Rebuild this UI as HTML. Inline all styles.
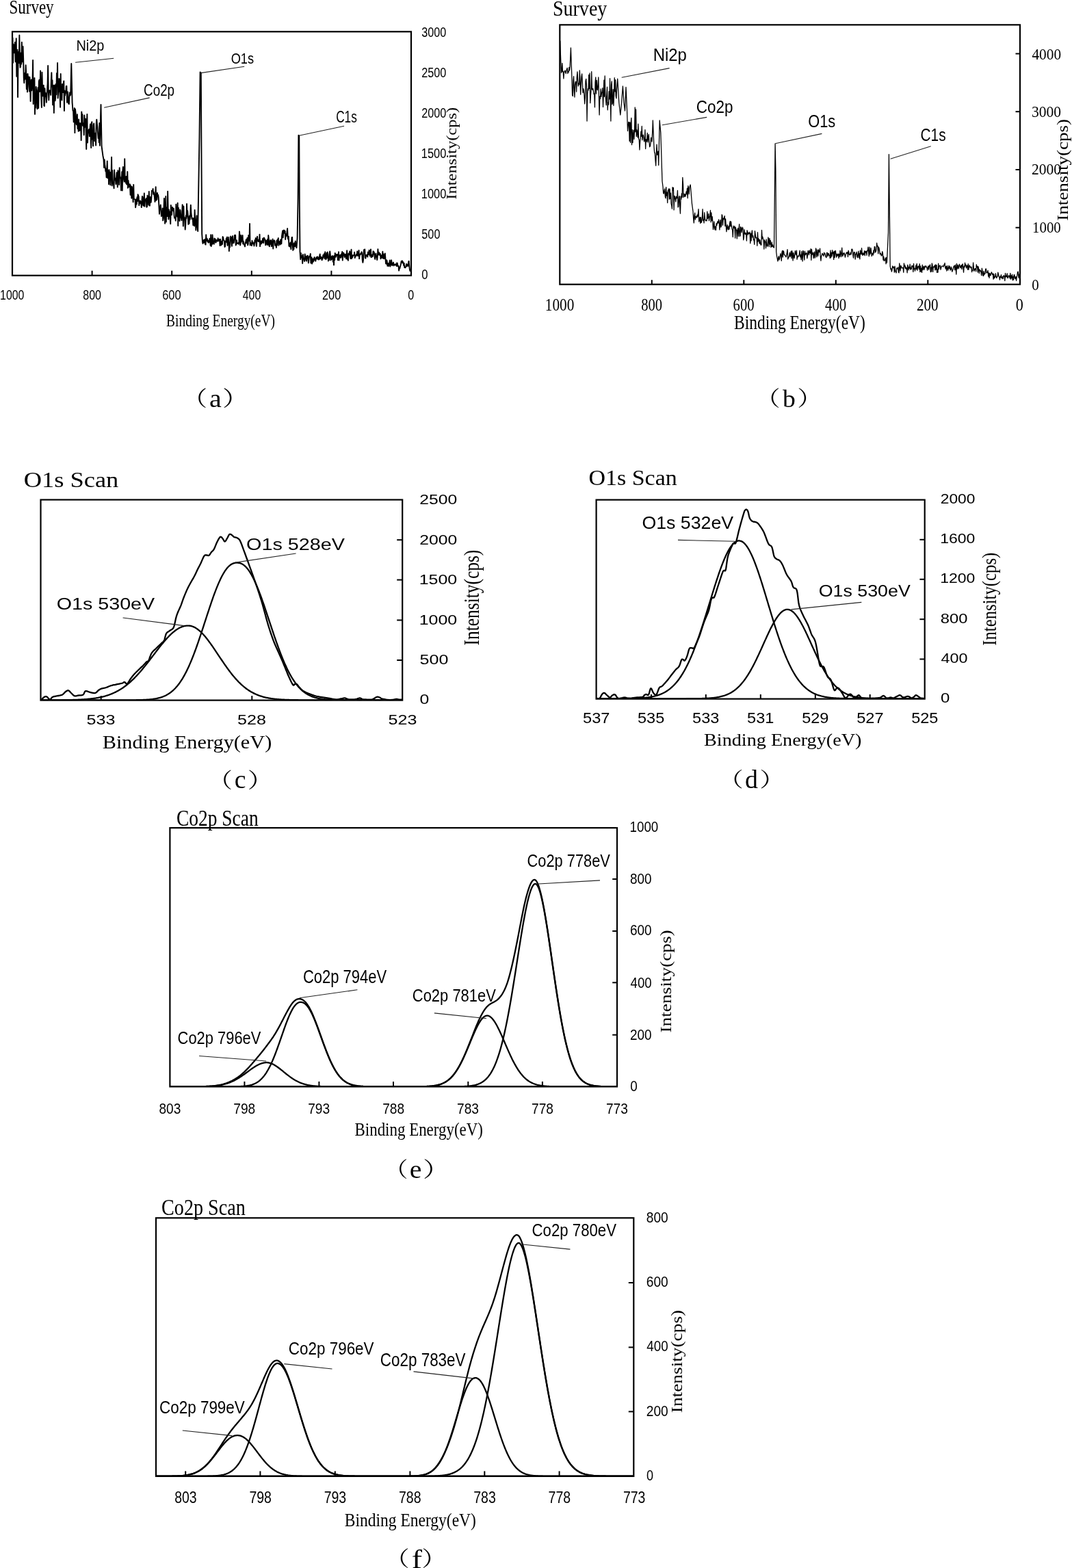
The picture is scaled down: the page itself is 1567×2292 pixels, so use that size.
<!DOCTYPE html>
<html><head><meta charset="utf-8"><title>XPS spectra</title>
<style>
html,body{margin:0;padding:0;background:#fff;}
body{width:1567px;height:2292px;overflow:hidden;}
svg{display:block;}
text{font-size:100px;fill:#000;}
.serif{font-family:'Liberation Serif',serif;}
.sans{font-family:'Liberation Sans',sans-serif;}
.cjk{font-family:'Liberation Serif','Noto Serif CJK SC',serif;}
</style></head>
<body><svg width="1567" height="2292" viewBox="0 0 1567 2292">
<rect width="1567" height="2292" fill="#fff"/>
<clipPath id="ca"><rect x="18" y="46.3" width="583" height="356.4"/></clipPath>
<polyline points="18.50,55.49 19.08,91.62 19.66,64.61 20.24,73.71 20.82,77.21 21.40,69.25 21.98,61.68 22.56,90.30 23.14,87.43 23.72,56.25 24.30,111.70 24.88,96.83 25.46,72.58 26.04,142.00 26.62,75.92 27.20,81.05 27.78,92.03 28.36,51.50 28.94,88.29 29.52,98.62 30.10,97.34 30.68,77.12 31.26,93.63 31.84,61.68 32.42,81.57 33.00,90.34 33.58,67.90 34.16,86.06 34.74,113.60 35.32,121.24 35.90,109.41 36.50,106.61 37.08,115.59 37.66,95.31 38.24,107.82 38.82,130.23 39.40,108.59 39.98,134.38 40.56,108.05 41.14,114.41 41.72,112.07 42.30,126.51 42.88,133.47 43.46,112.77 44.04,124.38 44.62,147.93 45.20,122.82 45.78,116.45 46.36,132.18 46.94,124.35 47.52,118.25 48.10,88.00 48.68,152.05 49.26,120.26 49.84,127.80 50.42,114.07 51.00,166.92 51.58,137.83 52.16,157.54 52.74,126.88 53.32,134.50 53.90,140.11 54.48,159.22 55.06,132.80 55.64,128.04 56.22,158.00 56.80,119.32 57.38,116.61 57.96,133.95 58.54,126.19 59.12,103.53 59.70,127.56 60.28,143.52 60.86,157.00 61.44,105.80 62.02,128.39 62.60,140.29 63.18,132.80 63.76,124.69 64.34,154.37 64.92,155.12 65.50,129.23 66.08,141.16 66.66,135.78 67.24,140.92 67.82,149.73 68.40,141.59 68.98,132.15 69.56,122.60 70.14,96.00 70.72,130.93 71.30,146.40 71.88,135.34 72.46,132.20 73.04,134.94 73.62,132.14 74.20,138.88 74.78,117.25 75.36,106.25 75.94,126.49 76.52,117.16 77.10,153.18 77.68,130.21 78.26,124.79 78.84,165.00 79.42,136.19 80.00,124.50 80.58,147.27 81.16,143.71 81.74,122.77 82.32,138.28 82.90,107.02 83.48,124.35 84.06,92.00 84.64,143.55 85.22,135.64 85.80,133.06 86.38,115.07 86.96,115.93 87.54,136.60 88.12,156.68 88.70,107.86 89.28,142.11 89.86,141.84 90.44,146.47 91.02,122.90 91.60,127.40 92.18,134.96 92.76,121.09 93.34,118.55 93.92,162.00 94.50,132.58 95.08,139.65 95.66,134.55 96.24,135.95 96.82,126.14 97.40,125.75 97.98,149.77 98.56,134.57 99.14,134.30 99.72,147.62 100.30,151.64 100.88,152.17 101.46,140.98 102.04,135.13 102.62,139.63 103.20,138.29 104.30,93.00 105.60,150.00 106.50,161.80 107.08,162.01 107.66,178.38 108.24,167.30 108.82,158.00 109.40,194.12 109.98,159.33 110.56,164.44 111.14,175.60 111.72,181.72 112.30,182.23 112.88,167.12 113.46,188.08 114.04,182.80 114.62,191.86 115.20,174.48 115.78,191.11 116.36,190.84 116.94,179.89 117.52,185.44 118.10,181.27 118.68,205.11 119.26,163.41 119.84,170.32 120.42,167.17 121.00,183.69 121.58,180.01 122.16,183.36 122.74,197.39 123.32,168.34 123.90,178.11 124.48,185.85 125.06,173.80 125.64,193.24 126.22,218.00 126.80,180.00 127.38,167.00 127.96,208.50 128.54,194.65 129.12,194.10 129.70,189.82 130.28,188.88 130.86,199.19 131.44,188.85 132.02,181.36 132.60,197.79 133.18,216.00 133.76,179.77 134.34,178.18 134.92,203.46 135.50,196.98 136.08,213.37 136.66,182.97 137.24,180.38 137.82,194.35 138.40,206.22 138.98,196.75 139.56,194.80 140.14,212.43 140.72,180.64 141.30,174.59 141.88,180.72 142.46,185.92 143.04,194.28 143.62,202.13 144.20,194.74 144.78,208.21 145.36,179.98 145.94,212.85 147.50,153.00 148.60,214.00 150.50,228.00 151.50,233.05 152.08,244.94 152.66,233.39 153.24,240.65 153.82,244.80 154.40,250.48 154.98,246.72 155.56,259.33 156.14,252.27 156.72,235.43 157.30,260.31 157.88,250.96 158.46,248.83 159.04,269.37 159.62,248.30 160.20,258.68 160.78,251.69 161.36,270.36 161.94,254.99 162.52,260.47 163.10,229.63 163.68,271.42 164.26,248.96 164.84,266.86 165.42,268.77 166.00,269.92 166.58,275.23 167.16,248.45 167.74,262.69 168.32,260.39 168.90,263.01 169.48,269.19 170.06,260.37 170.64,252.12 171.22,258.67 171.80,273.48 172.38,249.10 172.96,261.44 173.54,251.04 174.12,269.93 174.70,245.19 175.28,257.04 175.86,259.07 176.44,261.32 177.02,278.35 177.60,274.42 178.18,251.24 178.76,278.59 179.34,249.93 179.92,243.91 180.50,247.34 181.08,262.74 181.66,265.80 182.24,232.27 182.82,265.07 183.40,258.82 183.98,267.67 184.56,257.93 185.14,269.57 185.72,266.63 186.30,251.07 186.88,274.72 187.46,263.70 188.04,268.44 188.62,273.30 190.00,269.31 190.58,284.86 191.16,271.42 191.74,283.54 192.32,289.71 192.90,272.94 193.48,279.87 194.06,286.33 194.64,295.42 195.22,269.83 195.80,290.95 196.38,291.10 197.50,291.58 198.08,303.32 198.66,299.28 199.24,291.19 199.82,298.33 200.40,288.25 200.98,294.19 201.56,284.23 202.14,285.91 202.72,287.55 203.30,300.14 203.88,294.07 204.46,295.95 205.04,293.54 205.62,297.67 206.20,295.09 206.78,303.11 207.36,293.49 207.94,286.99 208.52,287.72 209.10,299.72 209.68,300.88 210.26,295.73 210.84,282.48 211.42,301.77 212.00,294.23 212.58,291.82 213.16,292.35 213.74,289.97 214.32,302.73 214.90,302.25 215.48,285.73 216.06,290.96 216.64,293.89 217.22,299.69 217.80,280.01 218.38,297.08 218.96,300.73 219.54,287.94 220.12,288.86 220.70,295.86 221.28,289.83 221.86,278.78 222.44,278.99 223.02,279.04 223.60,275.94 224.18,283.91 224.76,280.90 225.34,284.35 225.92,288.43 226.50,295.00 227.08,285.65 227.66,273.24 228.24,292.88 228.82,283.89 229.40,291.68 229.98,282.06 230.56,286.67 231.14,284.79 231.72,288.35 233.00,312.78 233.58,304.14 234.16,303.34 234.74,299.40 235.32,305.62 235.90,316.14 236.48,312.30 237.06,314.99 237.64,304.42 238.22,322.36 238.80,319.60 239.38,307.91 239.96,290.03 240.54,308.86 241.12,326.80 241.70,308.02 242.28,286.99 242.86,324.43 243.44,303.20 244.02,313.53 244.60,316.14 245.18,279.73 245.76,310.48 246.34,320.46 246.92,306.49 247.50,315.70 248.08,309.54 248.66,319.42 249.24,327.20 249.82,299.84 250.40,307.52 250.98,313.98 251.56,304.50 252.14,302.78 252.72,307.38 253.30,308.20 253.88,304.69 254.46,314.05 255.04,318.67 255.62,318.21 256.20,317.70 256.78,322.66 257.36,298.59 257.94,310.52 258.52,313.52 259.10,316.82 259.68,296.60 260.26,329.93 260.84,303.81 261.42,314.93 262.00,319.57 262.58,323.03 263.16,306.48 263.74,308.03 264.32,316.78 264.90,318.98 265.48,322.18 266.06,313.30 266.64,299.10 267.22,301.73 267.80,330.59 268.38,301.75 268.96,321.19 269.54,317.46 270.12,322.10 270.70,335.52 271.28,327.85 271.86,315.04 272.44,319.41 273.02,298.00 273.60,316.53 274.18,307.98 274.76,315.06 275.34,327.92 275.92,317.78 276.50,326.90 277.08,315.34 277.66,320.96 278.24,313.77 278.82,299.59 279.40,311.43 279.98,315.64 280.56,320.13 281.14,319.44 281.72,319.01 282.30,329.09 282.88,326.93 283.46,318.81 284.04,330.35 284.62,306.85 285.20,321.96 285.78,323.80 286.36,336.45 286.94,322.05 287.52,315.21 288.10,329.25 289.20,338.00 291.50,200.00 292.60,105.50 293.80,106.50 294.60,250.00 295.20,342.00 296.00,353.56 296.58,355.96 297.16,354.67 297.74,350.98 298.32,351.39 298.90,354.82 299.48,349.58 300.06,357.26 300.64,357.57 301.22,343.08 301.80,351.79 302.38,348.73 302.96,349.27 303.54,353.65 304.12,351.38 304.70,354.69 305.28,353.60 305.86,353.83 306.44,348.65 307.02,350.61 307.60,358.75 308.18,343.19 308.76,359.94 309.34,349.69 309.92,357.53 310.50,343.23 311.08,350.36 311.66,356.07 312.24,352.93 312.82,356.84 313.40,348.34 313.98,349.77 314.56,349.35 315.14,354.59 315.72,354.39 316.30,351.06 316.88,351.14 317.46,351.03 318.04,352.74 318.62,348.09 319.20,352.11 319.78,351.73 320.36,349.96 320.94,349.83 321.52,359.05 322.10,349.65 322.68,354.28 323.26,358.59 323.84,355.77 324.42,352.54 325.00,357.02 325.58,346.05 326.16,346.94 326.74,350.70 327.32,351.50 327.90,352.07 328.48,360.97 329.06,360.12 329.64,352.36 330.22,353.69 330.80,348.47 331.38,353.99 331.96,346.53 332.54,358.87 333.12,350.25 333.70,355.10 334.28,346.72 334.86,367.01 335.44,355.37 336.02,361.45 336.60,352.94 337.18,345.36 337.76,349.13 338.34,347.01 338.92,359.78 339.50,349.87 340.08,344.90 340.66,355.38 341.24,353.91 341.82,354.94 342.40,350.47 342.98,343.74 343.56,346.63 344.14,343.75 344.72,358.53 345.30,356.87 345.88,351.10 346.46,355.60 347.04,355.83 347.62,355.67 348.20,355.21 348.78,356.81 349.36,353.69 349.94,338.44 350.52,343.85 351.10,358.56 351.68,355.56 352.26,343.88 352.84,353.68 353.42,348.95 354.00,350.44 354.58,343.92 355.16,356.40 355.74,352.56 356.32,356.63 356.90,357.86 357.48,358.77 358.06,360.40 358.64,354.30 359.22,353.97 359.80,350.13 360.38,355.39 360.96,351.93 361.54,347.71 362.12,358.42 362.70,356.23 363.28,344.00 363.86,344.61 364.44,352.02 365.02,327.00 365.60,358.56 366.18,354.96 366.76,355.61 367.34,357.28 367.92,359.10 368.50,351.81 369.08,355.89 369.66,354.21 370.24,356.68 370.82,355.59 371.40,359.51 371.98,355.51 372.56,350.90 373.14,353.62 373.72,347.94 374.30,354.52 374.88,359.92 375.46,350.34 376.04,345.60 376.62,352.35 377.20,350.79 377.78,353.07 378.36,350.40 378.94,353.44 379.52,342.58 380.10,360.12 380.68,352.05 381.26,355.41 381.84,356.53 382.42,352.39 383.00,355.14 383.58,351.97 384.16,348.54 384.74,352.07 385.32,355.30 385.90,347.35 386.48,348.98 387.06,349.45 387.64,350.52 388.22,358.33 388.80,352.95 389.38,351.70 389.96,353.74 390.54,357.89 391.12,349.71 391.70,357.73 392.28,344.00 392.86,349.09 393.44,359.78 394.02,360.15 394.60,354.00 395.18,351.21 395.76,356.87 396.34,351.30 396.92,360.15 397.50,358.51 398.08,356.64 398.66,349.36 399.24,363.53 399.82,352.06 400.40,352.14 400.98,351.29 401.56,352.67 402.14,358.68 402.72,357.04 403.30,357.05 403.88,362.00 404.46,351.70 405.04,358.49 405.62,350.27 406.20,352.39 406.78,348.02 407.36,358.75 407.94,354.46 408.52,353.89 409.10,352.77 409.68,357.48 410.26,350.10 410.84,354.63 411.42,356.32 412.00,345.20 412.58,341.01 413.16,337.29 413.74,347.26 414.32,338.98 414.90,336.41 415.48,336.82 416.06,341.01 416.64,337.59 417.22,350.02 417.80,342.30 418.38,343.36 418.96,344.81 419.54,338.90 420.12,334.02 420.70,347.20 421.28,349.80 421.86,345.69 422.44,359.68 423.02,355.43 423.60,360.37 424.18,360.71 424.76,354.52 425.34,364.28 425.92,356.33 426.50,347.37 427.08,346.65 427.66,356.16 428.24,365.82 428.82,356.71 429.40,364.35 429.98,355.28 430.56,359.31 431.14,360.20 431.72,352.35 432.30,358.51 432.88,358.90 433.46,362.31 434.60,348.00 435.60,290.00 436.40,197.80 437.30,198.50 437.80,300.00 438.50,368.00 439.30,379.07 439.88,369.98 440.46,376.66 441.04,374.69 441.62,374.02 442.20,384.97 442.78,371.86 443.36,377.38 443.94,377.39 444.52,380.07 445.10,381.96 445.68,371.48 446.26,375.71 446.84,375.04 447.42,380.62 448.00,381.56 448.58,374.13 449.16,375.60 449.74,373.69 450.32,379.19 450.90,384.38 451.48,379.19 452.06,374.84 452.64,374.30 453.22,374.76 453.80,370.99 454.38,384.51 454.96,377.84 455.54,376.20 456.12,385.45 456.70,378.38 457.28,383.41 457.86,378.54 458.44,381.84 459.02,378.14 459.60,375.92 460.18,379.01 460.76,380.22 461.34,381.69 461.92,378.11 462.50,376.29 463.08,375.79 463.66,378.49 464.24,375.28 464.82,375.90 465.40,379.36 465.98,379.52 466.56,379.17 467.14,374.15 467.72,371.35 468.30,378.20 468.88,377.54 469.46,375.54 470.04,377.87 470.62,380.36 471.20,376.07 471.78,378.40 472.36,372.81 472.94,375.77 473.52,373.24 474.10,370.70 474.68,378.15 475.26,368.30 475.84,376.00 476.42,379.29 477.00,377.69 477.58,369.82 478.16,376.90 478.74,368.54 479.32,372.24 479.90,381.43 480.48,377.11 481.06,380.25 481.64,371.08 482.22,367.37 482.80,372.31 483.38,380.36 483.96,378.84 484.54,379.36 485.12,374.41 485.70,374.57 486.28,374.04 486.86,382.75 487.44,375.05 488.02,387.40 488.60,373.84 489.18,379.99 489.76,370.06 490.34,372.31 490.92,375.68 491.50,371.89 492.08,372.47 492.66,373.39 493.24,371.79 493.82,380.09 494.40,378.34 494.98,368.13 495.56,380.52 496.14,373.43 496.72,373.38 497.30,372.77 497.88,376.86 498.46,376.13 499.04,371.11 499.62,373.34 500.20,367.84 500.78,380.50 501.36,369.65 501.94,369.50 502.52,370.18 503.10,373.60 503.68,376.04 504.26,371.61 504.84,373.13 505.42,371.66 506.00,378.18 506.58,373.92 507.16,366.21 507.74,378.90 508.32,374.33 508.90,380.70 509.48,370.52 510.06,370.98 510.64,372.26 511.22,367.32 511.80,371.46 512.38,377.97 512.96,375.74 513.54,364.79 514.12,378.07 514.70,374.35 515.28,376.18 515.86,373.06 516.44,373.65 517.02,373.10 517.60,373.07 518.18,368.71 518.76,377.02 519.34,373.71 519.92,374.37 520.50,374.21 521.08,371.59 521.66,372.56 522.24,367.44 522.82,373.83 523.40,373.89 523.98,371.80 524.56,365.88 525.14,378.10 525.72,372.05 526.30,372.65 526.88,371.47 527.46,370.32 528.04,371.08 528.62,368.24 529.20,370.34 529.78,380.53 530.36,383.74 530.94,380.51 531.52,370.16 532.10,365.07 532.68,367.17 533.26,364.47 533.84,376.95 534.42,377.51 535.00,373.03 535.58,374.10 536.16,374.05 536.74,372.10 537.32,375.48 537.90,368.49 538.48,370.77 539.06,371.94 539.64,365.71 540.22,368.48 540.80,374.25 541.38,373.88 541.96,364.33 542.54,376.14 543.12,373.87 543.70,375.54 544.28,372.18 544.86,374.79 545.44,367.25 546.02,371.56 546.60,368.14 547.18,370.32 547.76,377.08 548.34,378.89 548.92,372.51 549.50,370.59 550.08,375.47 550.66,374.18 551.24,380.01 551.82,374.85 552.40,364.17 552.98,372.54 553.56,371.00 554.14,369.07 554.72,372.82 555.30,372.50 555.88,370.84 556.46,378.28 557.04,375.87 557.62,373.85 558.20,372.86 558.78,377.09 559.36,367.75 559.94,377.03 560.52,371.24 561.10,378.12 561.68,377.85 562.26,374.15 562.84,370.34 564.00,385.28 564.58,385.65 565.16,380.09 565.74,381.58 566.32,388.71 566.90,387.83 567.48,384.84 568.06,389.09 568.64,386.41 569.22,384.22 569.80,380.35 570.38,389.55 570.96,385.72 571.54,387.20 572.12,380.31 572.70,384.86 573.28,387.95 573.86,386.24 574.44,384.72 575.02,383.59 575.60,388.36 576.18,386.54 576.76,386.82 577.34,387.16 577.92,386.10 578.50,387.38 579.08,386.58 579.66,388.99 580.24,384.20 580.82,385.10 581.40,389.06 581.98,388.22 582.56,389.28 583.14,395.66 583.72,391.22 584.30,392.49 584.88,389.96 585.46,388.04 586.04,385.63 586.62,381.89 587.20,383.37 587.78,381.24 588.36,384.28 588.94,382.60 589.52,384.70 590.10,387.93 590.68,384.66 591.26,390.95 591.84,390.95 592.42,391.32 593.00,390.69 593.58,388.58 594.16,385.82 594.74,389.11 595.32,386.63 595.90,386.74 596.48,388.80 597.06,383.54 597.64,381.62 598.22,388.33 598.80,393.31 599.38,396.01 599.96,394.05" fill="none" stroke="#000" stroke-width="1.9" stroke-linejoin="round" stroke-linecap="round" clip-path="url(#ca)"/>
<rect x="18.00" y="46.30" width="583.00" height="356.40" fill="none" stroke="#000" stroke-width="2.2"/>
<line x1="134.60" y1="402.70" x2="134.60" y2="395.70" stroke="#000" stroke-width="2"/>
<line x1="251.20" y1="402.70" x2="251.20" y2="395.70" stroke="#000" stroke-width="2"/>
<line x1="367.80" y1="402.70" x2="367.80" y2="395.70" stroke="#000" stroke-width="2"/>
<line x1="484.40" y1="402.70" x2="484.40" y2="395.70" stroke="#000" stroke-width="2"/>
<line x1="110.10" y1="91.30" x2="166.20" y2="85.30" stroke="#222" stroke-width="1.1"/>
<line x1="152.20" y1="157.30" x2="218.70" y2="142.90" stroke="#222" stroke-width="1.1"/>
<line x1="293.50" y1="106.60" x2="357.20" y2="97.30" stroke="#222" stroke-width="1.1"/>
<line x1="437.00" y1="198.20" x2="503.00" y2="184.30" stroke="#222" stroke-width="1.1"/>
<text class="sans" transform="matrix(0.1995 0 0 0.2290 111.40 73.90)">Ni2p</text>
<text class="sans" transform="matrix(0.1883 0 0 0.2357 210.06 139.60)">Co2p</text>
<text class="sans" transform="matrix(0.1823 0 0 0.2243 337.68 92.50)">O1s</text>
<text class="sans" transform="matrix(0.1723 0 0 0.2429 491.14 179.40)">C1s</text>
<text class="serif" transform="matrix(0.2297 0 0 0.2846 13.51 20.08)">Survey</text>
<text class="sans" transform="matrix(0.1584 0 0 0.2056 0.11 438.19)">1000</text>
<text class="sans" transform="matrix(0.1603 0 0 0.2056 121.28 438.19)">800</text>
<text class="sans" transform="matrix(0.1646 0 0 0.2056 237.18 438.19)">600</text>
<text class="sans" transform="matrix(0.1584 0 0 0.2056 354.78 438.19)">400</text>
<text class="sans" transform="matrix(0.1633 0 0 0.2056 470.98 438.19)">200</text>
<text class="sans" transform="matrix(0.1604 0 0 0.2056 596.36 438.19)">0</text>
<text class="sans" transform="matrix(0.1619 0 0 0.2056 616.35 53.69)">3000</text>
<text class="sans" transform="matrix(0.1626 0 0 0.2056 616.19 112.81)">2500</text>
<text class="sans" transform="matrix(0.1626 0 0 0.2056 616.19 171.93)">2000</text>
<text class="sans" transform="matrix(0.1645 0 0 0.2056 615.77 231.05)">1500</text>
<text class="sans" transform="matrix(0.1645 0 0 0.2056 615.77 290.17)">1000</text>
<text class="sans" transform="matrix(0.1623 0 0 0.2056 616.35 349.29)">500</text>
<text class="sans" transform="matrix(0.1667 0 0 0.2056 616.33 408.41)">0</text>
<text class="serif" transform="matrix(0.1944 0 0 0.2527 243.12 476.87)">Binding Energy(eV)</text>
<text class="serif" transform="translate(666.96 291.66) rotate(-90) scale(0.2454 0.2066)">Intensity(cps)</text>
<text class="cjk" transform="matrix(0.3684 0 0 0.3070 266.25 592.89)">（</text>
<text class="serif" transform="matrix(0.4000 0 0 0.3771 306.00 594.62)">a</text>
<text class="cjk" transform="matrix(0.3860 0 0 0.3070 324.99 592.89)">）</text>
<clipPath id="cb"><rect x="818.3" y="36.3" width="672.7" height="379.4"/></clipPath>
<polyline points="818.80,60.00 819.40,80.00 820.00,96.00 820.50,106.33 821.17,104.27 821.84,92.41 822.51,104.95 823.18,103.99 823.85,114.94 824.52,105.23 825.19,105.10 825.86,103.00 826.53,105.09 827.20,107.63 827.87,103.19 828.54,101.19 829.21,99.29 829.88,107.53 830.55,104.93 831.22,105.34 831.89,98.43 832.56,102.83 833.23,96.61 834.40,70.00 835.80,110.00 836.60,139.13 837.27,140.46 837.94,117.67 838.61,111.69 839.28,132.93 839.95,142.00 840.62,123.57 841.29,119.49 841.96,119.33 842.63,134.10 843.30,112.86 843.97,104.79 844.64,116.72 845.31,125.94 845.98,121.56 846.65,123.64 847.32,102.85 847.99,115.68 848.66,138.16 849.33,124.13 850.00,112.04 850.67,108.00 851.34,120.23 852.01,135.63 852.68,129.63 853.35,132.07 854.02,139.65 854.69,151.73 855.36,142.94 856.03,118.28 856.70,115.37 857.37,124.82 858.04,177.00 858.71,137.37 859.38,129.68 860.05,131.91 860.72,109.38 861.39,129.25 862.06,107.00 862.73,150.59 863.40,139.79 864.07,131.63 864.74,104.62 865.41,130.73 866.08,131.04 866.75,129.43 867.42,133.19 868.09,137.60 868.76,137.04 869.43,156.83 870.10,120.02 870.77,112.95 871.44,137.04 872.11,117.38 872.78,130.02 873.45,131.74 874.12,122.93 874.79,113.00 875.46,141.15 876.13,168.00 876.80,141.02 877.47,144.45 878.14,130.02 878.81,141.39 879.48,135.89 880.15,134.29 880.82,128.69 881.49,156.40 882.16,138.89 882.83,117.19 883.50,141.32 884.17,110.83 884.84,138.83 885.51,145.25 886.18,153.63 886.85,138.55 887.52,127.21 888.19,160.80 888.86,149.53 889.53,152.98 890.20,133.54 890.87,144.97 891.54,114.64 892.21,143.31 892.88,177.00 893.55,124.42 894.22,118.92 894.89,152.53 895.56,149.87 896.23,130.65 896.90,154.28 897.57,139.54 898.24,113.65 898.91,133.83 899.58,116.67 900.25,140.09 900.92,143.78 901.59,129.53 902.70,115.20 904.80,150.00 906.80,168.00 908.60,150.00 910.40,126.00 912.00,150.00 913.50,162.00 915.00,127.50 916.50,160.00 917.50,191.49 918.17,184.43 918.84,178.47 919.51,178.67 920.18,206.29 920.85,178.87 921.52,208.43 922.19,180.34 922.86,172.30 923.53,211.65 924.20,189.54 924.87,208.60 925.54,197.21 926.21,190.14 926.88,203.52 927.55,190.37 928.22,157.00 928.89,192.83 929.56,160.00 930.23,199.50 930.90,189.73 931.57,194.38 932.24,200.87 932.91,181.19 933.58,203.07 934.25,203.90 934.92,219.04 935.59,207.35 936.26,202.47 936.93,192.03 937.60,199.27 938.27,184.46 938.94,204.75 939.61,198.50 940.28,197.08 940.95,201.63 941.62,206.81 942.29,205.10 942.96,189.69 943.63,217.53 944.30,203.75 944.97,207.45 945.64,204.25 946.31,194.32 946.98,207.86 947.65,201.08 948.32,196.47 948.99,207.51 949.66,214.80 950.33,213.60 951.00,209.44 951.67,201.05 952.34,204.58 953.01,207.07 953.68,193.39 954.35,176.00 956.00,215.06 956.67,223.00 957.34,223.75 958.01,234.14 958.68,242.22 959.35,224.03 960.02,211.14 960.69,226.53 961.36,224.60 962.03,221.22 962.70,241.48 964.20,176.00 965.80,194.00 968.00,265.00 969.00,272.55 969.67,282.10 970.34,283.17 971.01,278.30 971.68,275.99 972.35,287.40 973.02,289.75 973.69,273.55 974.36,286.01 975.03,281.21 975.70,296.54 976.37,279.07 977.04,277.45 977.71,275.86 978.38,291.19 979.05,276.27 979.72,290.56 980.39,282.09 981.06,297.64 981.73,300.22 982.40,305.13 983.07,273.68 983.74,278.36 984.41,274.34 985.08,306.96 985.75,286.28 986.42,287.43 987.09,290.77 987.76,294.90 988.43,287.12 989.10,289.98 989.77,289.07 990.44,278.44 991.11,302.97 991.78,302.04 992.45,288.14 993.12,286.55 993.79,302.30 994.46,312.19 995.13,287.12 995.80,291.21 996.47,282.81 997.14,288.44 997.81,259.42 998.48,268.71 999.15,288.47 999.82,283.05 1000.49,287.14 1001.16,283.94 1001.83,287.35 1002.50,283.97 1003.17,280.03 1003.84,283.83 1004.51,275.08 1005.18,289.71 1005.85,271.60 1006.52,275.15 1007.19,283.75 1007.86,274.10 1009.20,270.00 1011.50,298.00 1013.00,308.82 1013.67,319.76 1014.34,325.97 1015.01,314.79 1015.68,311.25 1016.35,320.86 1017.02,316.50 1017.69,317.28 1018.36,318.12 1019.03,314.20 1019.70,317.06 1020.37,312.98 1021.04,305.68 1021.71,323.98 1022.38,319.65 1023.05,317.68 1023.72,326.42 1024.39,317.56 1025.06,325.46 1025.73,323.87 1026.40,317.33 1027.07,305.72 1027.74,322.34 1028.41,321.03 1029.08,325.98 1029.75,310.72 1030.42,319.52 1031.09,321.87 1031.76,322.73 1032.43,321.57 1033.10,322.92 1033.77,309.17 1034.44,319.56 1035.11,317.60 1035.78,312.50 1036.45,322.72 1037.12,318.02 1037.79,315.43 1038.46,307.49 1039.13,324.77 1039.80,310.97 1040.47,322.65 1041.14,316.64 1041.81,324.42 1042.48,335.41 1043.15,330.19 1043.82,323.86 1044.49,333.53 1045.16,336.02 1045.83,330.84 1046.50,336.25 1047.17,326.56 1047.84,329.31 1048.51,325.17 1049.18,323.57 1049.85,326.23 1050.52,320.82 1051.19,324.18 1051.86,335.87 1052.53,327.57 1053.20,321.33 1053.87,332.16 1054.54,329.72 1055.21,313.73 1055.88,315.20 1056.55,329.16 1057.22,319.16 1057.89,320.94 1058.56,317.89 1059.23,315.63 1059.90,330.57 1060.57,319.95 1061.24,329.39 1061.91,338.64 1062.58,331.88 1063.25,328.60 1063.92,334.97 1064.59,335.79 1065.26,330.49 1065.93,335.11 1066.60,326.46 1067.27,323.47 1067.94,330.95 1068.61,324.00 1069.28,330.95 1069.95,334.23 1070.62,336.27 1071.29,346.41 1071.96,330.24 1072.63,333.23 1073.30,333.45 1073.97,330.51 1074.64,348.03 1075.31,332.37 1075.98,335.74 1076.65,336.33 1077.32,348.87 1077.99,336.07 1078.66,333.71 1079.33,345.34 1080.00,334.83 1080.67,327.72 1081.34,345.42 1082.01,344.53 1082.68,331.55 1083.35,332.87 1084.02,339.81 1084.69,334.89 1085.36,332.10 1086.03,334.14 1086.70,350.75 1087.37,347.08 1088.04,335.62 1088.71,340.83 1089.38,342.48 1090.05,340.32 1090.72,342.19 1091.39,352.00 1092.06,336.59 1092.73,339.00 1093.40,343.09 1094.07,340.01 1094.74,341.48 1095.41,341.74 1096.08,339.09 1096.75,355.68 1097.42,341.33 1098.09,351.87 1098.76,340.89 1099.43,336.84 1100.10,347.05 1100.77,344.74 1101.44,350.74 1102.11,350.19 1102.78,357.33 1103.45,337.66 1104.12,342.34 1104.79,347.78 1105.46,347.23 1106.13,348.37 1106.80,359.26 1107.47,339.59 1108.14,353.10 1108.81,348.75 1109.48,350.09 1110.15,356.15 1110.82,350.59 1111.49,355.29 1112.16,358.20 1112.83,358.02 1113.50,336.48 1114.17,349.14 1114.84,346.10 1115.51,349.09 1116.18,352.45 1116.85,364.09 1117.52,350.76 1118.19,352.85 1118.86,353.83 1119.53,362.75 1120.20,349.86 1120.87,357.99 1121.54,360.21 1122.21,359.24 1122.88,346.98 1123.55,350.17 1124.22,360.69 1124.89,348.36 1125.56,356.99 1126.23,351.43 1126.90,361.49 1127.57,360.09 1128.24,353.97 1128.91,360.66 1129.58,357.93 1130.25,360.91 1131.50,362.00 1132.40,280.00 1133.10,209.80 1133.90,250.00 1134.70,368.00 1135.60,375.17 1136.27,378.18 1136.94,381.83 1137.61,377.43 1138.28,374.67 1138.95,379.98 1139.62,377.74 1140.29,374.39 1140.96,370.75 1141.63,374.09 1142.30,381.24 1142.97,368.87 1143.64,366.48 1144.31,375.91 1144.98,366.72 1145.65,367.75 1146.32,372.62 1146.99,372.45 1147.66,373.74 1148.33,374.20 1149.00,375.79 1149.67,372.95 1150.34,369.67 1151.01,364.56 1151.68,378.88 1152.35,376.81 1153.02,376.05 1153.69,373.13 1154.36,369.26 1155.03,375.32 1155.70,372.36 1156.37,367.04 1157.04,377.69 1157.71,366.71 1158.38,371.11 1159.05,380.90 1159.72,369.38 1160.39,373.77 1161.06,377.68 1161.73,372.95 1162.40,366.59 1163.07,370.66 1163.74,372.62 1164.41,366.10 1165.08,379.20 1165.75,374.19 1166.42,375.92 1167.09,373.91 1167.76,374.39 1168.43,371.06 1169.10,366.04 1169.77,375.62 1170.44,372.74 1171.11,379.58 1171.78,367.34 1172.45,373.24 1173.12,381.92 1173.79,366.47 1174.46,367.12 1175.13,373.43 1175.80,379.99 1176.47,367.04 1177.14,372.62 1177.81,371.50 1178.48,369.80 1179.15,369.85 1179.82,377.72 1180.49,372.84 1181.16,366.30 1181.83,369.40 1182.50,372.57 1183.17,365.83 1183.84,368.99 1184.51,370.25 1185.18,363.58 1185.85,380.34 1186.52,364.74 1187.19,372.25 1187.86,371.17 1188.53,369.21 1189.20,377.35 1189.87,372.16 1190.54,368.11 1191.21,377.10 1191.88,374.30 1192.55,362.98 1193.22,364.93 1193.89,375.74 1194.56,371.13 1195.23,365.16 1195.90,374.18 1196.57,365.23 1197.24,368.56 1197.91,367.96 1198.58,363.19 1199.25,374.70 1199.92,381.15 1200.59,374.47 1201.26,373.40 1201.93,370.40 1202.60,371.23 1203.27,372.77 1203.94,374.32 1204.61,369.24 1205.28,371.68 1205.95,370.53 1206.62,374.00 1207.29,375.72 1207.96,376.44 1208.63,369.48 1209.30,369.32 1209.97,374.59 1210.64,370.32 1211.31,370.53 1211.98,373.57 1212.65,373.20 1213.32,377.46 1213.99,366.01 1214.66,376.54 1215.33,369.37 1216.00,374.51 1216.67,365.62 1217.34,370.86 1218.01,368.64 1218.68,379.41 1219.35,367.14 1220.02,376.54 1220.69,367.76 1221.36,366.33 1222.03,372.75 1222.70,376.12 1223.37,371.07 1224.04,374.03 1224.71,372.38 1225.38,371.04 1226.05,377.53 1226.72,371.30 1227.39,375.19 1228.06,366.04 1228.73,370.39 1229.40,375.48 1230.07,369.15 1230.74,362.27 1231.41,374.58 1232.08,373.79 1232.75,369.88 1233.42,371.66 1234.09,369.64 1234.76,372.88 1235.43,376.10 1236.10,372.51 1236.77,370.70 1237.44,368.90 1238.11,370.35 1238.78,368.78 1239.45,375.40 1240.12,366.26 1240.79,368.38 1241.46,372.57 1242.13,372.49 1242.80,372.10 1243.47,369.05 1244.14,371.84 1244.81,364.48 1245.48,364.04 1246.15,365.10 1246.82,372.58 1247.49,377.02 1248.16,368.91 1248.83,368.32 1249.50,369.51 1250.17,378.98 1250.84,371.78 1251.51,371.26 1252.18,368.26 1252.85,374.95 1253.52,376.64 1254.19,371.63 1254.86,367.12 1255.53,376.65 1256.20,370.63 1256.87,378.73 1257.54,365.95 1258.21,370.01 1258.88,371.85 1259.55,362.75 1260.22,371.04 1260.89,373.35 1261.56,370.00 1262.23,372.53 1262.90,371.32 1263.57,366.70 1264.24,373.72 1264.91,367.07 1265.58,369.06 1266.25,367.07 1266.92,373.24 1267.59,366.63 1268.26,366.57 1268.93,361.17 1269.60,369.01 1270.27,374.72 1270.94,361.12 1271.61,371.85 1272.28,369.98 1272.95,362.35 1273.62,368.25 1274.29,374.36 1274.96,370.04 1275.63,370.72 1276.30,372.98 1276.97,365.90 1277.64,369.86 1278.31,360.34 1278.98,361.01 1279.65,368.97 1280.32,367.52 1280.99,364.92 1281.66,355.27 1282.33,360.09 1283.00,359.40 1283.67,370.78 1284.34,361.03 1285.01,362.89 1285.68,366.87 1286.35,371.70 1287.02,370.11 1287.69,371.52 1288.36,373.99 1289.03,373.51 1289.70,367.57 1290.37,370.12 1291.04,380.02 1291.71,375.26 1292.38,381.35 1293.05,380.57 1293.72,379.85 1294.39,377.02 1295.06,385.82 1295.73,376.31 1296.40,383.95 1298.50,340.00 1299.40,225.60 1300.20,300.00 1301.20,389.00 1302.00,393.75 1302.67,392.60 1303.34,397.12 1304.01,394.54 1304.68,388.91 1305.35,391.64 1306.02,389.96 1306.69,390.46 1307.36,398.12 1308.03,389.14 1308.70,396.33 1309.37,397.14 1310.04,398.93 1310.71,391.90 1311.38,392.77 1312.05,392.91 1312.72,390.58 1313.39,398.07 1314.06,398.72 1314.73,384.89 1315.40,390.72 1316.07,396.01 1316.74,388.20 1317.41,389.38 1318.08,391.91 1318.75,391.75 1319.42,391.14 1320.09,391.29 1320.76,398.14 1321.43,384.84 1322.10,389.96 1322.77,387.72 1323.44,392.57 1324.11,390.16 1324.78,393.41 1325.45,391.75 1326.12,398.80 1326.79,387.07 1327.46,390.00 1328.13,394.78 1328.80,390.34 1329.47,392.21 1330.14,386.27 1330.81,394.17 1331.48,391.20 1332.15,393.63 1332.82,388.39 1333.49,389.68 1334.16,388.57 1334.83,397.45 1335.50,385.39 1336.17,393.09 1336.84,392.48 1337.51,396.05 1338.18,392.54 1338.85,387.90 1339.52,393.35 1340.19,385.41 1340.86,395.25 1341.53,391.13 1342.20,388.87 1342.87,389.73 1343.54,393.55 1344.21,385.55 1344.88,397.51 1345.55,388.96 1346.22,396.84 1346.89,392.05 1347.56,398.25 1348.23,387.13 1348.90,394.55 1349.57,391.21 1350.24,389.17 1350.91,394.40 1351.58,390.57 1352.25,388.79 1352.92,390.62 1353.59,388.62 1354.26,390.58 1354.93,391.21 1355.60,395.20 1356.27,391.02 1356.94,388.60 1357.61,394.03 1358.28,390.03 1358.95,387.87 1359.62,387.02 1360.29,397.56 1360.96,390.91 1361.63,397.02 1362.30,384.84 1362.97,387.50 1363.64,397.38 1364.31,390.35 1364.98,389.86 1365.65,390.44 1366.32,387.57 1366.99,394.86 1367.66,386.91 1368.33,393.93 1369.00,387.39 1369.67,398.43 1370.34,393.76 1371.01,398.11 1371.68,385.15 1372.35,393.25 1373.02,388.92 1373.69,388.07 1374.36,388.16 1375.03,394.10 1375.70,391.29 1376.37,389.37 1377.04,388.99 1377.71,388.84 1378.38,389.20 1379.05,390.12 1379.72,387.03 1380.39,387.87 1381.06,384.33 1381.73,390.97 1382.40,393.12 1383.07,389.32 1383.74,396.00 1384.41,388.35 1385.08,391.18 1385.75,395.18 1386.42,391.93 1387.09,388.23 1387.76,392.33 1388.43,389.63 1389.10,395.01 1389.77,393.77 1390.44,390.25 1391.11,392.90 1391.78,397.19 1392.45,395.04 1393.12,394.09 1393.79,390.37 1394.46,388.94 1395.13,388.35 1395.80,394.66 1396.47,387.18 1397.14,392.44 1397.81,401.05 1398.48,385.36 1399.15,393.10 1399.82,387.46 1400.49,390.53 1401.16,392.82 1401.83,387.47 1402.50,386.29 1403.17,389.53 1403.84,391.70 1404.51,389.55 1405.18,387.55 1405.85,393.36 1406.52,386.95 1407.19,385.82 1407.86,391.29 1408.53,398.10 1409.20,389.12 1409.87,390.59 1410.54,384.23 1411.21,388.73 1411.88,386.88 1412.55,391.85 1413.22,388.47 1413.89,388.07 1414.56,394.16 1415.23,385.70 1415.90,394.14 1416.57,390.19 1417.24,387.59 1417.91,390.51 1418.58,389.85 1419.25,391.95 1419.92,390.05 1420.59,397.68 1421.26,394.97 1421.93,395.43 1422.60,383.97 1423.27,390.74 1423.94,396.34 1424.61,394.50 1425.28,392.73 1425.95,392.59 1426.62,396.74 1427.29,386.77 1427.96,390.60 1428.63,389.06 1429.30,397.99 1429.97,389.56 1430.64,393.59 1431.31,399.34 1431.98,393.95 1432.65,396.18 1433.32,395.54 1433.99,397.97 1434.66,402.65 1435.33,392.20 1436.00,396.19 1436.67,402.12 1437.34,403.50 1438.01,396.34 1438.68,401.88 1439.35,399.74 1440.02,399.84 1440.69,393.31 1441.36,392.87 1442.03,398.90 1442.70,398.27 1443.37,398.58 1444.04,395.30 1444.71,404.04 1445.38,399.00 1446.05,406.26 1446.72,399.31 1447.39,401.48 1448.06,402.93 1448.73,399.64 1449.40,397.78 1450.07,399.41 1450.74,401.49 1451.41,400.08 1452.08,408.17 1452.75,400.50 1453.42,406.69 1454.09,405.14 1454.76,403.85 1455.43,399.73 1456.10,404.88 1456.77,406.45 1457.44,404.29 1458.11,404.06 1458.78,398.19 1459.45,401.11 1460.12,404.11 1460.79,405.48 1461.46,409.03 1462.13,403.98 1462.80,405.39 1463.47,401.69 1464.14,406.67 1464.81,406.91 1465.48,404.33 1466.15,407.57 1466.82,402.93 1467.49,403.05 1468.16,403.61 1468.83,410.47 1469.50,399.50 1470.17,404.96 1470.84,403.25 1471.51,404.61 1472.18,399.75 1472.85,406.41 1473.52,406.14 1474.19,403.30 1474.86,402.75 1475.53,404.21 1476.20,406.87 1476.87,399.29 1477.54,408.14 1478.21,402.90 1478.88,406.34 1479.55,401.25 1480.22,409.66 1480.89,404.50 1481.56,409.02 1482.23,401.76 1482.90,401.63 1483.57,406.97 1484.24,407.44 1484.91,404.51 1485.58,410.26 1486.25,404.69 1486.92,402.33 1487.59,397.58 1488.26,397.15 1488.93,405.19 1489.60,406.38 1490.27,400.41" fill="none" stroke="#000" stroke-width="1.3" stroke-linejoin="round" stroke-linecap="round" clip-path="url(#cb)"/>
<rect x="818.30" y="36.30" width="672.70" height="379.40" fill="none" stroke="#000" stroke-width="2.2"/>
<line x1="952.80" y1="415.70" x2="952.80" y2="409.20" stroke="#000" stroke-width="2"/>
<line x1="1087.30" y1="415.70" x2="1087.30" y2="409.20" stroke="#000" stroke-width="2"/>
<line x1="1221.80" y1="415.70" x2="1221.80" y2="409.20" stroke="#000" stroke-width="2"/>
<line x1="1356.30" y1="415.70" x2="1356.30" y2="409.20" stroke="#000" stroke-width="2"/>
<line x1="1491.00" y1="78.50" x2="1484.50" y2="78.50" stroke="#000" stroke-width="2"/>
<line x1="1491.00" y1="163.20" x2="1484.50" y2="163.20" stroke="#000" stroke-width="2"/>
<line x1="1491.00" y1="248.00" x2="1484.50" y2="248.00" stroke="#000" stroke-width="2"/>
<line x1="1491.00" y1="332.70" x2="1484.50" y2="332.70" stroke="#000" stroke-width="2"/>
<line x1="908.70" y1="113.30" x2="978.60" y2="99.60" stroke="#222" stroke-width="1.1"/>
<line x1="968.00" y1="182.80" x2="1033.20" y2="171.40" stroke="#222" stroke-width="1.1"/>
<line x1="1133.50" y1="209.70" x2="1201.40" y2="195.40" stroke="#222" stroke-width="1.1"/>
<line x1="1301.50" y1="232.30" x2="1360.70" y2="213.80" stroke="#222" stroke-width="1.1"/>
<text class="sans" transform="matrix(0.2393 0 0 0.2566 954.69 88.50)">Ni2p</text>
<text class="sans" transform="matrix(0.2248 0 0 0.2514 1017.68 165.00)">Co2p</text>
<text class="sans" transform="matrix(0.2182 0 0 0.2629 1181.22 186.00)">O1s</text>
<text class="sans" transform="matrix(0.2088 0 0 0.2600 1345.46 205.50)">C1s</text>
<text class="serif" transform="matrix(0.2807 0 0 0.3177 807.88 22.87)">Survey</text>
<text class="serif" transform="matrix(0.2128 0 0 0.2415 796.79 454.06)">1000</text>
<text class="serif" transform="matrix(0.2056 0 0 0.2415 937.18 454.06)">800</text>
<text class="serif" transform="matrix(0.2063 0 0 0.2415 1071.57 454.06)">600</text>
<text class="serif" transform="matrix(0.2083 0 0 0.2415 1205.98 454.06)">400</text>
<text class="serif" transform="matrix(0.2099 0 0 0.2415 1339.96 454.06)">200</text>
<text class="serif" transform="matrix(0.2212 0 0 0.2415 1484.82 454.06)">0</text>
<text class="serif" transform="matrix(0.2129 0 0 0.2252 1508.47 86.87)">4000</text>
<text class="serif" transform="matrix(0.2156 0 0 0.2252 1507.93 170.77)">3000</text>
<text class="serif" transform="matrix(0.2156 0 0 0.2252 1507.93 255.27)">2000</text>
<text class="serif" transform="matrix(0.2090 0 0 0.2252 1509.02 339.77)">1000</text>
<text class="serif" transform="matrix(0.2094 0 0 0.2252 1508.36 424.37)">0</text>
<text class="serif" transform="matrix(0.2347 0 0 0.2857 1073.10 480.56)">Binding Energy(eV)</text>
<text class="serif" transform="translate(1560.57 322.85) rotate(-90) scale(0.2712 0.2385)">Intensity(cps)</text>
<text class="cjk" transform="matrix(0.3719 0 0 0.3080 1103.52 592.88)">（</text>
<text class="serif" transform="matrix(0.3763 0 0 0.3645 1143.90 594.84)">b</text>
<text class="cjk" transform="matrix(0.3719 0 0 0.3080 1165.28 592.88)">）</text>
<clipPath id="cc"><rect x="59.5" y="730.5" width="528.7" height="293.1"/></clipPath>
<polyline points="60.70,1022.70 61.12,1022.26 61.70,1021.63 62.39,1020.90 63.12,1020.16 63.85,1019.49 64.50,1019.00 65.09,1018.66 65.67,1018.39 66.24,1018.19 66.80,1018.09 67.36,1018.09 67.90,1018.20 68.44,1018.47 68.99,1018.91 69.53,1019.44 70.04,1020.01 70.54,1020.56 71.00,1021.00 71.41,1021.40 71.78,1021.83 72.12,1022.23 72.46,1022.54 72.81,1022.71 73.20,1022.70 73.63,1022.43 74.10,1021.93 74.58,1021.29 75.06,1020.61 75.54,1019.98 76.00,1019.50 76.40,1019.17 76.74,1018.92 77.07,1018.73 77.46,1018.56 77.95,1018.39 78.60,1018.20 79.45,1018.00 80.46,1017.80 81.58,1017.61 82.75,1017.42 83.91,1017.22 85.00,1017.00 86.05,1016.80 87.10,1016.63 88.14,1016.46 89.17,1016.23 90.16,1015.93 91.10,1015.50 92.00,1014.89 92.86,1014.12 93.68,1013.26 94.48,1012.40 95.25,1011.62 96.00,1011.00 96.72,1010.49 97.40,1010.03 98.06,1009.64 98.70,1009.36 99.34,1009.24 100.00,1009.30 100.66,1009.60 101.30,1010.11 101.94,1010.77 102.59,1011.52 103.28,1012.29 104.00,1013.00 104.76,1013.74 105.56,1014.58 106.38,1015.43 107.22,1016.22 108.10,1016.87 109.00,1017.30 109.94,1017.46 110.91,1017.42 111.91,1017.23 112.93,1016.97 113.96,1016.70 115.00,1016.50 116.09,1016.39 117.24,1016.34 118.41,1016.28 119.54,1016.16 120.58,1015.92 121.50,1015.50 122.22,1014.78 122.76,1013.79 123.22,1012.67 123.69,1011.60 124.25,1010.72 125.00,1010.20 125.96,1010.10 127.06,1010.31 128.26,1010.71 129.51,1011.20 130.78,1011.67 132.00,1012.00 133.23,1012.26 134.51,1012.54 135.79,1012.81 137.05,1012.99 138.23,1013.04 139.30,1012.90 140.24,1012.51 141.07,1011.90 141.84,1011.16 142.56,1010.37 143.27,1009.62 144.00,1009.00 144.71,1008.50 145.37,1008.06 146.03,1007.66 146.70,1007.29 147.45,1006.94 148.30,1006.60 149.27,1006.30 150.32,1006.06 151.44,1005.83 152.61,1005.60 153.80,1005.33 155.00,1005.00 156.22,1004.58 157.47,1004.08 158.76,1003.55 160.05,1003.02 161.33,1002.52 162.60,1002.10 163.83,1001.76 165.03,1001.48 166.23,1001.24 167.44,1001.01 168.69,1000.77 170.00,1000.50 171.44,1000.20 173.00,999.88 174.61,999.55 176.15,999.22 177.55,998.90 178.70,998.60 179.56,998.27 180.18,997.89 180.66,997.53 181.06,997.22 181.48,997.03 182.00,997.00 182.59,997.30 183.18,997.90 183.78,998.62 184.41,999.26 185.08,999.61 185.80,999.50 186.58,998.82 187.42,997.71 188.29,996.33 189.19,994.82 190.10,993.33 191.00,992.00 191.88,990.83 192.75,989.70 193.63,988.58 194.53,987.47 195.48,986.35 196.50,985.20 197.62,984.00 198.84,982.75 200.11,981.49 201.38,980.25 202.59,979.08 203.70,978.00 204.69,977.05 205.60,976.20 206.46,975.41 207.30,974.64 208.13,973.85 209.00,973.00 209.93,972.04 210.90,970.99 211.87,969.92 212.80,968.90 213.66,968.00 214.40,967.30 214.97,966.94 215.40,966.91 215.75,966.99 216.09,967.00 216.48,966.74 217.00,966.00 217.63,964.66 218.32,962.84 219.06,960.74 219.86,958.57 220.71,956.53 221.60,954.80 222.55,953.42 223.55,952.23 224.60,951.17 225.70,950.16 226.83,949.12 228.00,948.00 229.26,946.76 230.63,945.44 232.04,944.11 233.41,942.80 234.69,941.58 235.80,940.50 236.72,939.64 237.51,938.97 238.20,938.39 238.82,937.78 239.41,937.02 240.00,936.00 240.55,934.61 241.01,932.92 241.45,931.08 241.90,929.25 242.40,927.57 243.00,926.20 243.71,925.18 244.49,924.40 245.33,923.78 246.21,923.23 247.10,922.66 248.00,922.00 248.93,921.36 249.93,920.83 250.94,920.28 251.93,919.60 252.86,918.64 253.70,917.30 254.43,915.40 255.09,913.01 255.69,910.36 256.24,907.66 256.78,905.13 257.30,903.00 257.78,901.32 258.20,899.94 258.60,898.72 259.01,897.57 259.46,896.37 260.00,895.00 260.64,893.46 261.37,891.85 262.14,890.18 262.93,888.49 263.69,886.78 264.40,885.10 265.03,883.46 265.59,881.86 266.14,880.25 266.70,878.60 267.31,876.86 268.00,875.00 268.81,872.94 269.70,870.70 270.64,868.38 271.59,866.07 272.53,863.87 273.40,861.90 274.20,860.20 274.94,858.69 275.66,857.31 276.39,855.95 277.16,854.54 278.00,853.00 278.94,851.30 279.97,849.52 281.03,847.68 282.10,845.83 283.14,843.99 284.10,842.20 285.00,840.44 285.86,838.66 286.68,836.91 287.48,835.19 288.25,833.55 289.00,832.00 289.70,830.62 290.35,829.39 290.97,828.24 291.60,827.06 292.26,825.78 293.00,824.30 293.84,822.47 294.76,820.34 295.73,818.09 296.68,815.94 297.59,814.08 298.40,812.70 299.11,811.88 299.74,811.47 300.32,811.36 300.87,811.40 301.43,811.49 302.00,811.50 302.59,811.52 303.17,811.68 303.76,811.87 304.34,812.02 304.92,812.03 305.50,811.80 306.08,811.29 306.66,810.55 307.24,809.67 307.82,808.74 308.41,807.82 309.00,807.00 309.60,806.34 310.20,805.80 310.80,805.27 311.41,804.67 312.05,803.91 312.70,802.90 313.39,801.55 314.10,799.93 314.83,798.14 315.57,796.31 316.29,794.56 317.00,793.00 317.70,791.57 318.41,790.16 319.12,788.83 319.80,787.63 320.43,786.60 321.00,785.80 321.49,785.25 321.91,784.92 322.29,784.76 322.64,784.75 323.01,784.84 323.40,785.00 323.82,785.27 324.25,785.70 324.68,786.22 325.12,786.81 325.56,787.42 326.00,788.00 326.44,788.66 326.87,789.46 327.31,790.28 327.75,790.99 328.21,791.47 328.70,791.60 329.22,791.32 329.77,790.71 330.33,789.87 330.90,788.90 331.46,787.91 332.00,787.00 332.53,786.08 333.05,785.04 333.56,783.99 334.06,782.99 334.54,782.13 335.00,781.50 335.42,781.11 335.80,780.90 336.17,780.84 336.53,780.87 336.90,780.97 337.30,781.10 337.73,781.28 338.19,781.56 338.66,781.91 339.13,782.28 339.58,782.66 340.00,783.00 340.36,783.33 340.68,783.66 340.97,784.00 341.29,784.33 341.65,784.63 342.10,784.90 342.65,785.11 343.27,785.27 343.94,785.40 344.64,785.54 345.33,785.73 346.00,786.00 346.65,786.33 347.31,786.69 347.98,787.09 348.62,787.55 349.23,788.08 349.80,788.70 350.31,789.40 350.77,790.17 351.20,791.01 351.62,791.93 352.05,792.92 352.50,794.00 352.93,795.04 353.30,796.01 353.69,797.06 354.14,798.33 354.72,799.97 355.50,802.10 356.49,804.80 357.65,807.96 358.94,811.48 360.32,815.26 361.75,819.20 363.20,823.20 364.69,827.31 366.26,831.64 367.89,836.13 369.54,840.71 371.18,845.36 372.80,850.00 374.39,854.61 375.97,859.21 377.55,863.87 379.13,868.63 380.71,873.56 382.30,878.70 383.92,884.25 385.56,890.20 387.21,896.31 388.84,902.34 390.41,908.05 391.90,913.20 393.31,917.78 394.66,921.99 395.95,925.88 397.20,929.49 398.41,932.88 399.60,936.10 400.73,939.04 401.81,941.63 402.84,943.99 403.87,946.26 404.91,948.56 406.00,951.00 407.16,953.62 408.36,956.33 409.59,959.07 410.79,961.77 411.94,964.36 413.00,966.80 413.95,969.06 414.83,971.19 415.66,973.21 416.44,975.17 417.22,977.09 418.00,979.00 418.76,980.87 419.49,982.68 420.20,984.45 420.92,986.21 421.68,987.98 422.50,989.80 423.43,991.81 424.45,994.02 425.51,996.25 426.55,998.31 427.50,1000.02 428.30,1001.20 428.93,1001.71 429.42,1001.68 429.83,1001.29 430.19,1000.76 430.57,1000.26 431.00,1000.00 431.48,999.92 431.98,999.86 432.48,999.84 432.99,999.89 433.50,1000.04 434.00,1000.30 434.48,1000.71 434.94,1001.24 435.39,1001.86 435.87,1002.55 436.40,1003.27 437.00,1004.00 437.68,1004.77 438.42,1005.61 439.21,1006.49 440.03,1007.36 440.86,1008.17 441.70,1008.90 442.54,1009.53 443.39,1010.09 444.26,1010.59 445.14,1011.07 446.06,1011.53 447.00,1012.00 447.95,1012.46 448.90,1012.89 449.88,1013.31 450.91,1013.73 452.01,1014.16 453.20,1014.60 454.50,1015.08 455.89,1015.58 457.34,1016.09 458.86,1016.60 460.42,1017.07 462.00,1017.50 463.64,1017.88 465.34,1018.22 467.09,1018.53 468.86,1018.83 470.60,1019.11 472.30,1019.40 473.95,1019.69 475.59,1019.97 477.20,1020.24 478.80,1020.50 480.40,1020.75 482.00,1021.00 483.63,1021.26 485.29,1021.53 486.95,1021.80 488.56,1022.03 490.09,1022.21 491.50,1022.30 492.76,1022.29 493.91,1022.20 494.97,1022.05 495.99,1021.87 496.99,1021.67 498.00,1021.50 499.04,1021.31 500.08,1021.06 501.10,1020.81 502.09,1020.59 503.03,1020.44 503.90,1020.40 504.69,1020.50 505.40,1020.71 506.07,1020.99 506.71,1021.29 507.34,1021.58 508.00,1021.80 508.63,1021.97 509.19,1022.13 509.76,1022.27 510.37,1022.38 511.10,1022.46 512.00,1022.50 513.13,1022.50 514.45,1022.46 515.88,1022.39 517.34,1022.29 518.74,1022.16 520.00,1022.00 521.13,1021.76 522.19,1021.43 523.19,1021.07 524.14,1020.74 525.05,1020.49 525.90,1020.40 526.68,1020.49 527.37,1020.74 528.01,1021.07 528.63,1021.43 529.29,1021.76 530.00,1022.00 530.73,1022.16 531.45,1022.27 532.19,1022.36 533.00,1022.43 533.92,1022.47 535.00,1022.50 536.29,1022.55 537.79,1022.61 539.39,1022.65 541.01,1022.64 542.58,1022.53 544.00,1022.30 545.29,1021.86 546.53,1021.22 547.70,1020.49 548.81,1019.78 549.84,1019.18 550.80,1018.80 551.66,1018.66 552.42,1018.68 553.11,1018.82 553.75,1019.03 554.37,1019.27 555.00,1019.50 555.55,1019.74 556.00,1020.02 556.42,1020.34 556.91,1020.67 557.58,1020.99 558.50,1021.30 559.78,1021.61 561.35,1021.94 563.09,1022.27 564.87,1022.58 566.55,1022.83 568.00,1023.00 569.21,1023.08 570.28,1023.10 571.25,1023.06 572.17,1022.99 573.07,1022.90 574.00,1022.80 574.97,1022.67 575.94,1022.50 576.91,1022.30 577.83,1022.11 578.70,1021.97 579.50,1021.90 580.19,1021.92 580.78,1022.00 581.31,1022.12 581.83,1022.27 582.38,1022.40 583.00,1022.50 583.74,1022.57 584.59,1022.63 585.47,1022.69 586.30,1022.73 587.00,1022.77 587.50,1022.80" fill="none" stroke="#000" stroke-width="2.3" stroke-linejoin="round" stroke-linecap="round" clip-path="url(#cc)"/>
<polyline points="59.50,1023.39 60.50,1023.39 61.50,1023.39 62.50,1023.39 63.50,1023.39 64.50,1023.38 65.50,1023.38 66.50,1023.38 67.50,1023.38 68.50,1023.38 69.50,1023.38 70.50,1023.37 71.50,1023.37 72.50,1023.37 73.50,1023.37 74.50,1023.36 75.50,1023.36 76.50,1023.36 77.50,1023.35 78.50,1023.35 79.50,1023.35 80.50,1023.34 81.50,1023.34 82.50,1023.33 83.50,1023.33 84.50,1023.32 85.50,1023.31 86.50,1023.31 87.50,1023.30 88.50,1023.29 89.50,1023.28 90.50,1023.28 91.50,1023.27 92.50,1023.26 93.50,1023.24 94.50,1023.23 95.50,1023.22 96.50,1023.21 97.50,1023.19 98.50,1023.18 99.50,1023.16 100.50,1023.14 101.50,1023.13 102.50,1023.11 103.50,1023.09 104.50,1023.06 105.50,1023.04 106.50,1023.01 107.50,1022.99 108.50,1022.96 109.50,1022.93 110.50,1022.90 111.50,1022.86 112.50,1022.83 113.50,1022.79 114.50,1022.75 115.50,1022.70 116.50,1022.66 117.50,1022.61 118.50,1022.56 119.50,1022.51 120.50,1022.45 121.50,1022.39 122.50,1022.32 123.50,1022.26 124.50,1022.19 125.50,1022.11 126.50,1022.03 127.50,1021.95 128.50,1021.86 129.50,1021.77 130.50,1021.67 131.50,1021.57 132.50,1021.46 133.50,1021.35 134.50,1021.23 135.50,1021.11 136.50,1020.98 137.50,1020.84 138.50,1020.69 139.50,1020.54 140.50,1020.39 141.50,1020.22 142.50,1020.05 143.50,1019.87 144.50,1019.68 145.50,1019.48 146.50,1019.27 147.50,1019.06 148.50,1018.83 149.50,1018.59 150.50,1018.35 151.50,1018.09 152.50,1017.83 153.50,1017.55 154.50,1017.26 155.50,1016.96 156.50,1016.65 157.50,1016.32 158.50,1015.98 159.50,1015.63 160.50,1015.27 161.50,1014.89 162.50,1014.50 163.50,1014.10 164.50,1013.68 165.50,1013.24 166.50,1012.79 167.50,1012.32 168.50,1011.84 169.50,1011.35 170.50,1010.83 171.50,1010.30 172.50,1009.75 173.50,1009.19 174.50,1008.61 175.50,1008.01 176.50,1007.39 177.50,1006.75 178.50,1006.10 179.50,1005.43 180.50,1004.73 181.50,1004.02 182.50,1003.29 183.50,1002.55 184.50,1001.78 185.50,1000.99 186.50,1000.19 187.50,999.36 188.50,998.52 189.50,997.65 190.50,996.77 191.50,995.87 192.50,994.95 193.50,994.00 194.50,993.05 195.50,992.07 196.50,991.07 197.50,990.05 198.50,989.02 199.50,987.97 200.50,986.90 201.50,985.82 202.50,984.71 203.50,983.59 204.50,982.46 205.50,981.31 206.50,980.14 207.50,978.96 208.50,977.77 209.50,976.56 210.50,975.34 211.50,974.11 212.50,972.87 213.50,971.61 214.50,970.35 215.50,969.08 216.50,967.79 217.50,966.51 218.50,965.21 219.50,963.91 220.50,962.60 221.50,961.29 222.50,959.98 223.50,958.67 224.50,957.35 225.50,956.03 226.50,954.72 227.50,953.41 228.50,952.10 229.50,950.80 230.50,949.50 231.50,948.21 232.50,946.92 233.50,945.65 234.50,944.38 235.50,943.13 236.50,941.89 237.50,940.67 238.50,939.45 239.50,938.26 240.50,937.08 241.50,935.92 242.50,934.78 243.50,933.66 244.50,932.56 245.50,931.49 246.50,930.44 247.50,929.42 248.50,928.42 249.50,927.45 250.50,926.51 251.50,925.59 252.50,924.71 253.50,923.86 254.50,923.04 255.50,922.26 256.50,921.51 257.50,920.79 258.50,920.11 259.50,919.47 260.50,918.86 261.50,918.29 262.50,917.76 263.50,917.27 264.50,916.82 265.50,916.41 266.50,916.04 267.50,915.71 268.50,915.42 269.50,915.17 270.50,914.97 271.50,914.81 272.50,914.68 273.50,914.61 274.50,914.57 275.50,914.57 276.50,914.63 277.50,914.75 278.50,914.92 279.50,915.14 280.50,915.42 281.50,915.75 282.50,916.14 283.50,916.58 284.50,917.07 285.50,917.61 286.50,918.21 287.50,918.85 288.50,919.54 289.50,920.29 290.50,921.08 291.50,921.91 292.50,922.80 293.50,923.72 294.50,924.69 295.50,925.70 296.50,926.75 297.50,927.83 298.50,928.95 299.50,930.11 300.50,931.30 301.50,932.53 302.50,933.78 303.50,935.06 304.50,936.37 305.50,937.70 306.50,939.06 307.50,940.44 308.50,941.84 309.50,943.25 310.50,944.69 311.50,946.13 312.50,947.59 313.50,949.06 314.50,950.54 315.50,952.03 316.50,953.53 317.50,955.02 318.50,956.52 319.50,958.03 320.50,959.53 321.50,961.03 322.50,962.52 323.50,964.01 324.50,965.50 325.50,966.97 326.50,968.44 327.50,969.90 328.50,971.34 329.50,972.78 330.50,974.20 331.50,975.60 332.50,976.99 333.50,978.36 334.50,979.72 335.50,981.05 336.50,982.37 337.50,983.66 338.50,984.94 339.50,986.19 340.50,987.42 341.50,988.63 342.50,989.82 343.50,990.98 344.50,992.12 345.50,993.23 346.50,994.32 347.50,995.39 348.50,996.43 349.50,997.44 350.50,998.43 351.50,999.40 352.50,1000.34 353.50,1001.25 354.50,1002.14 355.50,1003.00 356.50,1003.84 357.50,1004.66 358.50,1005.45 359.50,1006.21 360.50,1006.96 361.50,1007.67 362.50,1008.37 363.50,1009.04 364.50,1009.69 365.50,1010.31 366.50,1010.92 367.50,1011.50 368.50,1012.06 369.50,1012.60 370.50,1013.12 371.50,1013.62 372.50,1014.10 373.50,1014.56 374.50,1015.01 375.50,1015.43 376.50,1015.84 377.50,1016.23 378.50,1016.60 379.50,1016.96 380.50,1017.30 381.50,1017.63 382.50,1017.94 383.50,1018.24 384.50,1018.53 385.50,1018.80 386.50,1019.05 387.50,1019.30 388.50,1019.53 389.50,1019.76 390.50,1019.97 391.50,1020.17 392.50,1020.36 393.50,1020.54 394.50,1020.71 395.50,1020.88 396.50,1021.03 397.50,1021.18 398.50,1021.31 399.50,1021.44 400.50,1021.57 401.50,1021.68 402.50,1021.79 403.50,1021.90 404.50,1022.00 405.50,1022.09 406.50,1022.17 407.50,1022.26 408.50,1022.33 409.50,1022.40 410.50,1022.47 411.50,1022.54 412.50,1022.59 413.50,1022.65 414.50,1022.70 415.50,1022.75 416.50,1022.80 417.50,1022.84 418.50,1022.88 419.50,1022.92 420.50,1022.95 421.50,1022.99 422.50,1023.02 423.50,1023.05 424.50,1023.07 425.50,1023.10 426.50,1023.12 427.50,1023.14 428.50,1023.16 429.50,1023.18 430.50,1023.20 431.50,1023.21 432.50,1023.23 433.50,1023.24 434.50,1023.25 435.50,1023.27 436.50,1023.28 437.50,1023.29 438.50,1023.30 439.50,1023.30 440.50,1023.31 441.50,1023.32 442.50,1023.33 443.50,1023.33 444.50,1023.34 445.50,1023.34 446.50,1023.35 447.50,1023.35 448.50,1023.36 449.50,1023.36 450.50,1023.36 451.50,1023.37 452.50,1023.37 453.50,1023.37 454.50,1023.38 455.50,1023.38 456.50,1023.38 457.50,1023.38 458.50,1023.38 459.50,1023.38 460.50,1023.39 461.50,1023.39 462.50,1023.39 463.50,1023.39 464.50,1023.39 465.50,1023.39 466.50,1023.39 467.50,1023.39 468.50,1023.39 469.50,1023.39 470.50,1023.39 471.50,1023.40 472.50,1023.40 473.50,1023.40 474.50,1023.40 475.50,1023.40 476.50,1023.40 477.50,1023.40 478.50,1023.40 479.50,1023.40 480.50,1023.40 481.50,1023.40 482.50,1023.40 483.50,1023.40 484.50,1023.40 485.50,1023.40 486.50,1023.40 487.50,1023.40 488.50,1023.40 489.50,1023.40 490.50,1023.40 491.50,1023.40 492.50,1023.40 493.50,1023.40 494.50,1023.40 495.50,1023.40 496.50,1023.40 497.50,1023.40 498.50,1023.40 499.50,1023.40 500.50,1023.40 501.50,1023.40 502.50,1023.40 503.50,1023.40 504.50,1023.40 505.50,1023.40 506.50,1023.40 507.50,1023.40 508.50,1023.40 509.50,1023.40 510.50,1023.40 511.50,1023.40 512.50,1023.40 513.50,1023.40 514.50,1023.40 515.50,1023.40 516.50,1023.40 517.50,1023.40 518.50,1023.40 519.50,1023.40 520.50,1023.40 521.50,1023.40 522.50,1023.40 523.50,1023.40 524.50,1023.40 525.50,1023.40 526.50,1023.40 527.50,1023.40 528.50,1023.40 529.50,1023.40 530.50,1023.40 531.50,1023.40 532.50,1023.40 533.50,1023.40 534.50,1023.40 535.50,1023.40 536.50,1023.40 537.50,1023.40 538.50,1023.40 539.50,1023.40 540.50,1023.40 541.50,1023.40 542.50,1023.40 543.50,1023.40 544.50,1023.40 545.50,1023.40 546.50,1023.40 547.50,1023.40 548.50,1023.40 549.50,1023.40 550.50,1023.40 551.50,1023.40 552.50,1023.40 553.50,1023.40 554.50,1023.40 555.50,1023.40 556.50,1023.40 557.50,1023.40 558.50,1023.40 559.50,1023.40 560.50,1023.40 561.50,1023.40 562.50,1023.40 563.50,1023.40 564.50,1023.40 565.50,1023.40 566.50,1023.40 567.50,1023.40 568.50,1023.40 569.50,1023.40 570.50,1023.40 571.50,1023.40 572.50,1023.40 573.50,1023.40 574.50,1023.40 575.50,1023.40 576.50,1023.40 577.50,1023.40 578.50,1023.40 579.50,1023.40 580.50,1023.40 581.50,1023.40 582.50,1023.40 583.50,1023.40 584.50,1023.40 585.50,1023.40 586.50,1023.40 587.50,1023.40" fill="none" stroke="#000" stroke-width="2.3" stroke-linejoin="round" stroke-linecap="round" clip-path="url(#cc)"/>
<polyline points="59.50,1023.40 60.50,1023.40 61.50,1023.40 62.50,1023.40 63.50,1023.40 64.50,1023.40 65.50,1023.40 66.50,1023.40 67.50,1023.40 68.50,1023.40 69.50,1023.40 70.50,1023.40 71.50,1023.40 72.50,1023.40 73.50,1023.40 74.50,1023.40 75.50,1023.40 76.50,1023.40 77.50,1023.40 78.50,1023.40 79.50,1023.40 80.50,1023.40 81.50,1023.40 82.50,1023.40 83.50,1023.40 84.50,1023.40 85.50,1023.40 86.50,1023.40 87.50,1023.40 88.50,1023.40 89.50,1023.40 90.50,1023.40 91.50,1023.40 92.50,1023.40 93.50,1023.40 94.50,1023.40 95.50,1023.40 96.50,1023.40 97.50,1023.40 98.50,1023.40 99.50,1023.40 100.50,1023.40 101.50,1023.40 102.50,1023.40 103.50,1023.40 104.50,1023.40 105.50,1023.40 106.50,1023.40 107.50,1023.40 108.50,1023.40 109.50,1023.40 110.50,1023.40 111.50,1023.40 112.50,1023.40 113.50,1023.40 114.50,1023.40 115.50,1023.40 116.50,1023.40 117.50,1023.40 118.50,1023.40 119.50,1023.40 120.50,1023.40 121.50,1023.40 122.50,1023.40 123.50,1023.40 124.50,1023.40 125.50,1023.40 126.50,1023.40 127.50,1023.40 128.50,1023.40 129.50,1023.40 130.50,1023.40 131.50,1023.40 132.50,1023.40 133.50,1023.40 134.50,1023.40 135.50,1023.40 136.50,1023.40 137.50,1023.40 138.50,1023.40 139.50,1023.40 140.50,1023.40 141.50,1023.40 142.50,1023.40 143.50,1023.40 144.50,1023.40 145.50,1023.40 146.50,1023.40 147.50,1023.40 148.50,1023.40 149.50,1023.40 150.50,1023.40 151.50,1023.40 152.50,1023.40 153.50,1023.40 154.50,1023.40 155.50,1023.40 156.50,1023.40 157.50,1023.40 158.50,1023.40 159.50,1023.40 160.50,1023.40 161.50,1023.40 162.50,1023.40 163.50,1023.40 164.50,1023.40 165.50,1023.40 166.50,1023.40 167.50,1023.40 168.50,1023.40 169.50,1023.40 170.50,1023.40 171.50,1023.40 172.50,1023.40 173.50,1023.39 174.50,1023.39 175.50,1023.39 176.50,1023.39 177.50,1023.39 178.50,1023.39 179.50,1023.39 180.50,1023.39 181.50,1023.38 182.50,1023.38 183.50,1023.38 184.50,1023.38 185.50,1023.37 186.50,1023.37 187.50,1023.37 188.50,1023.36 189.50,1023.36 190.50,1023.35 191.50,1023.35 192.50,1023.34 193.50,1023.33 194.50,1023.32 195.50,1023.31 196.50,1023.30 197.50,1023.29 198.50,1023.28 199.50,1023.27 200.50,1023.25 201.50,1023.23 202.50,1023.21 203.50,1023.19 204.50,1023.17 205.50,1023.14 206.50,1023.11 207.50,1023.08 208.50,1023.05 209.50,1023.01 210.50,1022.97 211.50,1022.92 212.50,1022.87 213.50,1022.81 214.50,1022.75 215.50,1022.69 216.50,1022.62 217.50,1022.54 218.50,1022.45 219.50,1022.36 220.50,1022.26 221.50,1022.15 222.50,1022.03 223.50,1021.90 224.50,1021.76 225.50,1021.61 226.50,1021.45 227.50,1021.27 228.50,1021.08 229.50,1020.88 230.50,1020.66 231.50,1020.42 232.50,1020.17 233.50,1019.90 234.50,1019.61 235.50,1019.29 236.50,1018.96 237.50,1018.60 238.50,1018.22 239.50,1017.81 240.50,1017.38 241.50,1016.92 242.50,1016.43 243.50,1015.91 244.50,1015.35 245.50,1014.77 246.50,1014.14 247.50,1013.49 248.50,1012.79 249.50,1012.06 250.50,1011.28 251.50,1010.46 252.50,1009.60 253.50,1008.70 254.50,1007.75 255.50,1006.75 256.50,1005.70 257.50,1004.60 258.50,1003.45 259.50,1002.25 260.50,1000.99 261.50,999.68 262.50,998.31 263.50,996.89 264.50,995.41 265.50,993.87 266.50,992.27 267.50,990.61 268.50,988.89 269.50,987.11 270.50,985.26 271.50,983.36 272.50,981.40 273.50,979.37 274.50,977.28 275.50,975.14 276.50,972.93 277.50,970.66 278.50,968.34 279.50,965.95 280.50,963.51 281.50,961.02 282.50,958.47 283.50,955.87 284.50,953.22 285.50,950.52 286.50,947.78 287.50,944.99 288.50,942.16 289.50,939.29 290.50,936.39 291.50,933.45 292.50,930.48 293.50,927.49 294.50,924.47 295.50,921.43 296.50,918.38 297.50,915.31 298.50,912.23 299.50,909.15 300.50,906.07 301.50,902.99 302.50,899.91 303.50,896.85 304.50,893.80 305.50,890.77 306.50,887.76 307.50,884.78 308.50,881.84 309.50,878.92 310.50,876.05 311.50,873.22 312.50,870.44 313.50,867.71 314.50,865.03 315.50,862.42 316.50,859.86 317.50,857.38 318.50,854.96 319.50,852.61 320.50,850.34 321.50,848.15 322.50,846.04 323.50,844.02 324.50,842.08 325.50,840.22 326.50,838.46 327.50,836.79 328.50,835.21 329.50,833.73 330.50,832.34 331.50,831.05 332.50,829.85 333.50,828.75 334.50,827.74 335.50,826.83 336.50,826.02 337.50,825.30 338.50,824.67 339.50,824.13 340.50,823.68 341.50,823.32 342.50,823.04 343.50,822.83 344.50,822.70 345.50,822.63 346.50,822.62 347.50,822.65 348.50,822.73 349.50,822.87 350.50,823.09 351.50,823.38 352.50,823.76 353.50,824.21 354.50,824.76 355.50,825.38 356.50,826.10 357.50,826.91 358.50,827.81 359.50,828.80 360.50,829.89 361.50,831.06 362.50,832.33 363.50,833.69 364.50,835.15 365.50,836.69 366.50,838.32 367.50,840.04 368.50,841.85 369.50,843.75 370.50,845.72 371.50,847.78 372.50,849.91 373.50,852.13 374.50,854.41 375.50,856.77 376.50,859.19 377.50,861.68 378.50,864.23 379.50,866.83 380.50,869.49 381.50,872.20 382.50,874.96 383.50,877.77 384.50,880.61 385.50,883.49 386.50,886.40 387.50,889.33 388.50,892.30 389.50,895.28 390.50,898.28 391.50,901.29 392.50,904.31 393.50,907.33 394.50,910.36 395.50,913.38 396.50,916.40 397.50,919.40 398.50,922.40 399.50,925.37 400.50,928.33 401.50,931.26 402.50,934.16 403.50,937.04 404.50,939.88 405.50,942.68 406.50,945.45 407.50,948.18 408.50,950.87 409.50,953.51 410.50,956.11 411.50,958.65 412.50,961.15 413.50,963.60 414.50,965.99 415.50,968.33 416.50,970.61 417.50,972.84 418.50,975.00 419.50,977.12 420.50,979.17 421.50,981.16 422.50,983.10 423.50,984.97 424.50,986.79 425.50,988.55 426.50,990.25 427.50,991.89 428.50,993.48 429.50,995.00 430.50,996.47 431.50,997.89 432.50,999.24 433.50,1000.55 434.50,1001.80 435.50,1003.00 436.50,1004.15 437.50,1005.25 438.50,1006.30 439.50,1007.30 440.50,1008.25 441.50,1009.16 442.50,1010.03 443.50,1010.85 444.50,1011.64 445.50,1012.38 446.50,1013.08 447.50,1013.75 448.50,1014.38 449.50,1014.98 450.50,1015.54 451.50,1016.08 452.50,1016.58 453.50,1017.05 454.50,1017.50 455.50,1017.92 456.50,1018.31 457.50,1018.68 458.50,1019.02 459.50,1019.35 460.50,1019.65 461.50,1019.93 462.50,1020.20 463.50,1020.45 464.50,1020.68 465.50,1020.89 466.50,1021.09 467.50,1021.28 468.50,1021.45 469.50,1021.61 470.50,1021.76 471.50,1021.89 472.50,1022.02 473.50,1022.14 474.50,1022.25 475.50,1022.35 476.50,1022.44 477.50,1022.52 478.50,1022.60 479.50,1022.67 480.50,1022.74 481.50,1022.80 482.50,1022.86 483.50,1022.91 484.50,1022.95 485.50,1023.00 486.50,1023.03 487.50,1023.07 488.50,1023.10 489.50,1023.13 490.50,1023.16 491.50,1023.18 492.50,1023.20 493.50,1023.22 494.50,1023.24 495.50,1023.26 496.50,1023.27 497.50,1023.29 498.50,1023.30 499.50,1023.31 500.50,1023.32 501.50,1023.33 502.50,1023.34 503.50,1023.34 504.50,1023.35 505.50,1023.35 506.50,1023.36 507.50,1023.36 508.50,1023.37 509.50,1023.37 510.50,1023.37 511.50,1023.38 512.50,1023.38 513.50,1023.38 514.50,1023.38 515.50,1023.39 516.50,1023.39 517.50,1023.39 518.50,1023.39 519.50,1023.39 520.50,1023.39 521.50,1023.39 522.50,1023.39 523.50,1023.40 524.50,1023.40 525.50,1023.40 526.50,1023.40 527.50,1023.40 528.50,1023.40 529.50,1023.40 530.50,1023.40 531.50,1023.40 532.50,1023.40 533.50,1023.40 534.50,1023.40 535.50,1023.40 536.50,1023.40 537.50,1023.40 538.50,1023.40 539.50,1023.40 540.50,1023.40 541.50,1023.40 542.50,1023.40 543.50,1023.40 544.50,1023.40 545.50,1023.40 546.50,1023.40 547.50,1023.40 548.50,1023.40 549.50,1023.40 550.50,1023.40 551.50,1023.40 552.50,1023.40 553.50,1023.40 554.50,1023.40 555.50,1023.40 556.50,1023.40 557.50,1023.40 558.50,1023.40 559.50,1023.40 560.50,1023.40 561.50,1023.40 562.50,1023.40 563.50,1023.40 564.50,1023.40 565.50,1023.40 566.50,1023.40 567.50,1023.40 568.50,1023.40 569.50,1023.40 570.50,1023.40 571.50,1023.40 572.50,1023.40 573.50,1023.40 574.50,1023.40 575.50,1023.40 576.50,1023.40 577.50,1023.40 578.50,1023.40 579.50,1023.40 580.50,1023.40 581.50,1023.40 582.50,1023.40 583.50,1023.40 584.50,1023.40 585.50,1023.40 586.50,1023.40 587.50,1023.40" fill="none" stroke="#000" stroke-width="2.3" stroke-linejoin="round" stroke-linecap="round" clip-path="url(#cc)"/>
<rect x="59.50" y="730.50" width="528.70" height="293.10" fill="none" stroke="#000" stroke-width="2.2"/>
<line x1="147.70" y1="1023.60" x2="147.70" y2="1017.10" stroke="#000" stroke-width="2"/>
<line x1="368.30" y1="1023.60" x2="368.30" y2="1017.10" stroke="#000" stroke-width="2"/>
<line x1="588.20" y1="789.20" x2="580.20" y2="789.20" stroke="#000" stroke-width="2"/>
<line x1="588.20" y1="847.60" x2="580.20" y2="847.60" stroke="#000" stroke-width="2"/>
<line x1="588.20" y1="906.50" x2="580.20" y2="906.50" stroke="#000" stroke-width="2"/>
<line x1="588.20" y1="965.00" x2="580.20" y2="965.00" stroke="#000" stroke-width="2"/>
<line x1="343.10" y1="822.40" x2="432.60" y2="809.00" stroke="#222" stroke-width="1.1"/>
<line x1="179.60" y1="903.00" x2="268.90" y2="914.60" stroke="#222" stroke-width="1.1"/>
<text class="sans" transform="matrix(0.2881 0 0 0.2414 360.00 803.70)">O1s 528eV</text>
<text class="sans" transform="matrix(0.2869 0 0 0.2414 82.71 891.30)">O1s 530eV</text>
<text class="serif" transform="matrix(0.3645 0 0 0.3136 34.64 711.90)">O1s Scan</text>
<text class="sans" transform="matrix(0.2511 0 0 0.1930 126.60 1059.41)">533</text>
<text class="sans" transform="matrix(0.2511 0 0 0.1930 347.10 1059.41)">528</text>
<text class="sans" transform="matrix(0.2511 0 0 0.1930 567.60 1059.41)">523</text>
<text class="sans" transform="matrix(0.2467 0 0 0.2085 613.37 737.49)">2500</text>
<text class="sans" transform="matrix(0.2467 0 0 0.2085 613.37 795.79)">2000</text>
<text class="sans" transform="matrix(0.2496 0 0 0.2085 612.73 854.09)">1500</text>
<text class="sans" transform="matrix(0.2496 0 0 0.2085 612.73 912.69)">1000</text>
<text class="sans" transform="matrix(0.2503 0 0 0.2085 613.60 970.89)">500</text>
<text class="sans" transform="matrix(0.2479 0 0 0.2085 613.61 1029.29)">0</text>
<text class="serif" transform="matrix(0.3031 0 0 0.2648 149.69 1093.71)">Binding Energy(eV)</text>
<text class="serif" transform="translate(699.76 943.39) rotate(-90) scale(0.2542 0.3088)">Intensity(cps)</text>
<text class="cjk" transform="matrix(0.3649 0 0 0.3059 303.58 1150.50)">（</text>
<text class="serif" transform="matrix(0.3760 0 0 0.3729 342.80 1151.93)">c</text>
<text class="cjk" transform="matrix(0.3789 0 0 0.3059 361.74 1150.50)">）</text>
<clipPath id="cd"><rect x="871.6" y="730.6" width="480.1" height="291.0"/></clipPath>
<polyline points="873.00,1021.00 873.39,1021.02 873.94,1021.09 874.59,1021.15 875.28,1021.13 875.97,1020.97 876.60,1020.60 877.18,1019.93 877.76,1018.99 878.33,1017.91 878.89,1016.81 879.45,1015.80 880.00,1015.00 880.54,1014.37 881.06,1013.81 881.57,1013.35 882.10,1013.01 882.63,1012.81 883.20,1012.80 883.79,1013.02 884.40,1013.46 885.02,1014.04 885.66,1014.71 886.32,1015.39 887.00,1016.00 887.72,1016.64 888.49,1017.39 889.27,1018.14 890.05,1018.80 890.80,1019.29 891.50,1019.50 892.14,1019.36 892.72,1018.91 893.28,1018.29 893.83,1017.61 894.40,1016.97 895.00,1016.50 895.64,1016.12 896.29,1015.73 896.96,1015.38 897.64,1015.15 898.32,1015.10 899.00,1015.30 899.67,1015.87 900.33,1016.79 900.99,1017.88 901.67,1018.99 902.37,1019.95 903.10,1020.60 903.87,1020.91 904.67,1021.00 905.49,1020.94 906.32,1020.80 907.16,1020.63 908.00,1020.50 908.82,1020.36 909.62,1020.16 910.43,1019.92 911.26,1019.71 912.14,1019.56 913.10,1019.50 914.09,1019.59 915.10,1019.79 916.16,1020.06 917.31,1020.32 918.57,1020.52 920.00,1020.60 921.66,1020.54 923.55,1020.39 925.56,1020.17 927.59,1019.93 929.54,1019.69 931.30,1019.50 932.93,1019.37 934.51,1019.28 936.01,1019.20 937.38,1019.10 938.59,1018.94 939.60,1018.70 940.34,1018.34 940.83,1017.88 941.16,1017.36 941.40,1016.84 941.66,1016.37 942.00,1016.00 942.41,1015.72 942.82,1015.49 943.24,1015.30 943.67,1015.16 944.12,1015.06 944.60,1015.00 945.12,1015.11 945.68,1015.42 946.26,1015.77 946.84,1016.00 947.43,1015.97 948.00,1015.50 948.56,1014.34 949.11,1012.57 949.66,1010.52 950.20,1008.54 950.75,1006.99 951.30,1006.20 951.86,1006.33 952.43,1007.12 953.01,1008.33 953.57,1009.71 954.10,1011.02 954.60,1012.00 955.05,1012.69 955.46,1013.31 955.84,1013.84 956.22,1014.30 956.60,1014.69 957.00,1015.00 957.40,1015.32 957.80,1015.68 958.19,1015.96 958.61,1016.06 959.08,1015.87 959.60,1015.30 960.20,1014.15 960.86,1012.48 961.56,1010.52 962.28,1008.53 963.00,1006.74 963.70,1005.40 964.38,1004.58 965.06,1004.09 965.74,1003.81 966.43,1003.60 967.11,1003.34 967.80,1002.90 968.50,1002.28 969.20,1001.59 969.90,1000.84 970.60,1000.06 971.30,999.27 972.00,998.50 972.67,997.77 973.31,997.07 973.94,996.36 974.60,995.61 975.31,994.77 976.10,993.80 976.98,992.67 977.94,991.41 978.94,990.06 979.97,988.67 981.00,987.30 982.00,986.00 982.98,984.74 983.97,983.47 984.96,982.22 985.94,981.01 986.89,979.86 987.80,978.80 988.69,977.90 989.56,977.16 990.40,976.47 991.21,975.77 991.98,974.94 992.70,973.90 993.37,972.52 993.98,970.84 994.56,969.04 995.10,967.30 995.61,965.79 996.10,964.70 996.56,964.06 996.97,963.75 997.36,963.68 997.73,963.75 998.11,963.89 998.50,964.00 998.90,964.23 999.29,964.67 999.69,965.18 1000.10,965.60 1000.53,965.79 1001.00,965.60 1001.52,965.01 1002.07,964.13 1002.65,963.03 1003.24,961.74 1003.83,960.35 1004.40,958.90 1004.96,957.22 1005.51,955.24 1006.06,953.14 1006.60,951.12 1007.15,949.37 1007.70,948.10 1008.25,947.37 1008.80,947.03 1009.35,946.97 1009.90,947.06 1010.45,947.18 1011.00,947.20 1011.55,947.24 1012.09,947.43 1012.62,947.65 1013.17,947.78 1013.73,947.70 1014.30,947.30 1014.88,946.55 1015.47,945.55 1016.07,944.34 1016.69,942.97 1017.33,941.51 1018.00,940.00 1018.69,938.50 1019.39,936.97 1020.12,935.34 1020.89,933.53 1021.71,931.48 1022.60,929.10 1023.58,926.27 1024.65,923.01 1025.77,919.51 1026.92,915.92 1028.07,912.43 1029.20,909.20 1030.35,906.22 1031.55,903.36 1032.76,900.59 1033.91,897.89 1034.98,895.24 1035.90,892.60 1036.66,889.88 1037.29,887.08 1037.83,884.32 1038.30,881.73 1038.75,879.45 1039.20,877.60 1039.64,876.25 1040.03,875.31 1040.39,874.67 1040.74,874.23 1041.11,873.87 1041.50,873.50 1041.90,873.33 1042.29,873.48 1042.68,873.72 1043.11,873.82 1043.61,873.52 1044.20,872.60 1044.88,870.98 1045.64,868.86 1046.46,866.34 1047.33,863.56 1048.25,860.63 1049.20,857.70 1050.26,854.49 1051.44,850.84 1052.67,847.06 1053.87,843.43 1054.94,840.24 1055.80,837.80 1056.41,836.20 1056.84,835.24 1057.14,834.73 1057.39,834.48 1057.65,834.30 1058.00,834.00 1058.43,833.87 1058.87,834.10 1059.33,834.41 1059.81,834.49 1060.30,834.05 1060.80,832.80 1061.28,830.53 1061.74,827.43 1062.21,823.81 1062.74,819.98 1063.35,816.24 1064.10,812.90 1065.06,809.78 1066.21,806.59 1067.46,803.50 1068.70,800.65 1069.81,798.20 1070.70,796.30 1071.33,795.07 1071.77,794.43 1072.09,794.17 1072.36,794.14 1072.64,794.14 1073.00,794.00 1073.40,793.98 1073.79,794.27 1074.18,794.60 1074.61,794.69 1075.11,794.25 1075.70,793.00 1076.38,790.82 1077.14,787.89 1077.96,784.44 1078.83,780.68 1079.75,776.83 1080.70,773.10 1081.76,769.21 1082.94,764.91 1084.17,760.53 1085.37,756.36 1086.44,752.72 1087.30,749.90 1087.92,748.03 1088.37,746.90 1088.69,746.29 1088.94,745.99 1089.20,745.80 1089.50,745.50 1089.84,745.14 1090.18,744.88 1090.51,744.73 1090.84,744.69 1091.17,744.74 1091.50,744.90 1091.83,745.14 1092.16,745.46 1092.49,745.88 1092.83,746.43 1093.16,747.13 1093.50,748.00 1093.84,749.16 1094.18,750.60 1094.53,752.19 1094.87,753.80 1095.23,755.28 1095.60,756.50 1095.98,757.45 1096.37,758.25 1096.77,758.92 1097.17,759.50 1097.58,760.01 1098.00,760.50 1098.38,760.93 1098.73,761.27 1099.08,761.54 1099.47,761.79 1099.97,762.03 1100.60,762.30 1101.42,762.55 1102.41,762.75 1103.49,762.95 1104.59,763.19 1105.65,763.53 1106.60,764.00 1107.41,764.59 1108.14,765.27 1108.82,766.04 1109.50,766.91 1110.22,767.89 1111.00,769.00 1111.85,770.19 1112.74,771.45 1113.66,772.82 1114.61,774.36 1115.59,776.10 1116.60,778.10 1117.66,780.57 1118.79,783.51 1119.94,786.66 1121.08,789.76 1122.18,792.52 1123.20,794.70 1124.15,796.10 1125.05,796.89 1125.91,797.36 1126.72,797.78 1127.48,798.43 1128.20,799.60 1128.85,801.44 1129.42,803.75 1129.94,806.30 1130.45,808.84 1130.96,811.12 1131.50,812.90 1132.06,814.13 1132.60,815.00 1133.16,815.62 1133.73,816.09 1134.34,816.51 1135.00,817.00 1135.73,817.48 1136.53,817.84 1137.36,818.16 1138.20,818.51 1139.02,818.96 1139.80,819.60 1140.52,820.36 1141.19,821.19 1141.84,822.12 1142.50,823.20 1143.21,824.48 1144.00,826.00 1144.86,827.88 1145.79,830.11 1146.75,832.53 1147.75,835.00 1148.77,837.38 1149.80,839.50 1150.89,841.37 1152.06,843.10 1153.26,844.72 1154.41,846.29 1155.48,847.84 1156.40,849.40 1157.12,851.02 1157.68,852.67 1158.15,854.31 1158.60,855.86 1159.09,857.28 1159.70,858.50 1160.45,859.28 1161.30,859.62 1162.20,859.82 1163.10,860.19 1163.95,861.05 1164.70,862.70 1165.33,865.39 1165.86,868.92 1166.35,872.94 1166.84,877.08 1167.37,880.98 1168.00,884.30 1168.70,886.95 1169.42,889.20 1170.19,891.21 1171.03,893.16 1171.96,895.20 1173.00,897.50 1174.23,900.11 1175.64,902.90 1177.15,905.79 1178.66,908.69 1180.07,911.48 1181.30,914.10 1182.32,916.53 1183.18,918.84 1183.96,921.06 1184.70,923.21 1185.46,925.32 1186.30,927.40 1187.22,929.20 1188.17,930.66 1189.15,932.06 1190.14,933.72 1191.12,935.93 1192.10,939.00 1193.10,943.42 1194.13,949.06 1195.17,955.26 1196.17,961.34 1197.09,966.64 1197.90,970.50 1198.57,972.73 1199.12,973.81 1199.59,974.12 1200.04,974.02 1200.49,973.86 1201.00,974.00 1201.54,974.23 1202.08,974.21 1202.63,974.14 1203.21,974.20 1203.83,974.59 1204.50,975.50 1205.25,977.13 1206.06,979.37 1206.91,981.93 1207.78,984.54 1208.65,986.93 1209.50,988.80 1210.33,990.00 1211.17,990.71 1212.00,991.20 1212.83,991.71 1213.67,992.49 1214.50,993.80 1215.35,995.91 1216.22,998.69 1217.09,1001.73 1217.94,1004.67 1218.75,1007.12 1219.50,1008.70 1220.17,1009.23 1220.79,1009.00 1221.37,1008.27 1221.92,1007.34 1222.46,1006.49 1223.00,1006.00 1223.52,1005.79 1224.00,1005.61 1224.46,1005.51 1224.95,1005.54 1225.48,1005.75 1226.10,1006.20 1226.81,1006.95 1227.59,1007.96 1228.42,1009.16 1229.29,1010.45 1230.15,1011.76 1231.00,1013.00 1231.82,1014.34 1232.63,1015.88 1233.44,1017.44 1234.28,1018.82 1235.16,1019.84 1236.10,1020.30 1237.11,1019.96 1238.19,1018.91 1239.31,1017.49 1240.44,1016.06 1241.58,1014.95 1242.70,1014.50 1243.81,1014.91 1244.93,1015.94 1246.05,1017.29 1247.16,1018.67 1248.25,1019.77 1249.30,1020.30 1250.32,1020.09 1251.33,1019.36 1252.31,1018.36 1253.26,1017.33 1254.19,1016.52 1255.10,1016.20 1255.91,1016.45 1256.61,1017.09 1257.29,1017.95 1258.02,1018.88 1258.90,1019.72 1260.00,1020.30 1261.34,1020.63 1262.86,1020.84 1264.53,1020.95 1266.29,1021.00 1268.13,1021.00 1270.00,1021.00 1272.03,1020.97 1274.28,1020.87 1276.59,1020.74 1278.83,1020.59 1280.85,1020.44 1282.50,1020.30 1283.71,1020.19 1284.59,1020.10 1285.24,1020.01 1285.79,1019.90 1286.34,1019.73 1287.00,1019.50 1287.76,1019.11 1288.53,1018.58 1289.31,1017.99 1290.08,1017.47 1290.84,1017.10 1291.60,1017.00 1292.33,1017.26 1293.02,1017.82 1293.71,1018.54 1294.42,1019.29 1295.18,1019.92 1296.00,1020.30 1296.93,1020.39 1297.96,1020.28 1299.03,1020.06 1300.09,1019.80 1301.10,1019.59 1302.00,1019.50 1302.77,1019.58 1303.44,1019.76 1304.06,1019.99 1304.67,1020.20 1305.30,1020.33 1306.00,1020.30 1306.78,1020.09 1307.60,1019.74 1308.46,1019.31 1309.32,1018.84 1310.17,1018.39 1311.00,1018.00 1311.80,1017.61 1312.59,1017.17 1313.36,1016.75 1314.14,1016.40 1314.91,1016.20 1315.70,1016.20 1316.47,1016.51 1317.22,1017.11 1317.97,1017.84 1318.75,1018.58 1319.58,1019.18 1320.50,1019.50 1321.54,1019.46 1322.69,1019.15 1323.89,1018.70 1325.09,1018.24 1326.25,1017.90 1327.30,1017.80 1328.25,1018.02 1329.15,1018.48 1329.99,1019.06 1330.80,1019.63 1331.56,1020.08 1332.30,1020.30 1333.00,1020.25 1333.66,1020.04 1334.28,1019.70 1334.87,1019.30 1335.44,1018.88 1336.00,1018.50 1336.52,1018.09 1336.98,1017.60 1337.43,1017.09 1337.87,1016.64 1338.36,1016.32 1338.90,1016.20 1339.53,1016.32 1340.23,1016.64 1340.97,1017.09 1341.70,1017.60 1342.39,1018.09 1343.00,1018.50 1343.49,1018.84 1343.89,1019.18 1344.25,1019.50 1344.62,1019.80 1345.05,1020.07 1345.60,1020.30 1346.34,1020.49 1347.24,1020.64 1348.21,1020.76 1349.14,1020.86 1349.94,1020.94 1350.50,1021.00" fill="none" stroke="#000" stroke-width="2.3" stroke-linejoin="round" stroke-linecap="round" clip-path="url(#cd)"/>
<polyline points="871.60,1021.30 872.60,1021.30 873.60,1021.30 874.60,1021.30 875.60,1021.30 876.60,1021.30 877.60,1021.30 878.60,1021.30 879.60,1021.30 880.60,1021.30 881.60,1021.30 882.60,1021.29 883.60,1021.29 884.60,1021.29 885.60,1021.29 886.60,1021.29 887.60,1021.29 888.60,1021.29 889.60,1021.29 890.60,1021.29 891.60,1021.29 892.60,1021.28 893.60,1021.28 894.60,1021.28 895.60,1021.28 896.60,1021.28 897.60,1021.27 898.60,1021.27 899.60,1021.27 900.60,1021.27 901.60,1021.26 902.60,1021.26 903.60,1021.25 904.60,1021.25 905.60,1021.24 906.60,1021.24 907.60,1021.23 908.60,1021.23 909.60,1021.22 910.60,1021.21 911.60,1021.20 912.60,1021.19 913.60,1021.18 914.60,1021.17 915.60,1021.16 916.60,1021.14 917.60,1021.13 918.60,1021.11 919.60,1021.10 920.60,1021.08 921.60,1021.06 922.60,1021.04 923.60,1021.01 924.60,1020.99 925.60,1020.96 926.60,1020.93 927.60,1020.90 928.60,1020.86 929.60,1020.82 930.60,1020.78 931.60,1020.74 932.60,1020.69 933.60,1020.64 934.60,1020.59 935.60,1020.53 936.60,1020.46 937.60,1020.40 938.60,1020.32 939.60,1020.24 940.60,1020.16 941.60,1020.07 942.60,1019.97 943.60,1019.87 944.60,1019.76 945.60,1019.64 946.60,1019.52 947.60,1019.38 948.60,1019.24 949.60,1019.08 950.60,1018.92 951.60,1018.75 952.60,1018.56 953.60,1018.36 954.60,1018.15 955.60,1017.93 956.60,1017.70 957.60,1017.44 958.60,1017.18 959.60,1016.90 960.60,1016.60 961.60,1016.28 962.60,1015.95 963.60,1015.59 964.60,1015.22 965.60,1014.83 966.60,1014.41 967.60,1013.97 968.60,1013.51 969.60,1013.02 970.60,1012.51 971.60,1011.97 972.60,1011.40 973.60,1010.80 974.60,1010.18 975.60,1009.52 976.60,1008.83 977.60,1008.11 978.60,1007.36 979.60,1006.57 980.60,1005.74 981.60,1004.87 982.60,1003.97 983.60,1003.03 984.60,1002.05 985.60,1001.02 986.60,999.95 987.60,998.84 988.60,997.69 989.60,996.48 990.60,995.23 991.60,993.94 992.60,992.59 993.60,991.19 994.60,989.75 995.60,988.25 996.60,986.70 997.60,985.10 998.60,983.44 999.60,981.73 1000.60,979.97 1001.60,978.15 1002.60,976.27 1003.60,974.34 1004.60,972.36 1005.60,970.31 1006.60,968.22 1007.60,966.06 1008.60,963.85 1009.60,961.58 1010.60,959.26 1011.60,956.89 1012.60,954.45 1013.60,951.97 1014.60,949.43 1015.60,946.84 1016.60,944.20 1017.60,941.51 1018.60,938.77 1019.60,935.98 1020.60,933.15 1021.60,930.27 1022.60,927.35 1023.60,924.39 1024.60,921.39 1025.60,918.36 1026.60,915.29 1027.60,912.18 1028.60,909.05 1029.60,905.90 1030.60,902.71 1031.60,899.51 1032.60,896.29 1033.60,893.05 1034.60,889.80 1035.60,886.55 1036.60,883.29 1037.60,880.02 1038.60,876.76 1039.60,873.50 1040.60,870.25 1041.60,867.02 1042.60,863.80 1043.60,860.60 1044.60,857.43 1045.60,854.28 1046.60,851.17 1047.60,848.09 1048.60,845.06 1049.60,842.06 1050.60,839.12 1051.60,836.23 1052.60,833.39 1053.60,830.62 1054.60,827.91 1055.60,825.27 1056.60,822.70 1057.60,820.20 1058.60,817.78 1059.60,815.45 1060.60,813.20 1061.60,811.04 1062.60,808.98 1063.60,807.01 1064.60,805.14 1065.60,803.37 1066.60,801.71 1067.60,800.15 1068.60,798.70 1069.60,797.36 1070.60,796.14 1071.60,795.03 1072.60,794.04 1073.60,793.16 1074.60,792.41 1075.60,791.78 1076.60,791.26 1077.60,790.87 1078.60,790.61 1079.60,790.46 1080.60,790.44 1081.60,790.54 1082.60,790.77 1083.60,791.12 1084.60,791.60 1085.60,792.21 1086.60,792.95 1087.60,793.81 1088.60,794.80 1089.60,795.91 1090.60,797.13 1091.60,798.48 1092.60,799.95 1093.60,801.52 1094.60,803.21 1095.60,805.01 1096.60,806.92 1097.60,808.93 1098.60,811.04 1099.60,813.24 1100.60,815.54 1101.60,817.93 1102.60,820.40 1103.60,822.96 1104.60,825.60 1105.60,828.31 1106.60,831.09 1107.60,833.93 1108.60,836.84 1109.60,839.81 1110.60,842.83 1111.60,845.90 1112.60,849.01 1113.60,852.17 1114.60,855.36 1115.60,858.59 1116.60,861.84 1117.60,865.12 1118.60,868.41 1119.60,871.72 1120.60,875.05 1121.60,878.38 1122.60,881.71 1123.60,885.05 1124.60,888.38 1125.60,891.70 1126.60,895.01 1127.60,898.31 1128.60,901.59 1129.60,904.85 1130.60,908.08 1131.60,911.29 1132.60,914.47 1133.60,917.62 1134.60,920.73 1135.60,923.80 1136.60,926.83 1137.60,929.82 1138.60,932.77 1139.60,935.67 1140.60,938.52 1141.60,941.32 1142.60,944.08 1143.60,946.78 1144.60,949.42 1145.60,952.02 1146.60,954.55 1147.60,957.04 1148.60,959.46 1149.60,961.83 1150.60,964.14 1151.60,966.39 1152.60,968.58 1153.60,970.71 1154.60,972.79 1155.60,974.81 1156.60,976.76 1157.60,978.67 1158.60,980.51 1159.60,982.29 1160.60,984.02 1161.60,985.69 1162.60,987.31 1163.60,988.87 1164.60,990.38 1165.60,991.84 1166.60,993.24 1167.60,994.59 1168.60,995.89 1169.60,997.14 1170.60,998.34 1171.60,999.50 1172.60,1000.61 1173.60,1001.67 1174.60,1002.69 1175.60,1003.67 1176.60,1004.60 1177.60,1005.50 1178.60,1006.35 1179.60,1007.17 1180.60,1007.95 1181.60,1008.70 1182.60,1009.40 1183.60,1010.08 1184.60,1010.72 1185.60,1011.34 1186.60,1011.92 1187.60,1012.47 1188.60,1013.00 1189.60,1013.50 1190.60,1013.97 1191.60,1014.42 1192.60,1014.84 1193.60,1015.25 1194.60,1015.63 1195.60,1015.98 1196.60,1016.32 1197.60,1016.64 1198.60,1016.95 1199.60,1017.23 1200.60,1017.50 1201.60,1017.75 1202.60,1017.99 1203.60,1018.21 1204.60,1018.43 1205.60,1018.62 1206.60,1018.81 1207.60,1018.98 1208.60,1019.14 1209.60,1019.30 1210.60,1019.44 1211.60,1019.57 1212.60,1019.70 1213.60,1019.82 1214.60,1019.93 1215.60,1020.03 1216.60,1020.12 1217.60,1020.21 1218.60,1020.29 1219.60,1020.37 1220.60,1020.44 1221.60,1020.51 1222.60,1020.57 1223.60,1020.63 1224.60,1020.68 1225.60,1020.73 1226.60,1020.77 1227.60,1020.82 1228.60,1020.86 1229.60,1020.89 1230.60,1020.93 1231.60,1020.96 1232.60,1020.98 1233.60,1021.01 1234.60,1021.04 1235.60,1021.06 1236.60,1021.08 1237.60,1021.10 1238.60,1021.11 1239.60,1021.13 1240.60,1021.15 1241.60,1021.16 1242.60,1021.17 1243.60,1021.18 1244.60,1021.19 1245.60,1021.20 1246.60,1021.21 1247.60,1021.22 1248.60,1021.23 1249.60,1021.23 1250.60,1021.24 1251.60,1021.25 1252.60,1021.25 1253.60,1021.26 1254.60,1021.26 1255.60,1021.26 1256.60,1021.27 1257.60,1021.27 1258.60,1021.27 1259.60,1021.28 1260.60,1021.28 1261.60,1021.28 1262.60,1021.28 1263.60,1021.28 1264.60,1021.29 1265.60,1021.29 1266.60,1021.29 1267.60,1021.29 1268.60,1021.29 1269.60,1021.29 1270.60,1021.29 1271.60,1021.29 1272.60,1021.29 1273.60,1021.29 1274.60,1021.30 1275.60,1021.30 1276.60,1021.30 1277.60,1021.30 1278.60,1021.30 1279.60,1021.30 1280.60,1021.30 1281.60,1021.30 1282.60,1021.30 1283.60,1021.30 1284.60,1021.30 1285.60,1021.30 1286.60,1021.30 1287.60,1021.30 1288.60,1021.30 1289.60,1021.30 1290.60,1021.30 1291.60,1021.30 1292.60,1021.30 1293.60,1021.30 1294.60,1021.30 1295.60,1021.30 1296.60,1021.30 1297.60,1021.30 1298.60,1021.30 1299.60,1021.30 1300.60,1021.30 1301.60,1021.30 1302.60,1021.30 1303.60,1021.30 1304.60,1021.30 1305.60,1021.30 1306.60,1021.30 1307.60,1021.30 1308.60,1021.30 1309.60,1021.30 1310.60,1021.30 1311.60,1021.30 1312.60,1021.30 1313.60,1021.30 1314.60,1021.30 1315.60,1021.30 1316.60,1021.30 1317.60,1021.30 1318.60,1021.30 1319.60,1021.30 1320.60,1021.30 1321.60,1021.30 1322.60,1021.30 1323.60,1021.30 1324.60,1021.30 1325.60,1021.30 1326.60,1021.30 1327.60,1021.30 1328.60,1021.30 1329.60,1021.30 1330.60,1021.30 1331.60,1021.30 1332.60,1021.30 1333.60,1021.30 1334.60,1021.30 1335.60,1021.30 1336.60,1021.30 1337.60,1021.30 1338.60,1021.30 1339.60,1021.30 1340.60,1021.30 1341.60,1021.30 1342.60,1021.30 1343.60,1021.30 1344.60,1021.30 1345.60,1021.30 1346.60,1021.30 1347.60,1021.30 1348.60,1021.30 1349.60,1021.30 1350.60,1021.30 1351.60,1021.30" fill="none" stroke="#000" stroke-width="2.3" stroke-linejoin="round" stroke-linecap="round" clip-path="url(#cd)"/>
<polyline points="871.60,1021.30 872.60,1021.30 873.60,1021.30 874.60,1021.30 875.60,1021.30 876.60,1021.30 877.60,1021.30 878.60,1021.30 879.60,1021.30 880.60,1021.30 881.60,1021.30 882.60,1021.30 883.60,1021.30 884.60,1021.30 885.60,1021.30 886.60,1021.30 887.60,1021.30 888.60,1021.30 889.60,1021.30 890.60,1021.30 891.60,1021.30 892.60,1021.30 893.60,1021.30 894.60,1021.30 895.60,1021.30 896.60,1021.30 897.60,1021.30 898.60,1021.30 899.60,1021.30 900.60,1021.30 901.60,1021.30 902.60,1021.30 903.60,1021.30 904.60,1021.30 905.60,1021.30 906.60,1021.30 907.60,1021.30 908.60,1021.30 909.60,1021.30 910.60,1021.30 911.60,1021.30 912.60,1021.30 913.60,1021.30 914.60,1021.30 915.60,1021.30 916.60,1021.30 917.60,1021.30 918.60,1021.30 919.60,1021.30 920.60,1021.30 921.60,1021.30 922.60,1021.30 923.60,1021.30 924.60,1021.30 925.60,1021.30 926.60,1021.30 927.60,1021.30 928.60,1021.30 929.60,1021.30 930.60,1021.30 931.60,1021.30 932.60,1021.30 933.60,1021.30 934.60,1021.30 935.60,1021.30 936.60,1021.30 937.60,1021.30 938.60,1021.30 939.60,1021.30 940.60,1021.30 941.60,1021.30 942.60,1021.30 943.60,1021.30 944.60,1021.30 945.60,1021.30 946.60,1021.30 947.60,1021.30 948.60,1021.30 949.60,1021.30 950.60,1021.30 951.60,1021.30 952.60,1021.30 953.60,1021.30 954.60,1021.30 955.60,1021.30 956.60,1021.30 957.60,1021.30 958.60,1021.30 959.60,1021.30 960.60,1021.30 961.60,1021.30 962.60,1021.30 963.60,1021.30 964.60,1021.30 965.60,1021.30 966.60,1021.30 967.60,1021.30 968.60,1021.30 969.60,1021.30 970.60,1021.30 971.60,1021.30 972.60,1021.30 973.60,1021.30 974.60,1021.30 975.60,1021.30 976.60,1021.30 977.60,1021.30 978.60,1021.30 979.60,1021.30 980.60,1021.30 981.60,1021.30 982.60,1021.30 983.60,1021.30 984.60,1021.30 985.60,1021.30 986.60,1021.30 987.60,1021.30 988.60,1021.30 989.60,1021.30 990.60,1021.29 991.60,1021.29 992.60,1021.29 993.60,1021.29 994.60,1021.29 995.60,1021.29 996.60,1021.29 997.60,1021.29 998.60,1021.29 999.60,1021.28 1000.60,1021.28 1001.60,1021.28 1002.60,1021.28 1003.60,1021.27 1004.60,1021.27 1005.60,1021.27 1006.60,1021.26 1007.60,1021.26 1008.60,1021.25 1009.60,1021.25 1010.60,1021.24 1011.60,1021.24 1012.60,1021.23 1013.60,1021.22 1014.60,1021.21 1015.60,1021.20 1016.60,1021.19 1017.60,1021.18 1018.60,1021.17 1019.60,1021.15 1020.60,1021.14 1021.60,1021.12 1022.60,1021.10 1023.60,1021.08 1024.60,1021.05 1025.60,1021.03 1026.60,1021.00 1027.60,1020.97 1028.60,1020.94 1029.60,1020.90 1030.60,1020.86 1031.60,1020.82 1032.60,1020.77 1033.60,1020.72 1034.60,1020.67 1035.60,1020.61 1036.60,1020.54 1037.60,1020.47 1038.60,1020.39 1039.60,1020.31 1040.60,1020.22 1041.60,1020.13 1042.60,1020.02 1043.60,1019.91 1044.60,1019.79 1045.60,1019.66 1046.60,1019.52 1047.60,1019.37 1048.60,1019.20 1049.60,1019.03 1050.60,1018.84 1051.60,1018.65 1052.60,1018.43 1053.60,1018.20 1054.60,1017.96 1055.60,1017.70 1056.60,1017.42 1057.60,1017.13 1058.60,1016.81 1059.60,1016.48 1060.60,1016.12 1061.60,1015.74 1062.60,1015.34 1063.60,1014.91 1064.60,1014.46 1065.60,1013.99 1066.60,1013.48 1067.60,1012.95 1068.60,1012.39 1069.60,1011.80 1070.60,1011.18 1071.60,1010.52 1072.60,1009.83 1073.60,1009.11 1074.60,1008.35 1075.60,1007.56 1076.60,1006.72 1077.60,1005.85 1078.60,1004.94 1079.60,1003.99 1080.60,1002.99 1081.60,1001.96 1082.60,1000.88 1083.60,999.76 1084.60,998.60 1085.60,997.39 1086.60,996.13 1087.60,994.83 1088.60,993.49 1089.60,992.10 1090.60,990.66 1091.60,989.18 1092.60,987.65 1093.60,986.08 1094.60,984.46 1095.60,982.80 1096.60,981.09 1097.60,979.34 1098.60,977.55 1099.60,975.72 1100.60,973.85 1101.60,971.94 1102.60,969.99 1103.60,968.01 1104.60,965.99 1105.60,963.94 1106.60,961.87 1107.60,959.76 1108.60,957.63 1109.60,955.48 1110.60,953.31 1111.60,951.12 1112.60,948.92 1113.60,946.71 1114.60,944.49 1115.60,942.27 1116.60,940.05 1117.60,937.82 1118.60,935.61 1119.60,933.41 1120.60,931.21 1121.60,929.04 1122.60,926.89 1123.60,924.77 1124.60,922.67 1125.60,920.61 1126.60,918.59 1127.60,916.61 1128.60,914.67 1129.60,912.78 1130.60,910.95 1131.60,909.18 1132.60,907.47 1133.60,905.82 1134.60,904.24 1135.60,902.74 1136.60,901.31 1137.60,899.96 1138.60,898.69 1139.60,897.51 1140.60,896.42 1141.60,895.41 1142.60,894.51 1143.60,893.69 1144.60,892.98 1145.60,892.37 1146.60,891.85 1147.60,891.44 1148.60,891.14 1149.60,890.94 1150.60,890.85 1151.60,890.88 1152.60,891.01 1153.60,891.24 1154.60,891.59 1155.60,892.04 1156.60,892.58 1157.60,893.24 1158.60,893.99 1159.60,894.83 1160.60,895.77 1161.60,896.81 1162.60,897.93 1163.60,899.14 1164.60,900.44 1165.60,901.81 1166.60,903.27 1167.60,904.79 1168.60,906.39 1169.60,908.06 1170.60,909.79 1171.60,911.58 1172.60,913.43 1173.60,915.33 1174.60,917.27 1175.60,919.27 1176.60,921.30 1177.60,923.37 1178.60,925.47 1179.60,927.60 1180.60,929.75 1181.60,931.93 1182.60,934.12 1183.60,936.32 1184.60,938.53 1185.60,940.75 1186.60,942.97 1187.60,945.19 1188.60,947.40 1189.60,949.60 1190.60,951.80 1191.60,953.98 1192.60,956.14 1193.60,958.28 1194.60,960.39 1195.60,962.49 1196.60,964.55 1197.60,966.58 1198.60,968.59 1199.60,970.55 1200.60,972.49 1201.60,974.38 1202.60,976.24 1203.60,978.06 1204.60,979.83 1205.60,981.57 1206.60,983.26 1207.60,984.90 1208.60,986.51 1209.60,988.06 1210.60,989.58 1211.60,991.04 1212.60,992.46 1213.60,993.84 1214.60,995.17 1215.60,996.46 1216.60,997.70 1217.60,998.89 1218.60,1000.04 1219.60,1001.15 1220.60,1002.22 1221.60,1003.24 1222.60,1004.22 1223.60,1005.16 1224.60,1006.06 1225.60,1006.92 1226.60,1007.74 1227.60,1008.53 1228.60,1009.28 1229.60,1009.99 1230.60,1010.67 1231.60,1011.32 1232.60,1011.93 1233.60,1012.52 1234.60,1013.07 1235.60,1013.59 1236.60,1014.09 1237.60,1014.56 1238.60,1015.00 1239.60,1015.42 1240.60,1015.82 1241.60,1016.19 1242.60,1016.54 1243.60,1016.87 1244.60,1017.18 1245.60,1017.48 1246.60,1017.75 1247.60,1018.01 1248.60,1018.25 1249.60,1018.47 1250.60,1018.68 1251.60,1018.88 1252.60,1019.06 1253.60,1019.23 1254.60,1019.39 1255.60,1019.54 1256.60,1019.68 1257.60,1019.81 1258.60,1019.93 1259.60,1020.04 1260.60,1020.14 1261.60,1020.24 1262.60,1020.33 1263.60,1020.41 1264.60,1020.48 1265.60,1020.55 1266.60,1020.62 1267.60,1020.67 1268.60,1020.73 1269.60,1020.78 1270.60,1020.83 1271.60,1020.87 1272.60,1020.91 1273.60,1020.94 1274.60,1020.97 1275.60,1021.00 1276.60,1021.03 1277.60,1021.06 1278.60,1021.08 1279.60,1021.10 1280.60,1021.12 1281.60,1021.14 1282.60,1021.15 1283.60,1021.17 1284.60,1021.18 1285.60,1021.19 1286.60,1021.20 1287.60,1021.21 1288.60,1021.22 1289.60,1021.23 1290.60,1021.24 1291.60,1021.24 1292.60,1021.25 1293.60,1021.25 1294.60,1021.26 1295.60,1021.26 1296.60,1021.27 1297.60,1021.27 1298.60,1021.27 1299.60,1021.28 1300.60,1021.28 1301.60,1021.28 1302.60,1021.28 1303.60,1021.29 1304.60,1021.29 1305.60,1021.29 1306.60,1021.29 1307.60,1021.29 1308.60,1021.29 1309.60,1021.29 1310.60,1021.29 1311.60,1021.29 1312.60,1021.30 1313.60,1021.30 1314.60,1021.30 1315.60,1021.30 1316.60,1021.30 1317.60,1021.30 1318.60,1021.30 1319.60,1021.30 1320.60,1021.30 1321.60,1021.30 1322.60,1021.30 1323.60,1021.30 1324.60,1021.30 1325.60,1021.30 1326.60,1021.30 1327.60,1021.30 1328.60,1021.30 1329.60,1021.30 1330.60,1021.30 1331.60,1021.30 1332.60,1021.30 1333.60,1021.30 1334.60,1021.30 1335.60,1021.30 1336.60,1021.30 1337.60,1021.30 1338.60,1021.30 1339.60,1021.30 1340.60,1021.30 1341.60,1021.30 1342.60,1021.30 1343.60,1021.30 1344.60,1021.30 1345.60,1021.30 1346.60,1021.30 1347.60,1021.30 1348.60,1021.30 1349.60,1021.30 1350.60,1021.30 1351.60,1021.30" fill="none" stroke="#000" stroke-width="2.3" stroke-linejoin="round" stroke-linecap="round" clip-path="url(#cd)"/>
<rect x="871.60" y="730.60" width="480.10" height="291.00" fill="none" stroke="#000" stroke-width="2.2"/>
<line x1="952.00" y1="1021.60" x2="952.00" y2="1015.00" stroke="#000" stroke-width="2"/>
<line x1="1031.80" y1="1021.60" x2="1031.80" y2="1015.00" stroke="#000" stroke-width="2"/>
<line x1="1111.80" y1="1021.60" x2="1111.80" y2="1015.00" stroke="#000" stroke-width="2"/>
<line x1="1191.80" y1="1021.60" x2="1191.80" y2="1015.00" stroke="#000" stroke-width="2"/>
<line x1="1271.70" y1="1021.60" x2="1271.70" y2="1015.00" stroke="#000" stroke-width="2"/>
<line x1="1351.70" y1="788.80" x2="1344.40" y2="788.80" stroke="#000" stroke-width="2"/>
<line x1="1351.70" y1="846.80" x2="1344.40" y2="846.80" stroke="#000" stroke-width="2"/>
<line x1="1351.70" y1="905.20" x2="1344.40" y2="905.20" stroke="#000" stroke-width="2"/>
<line x1="1351.70" y1="963.50" x2="1344.40" y2="963.50" stroke="#000" stroke-width="2"/>
<line x1="991.00" y1="789.40" x2="1074.00" y2="791.30" stroke="#222" stroke-width="1.1"/>
<line x1="1156.40" y1="890.90" x2="1259.30" y2="880.40" stroke="#222" stroke-width="1.1"/>
<text class="sans" transform="matrix(0.2675 0 0 0.2529 938.40 773.40)">O1s 532eV</text>
<text class="sans" transform="matrix(0.2681 0 0 0.2371 1196.69 871.80)">O1s 530eV</text>
<text class="serif" transform="matrix(0.3400 0 0 0.3136 860.44 709.10)">O1s Scan</text>
<text class="sans" transform="matrix(0.2362 0 0 0.2155 852.06 1057.38)">537</text>
<text class="sans" transform="matrix(0.2347 0 0 0.2155 932.08 1057.38)">535</text>
<text class="sans" transform="matrix(0.2347 0 0 0.2155 1012.10 1057.38)">533</text>
<text class="sans" transform="matrix(0.2354 0 0 0.2155 1092.12 1057.38)">531</text>
<text class="sans" transform="matrix(0.2354 0 0 0.2155 1172.14 1057.38)">529</text>
<text class="sans" transform="matrix(0.2362 0 0 0.2155 1252.16 1057.38)">527</text>
<text class="sans" transform="matrix(0.2347 0 0 0.2155 1332.18 1057.38)">525</text>
<text class="sans" transform="matrix(0.2276 0 0 0.2042 1374.76 736.35)">2000</text>
<text class="sans" transform="matrix(0.2303 0 0 0.2042 1374.17 794.35)">1600</text>
<text class="sans" transform="matrix(0.2303 0 0 0.2042 1374.17 852.35)">1200</text>
<text class="sans" transform="matrix(0.2372 0 0 0.2042 1374.83 910.55)">800</text>
<text class="sans" transform="matrix(0.2335 0 0 0.2042 1375.43 968.95)">400</text>
<text class="sans" transform="matrix(0.2396 0 0 0.2042 1374.94 1027.35)">0</text>
<text class="serif" transform="matrix(0.2820 0 0 0.2549 1029.05 1090.02)">Binding Energy(eV)</text>
<text class="serif" transform="translate(1456.16 943.77) rotate(-90) scale(0.2476 0.2901)">Intensity(cps)</text>
<text class="cjk" transform="matrix(0.3754 0 0 0.2952 1049.30 1150.19)">（</text>
<text class="serif" transform="matrix(0.3780 0 0 0.3702 1088.88 1152.33)">d</text>
<text class="cjk" transform="matrix(0.3754 0 0 0.2952 1110.36 1150.19)">）</text>
<clipPath id="ce"><rect x="248.4" y="1210.1" width="653.6" height="378.3000000000002"/></clipPath>
<polyline points="248.40,1588.40 249.40,1588.40 250.40,1588.40 251.40,1588.40 252.40,1588.40 253.40,1588.40 254.40,1588.40 255.40,1588.40 256.40,1588.40 257.40,1588.40 258.40,1588.40 259.40,1588.40 260.40,1588.40 261.40,1588.40 262.40,1588.40 263.40,1588.40 264.40,1588.40 265.40,1588.40 266.40,1588.39 267.40,1588.39 268.40,1588.39 269.40,1588.39 270.40,1588.39 271.40,1588.39 272.40,1588.39 273.40,1588.39 274.40,1588.38 275.40,1588.38 276.40,1588.38 277.40,1588.38 278.40,1588.37 279.40,1588.37 280.40,1588.37 281.40,1588.36 282.40,1588.36 283.40,1588.35 284.40,1588.34 285.40,1588.34 286.40,1588.33 287.40,1588.32 288.40,1588.31 289.40,1588.30 290.40,1588.29 291.40,1588.27 292.40,1588.26 293.40,1588.24 294.40,1588.22 295.40,1588.20 296.40,1588.17 297.40,1588.15 298.40,1588.12 299.40,1588.09 300.40,1588.05 301.40,1588.01 302.40,1587.97 303.40,1587.92 304.40,1587.87 305.40,1587.82 306.40,1587.76 307.40,1587.69 308.40,1587.62 309.40,1587.55 310.40,1587.47 311.40,1587.38 312.40,1587.28 313.40,1587.18 314.40,1587.07 315.40,1586.94 316.40,1586.81 317.40,1586.67 318.40,1586.51 319.40,1586.34 320.40,1586.16 321.40,1585.96 322.40,1585.76 323.40,1585.53 324.40,1585.30 325.40,1585.05 326.40,1584.78 327.40,1584.49 328.40,1584.19 329.40,1583.87 330.40,1583.54 331.40,1583.19 332.40,1582.81 333.40,1582.42 334.40,1582.01 335.40,1581.58 336.40,1581.13 337.40,1580.66 338.40,1580.17 339.40,1579.66 340.40,1579.13 341.40,1578.59 342.40,1578.02 343.40,1577.43 344.40,1576.82 345.40,1576.19 346.40,1575.53 347.40,1574.85 348.40,1574.14 349.40,1573.40 350.40,1572.63 351.40,1571.85 352.40,1571.03 353.40,1570.19 354.40,1569.32 355.40,1568.43 356.40,1567.52 357.40,1566.58 358.40,1565.61 359.40,1564.63 360.40,1563.63 361.40,1562.62 362.40,1561.58 363.40,1560.52 364.40,1559.45 365.40,1558.35 366.40,1557.24 367.40,1556.11 368.40,1554.96 369.40,1553.79 370.40,1552.61 371.40,1551.43 372.40,1550.25 373.40,1549.07 374.40,1547.89 375.40,1546.70 376.40,1545.52 377.40,1544.32 378.40,1543.13 379.40,1541.93 380.40,1540.72 381.40,1539.50 382.40,1538.28 383.40,1537.03 384.40,1535.77 385.40,1534.50 386.40,1533.21 387.40,1531.90 388.40,1530.59 389.40,1529.26 390.40,1527.94 391.40,1526.61 392.40,1525.28 393.40,1523.94 394.40,1522.59 395.40,1521.23 396.40,1519.85 397.40,1518.44 398.40,1517.00 399.40,1515.52 400.40,1513.99 401.40,1512.42 402.40,1510.80 403.40,1509.13 404.40,1507.42 405.40,1505.67 406.40,1503.88 407.40,1502.07 408.40,1500.22 409.40,1498.35 410.40,1496.46 411.40,1494.56 412.40,1492.64 413.40,1490.70 414.40,1488.76 415.40,1486.82 416.40,1484.88 417.40,1482.96 418.40,1481.06 419.40,1479.19 420.40,1477.36 421.40,1475.57 422.40,1473.83 423.40,1472.14 424.40,1470.53 425.40,1469.02 426.40,1467.61 427.40,1466.30 428.40,1465.11 429.40,1464.04 430.40,1463.09 431.40,1462.27 432.40,1461.57 433.40,1461.00 434.40,1460.56 435.40,1460.26 436.40,1460.08 437.40,1460.04 438.40,1460.12 439.40,1460.32 440.40,1460.62 441.40,1461.01 442.40,1461.51 443.40,1462.13 444.40,1462.88 445.40,1463.75 446.40,1464.75 447.40,1465.88 448.40,1467.14 449.40,1468.52 450.40,1470.04 451.40,1471.68 452.40,1473.43 453.40,1475.30 454.40,1477.28 455.40,1479.36 456.40,1481.54 457.40,1483.81 458.40,1486.18 459.40,1488.62 460.40,1491.13 461.40,1493.70 462.40,1496.33 463.40,1499.01 464.40,1501.73 465.40,1504.48 466.40,1507.26 467.40,1510.05 468.40,1512.86 469.40,1515.66 470.40,1518.47 471.40,1521.26 472.40,1524.03 473.40,1526.77 474.40,1529.49 475.40,1532.17 476.40,1534.80 477.40,1537.38 478.40,1539.92 479.40,1542.39 480.40,1544.81 481.40,1547.16 482.40,1549.44 483.40,1551.65 484.40,1553.78 485.40,1555.85 486.40,1557.83 487.40,1559.74 488.40,1561.57 489.40,1563.32 490.40,1565.00 491.40,1566.59 492.40,1568.11 493.40,1569.56 494.40,1570.92 495.40,1572.21 496.40,1573.44 497.40,1574.59 498.40,1575.67 499.40,1576.68 500.40,1577.64 501.40,1578.53 502.40,1579.36 503.40,1580.13 504.40,1580.85 505.40,1581.52 506.40,1582.14 507.40,1582.71 508.40,1583.24 509.40,1583.73 510.40,1584.17 511.40,1584.58 512.40,1584.96 513.40,1585.31 514.40,1585.62 515.40,1585.91 516.40,1586.17 517.40,1586.40 518.40,1586.62 519.40,1586.81 520.40,1586.99 521.40,1587.15 522.40,1587.29 523.40,1587.42 524.40,1587.53 525.40,1587.63 526.40,1587.72 527.40,1587.81 528.40,1587.88 529.40,1587.94 530.40,1588.00 531.40,1588.05 532.40,1588.10 533.40,1588.13 534.40,1588.17 535.40,1588.20 536.40,1588.23 537.40,1588.25 538.40,1588.27 539.40,1588.29 540.40,1588.30 541.40,1588.32 542.40,1588.33 543.40,1588.34 544.40,1588.35 545.40,1588.36 546.40,1588.36 547.40,1588.37 548.40,1588.37 549.40,1588.38 550.40,1588.38 551.40,1588.38 552.40,1588.39 553.40,1588.39 554.40,1588.39 555.40,1588.39 556.40,1588.39 557.40,1588.39 558.40,1588.40 559.40,1588.40 560.40,1588.40 561.40,1588.40 562.40,1588.40 563.40,1588.40 564.40,1588.40 565.40,1588.40 566.40,1588.40 567.40,1588.40 568.40,1588.40 569.40,1588.40 570.40,1588.40 571.40,1588.40 572.40,1588.40 573.40,1588.40 574.40,1588.40 575.40,1588.40 576.40,1588.40 577.40,1588.40 578.40,1588.40 579.40,1588.40 580.40,1588.40 581.40,1588.40 582.40,1588.40 583.40,1588.40 584.40,1588.40 585.40,1588.40 586.40,1588.40 587.40,1588.40 588.40,1588.40 589.40,1588.40 590.40,1588.40 591.40,1588.40 592.40,1588.40 593.40,1588.40 594.40,1588.39 595.40,1588.39 596.40,1588.39 597.40,1588.39 598.40,1588.39 599.40,1588.39 600.40,1588.39 601.40,1588.38 602.40,1588.38 603.40,1588.38 604.40,1588.37 605.40,1588.37 606.40,1588.36 607.40,1588.36 608.40,1588.35 609.40,1588.34 610.40,1588.34 611.40,1588.33 612.40,1588.32 613.40,1588.30 614.40,1588.29 615.40,1588.27 616.40,1588.25 617.40,1588.23 618.40,1588.21 619.40,1588.18 620.40,1588.15 621.40,1588.12 622.40,1588.08 623.40,1588.04 624.40,1587.99 625.40,1587.94 626.40,1587.88 627.40,1587.82 628.40,1587.74 629.40,1587.66 630.40,1587.57 631.40,1587.47 632.40,1587.36 633.40,1587.23 634.40,1587.10 635.40,1586.95 636.40,1586.78 637.40,1586.60 638.40,1586.40 639.40,1586.18 640.40,1585.94 641.40,1585.68 642.40,1585.39 643.40,1585.08 644.40,1584.74 645.40,1584.38 646.40,1583.98 647.40,1583.55 648.40,1583.08 649.40,1582.58 650.40,1582.03 651.40,1581.45 652.40,1580.82 653.40,1580.15 654.40,1579.43 655.40,1578.66 656.40,1577.84 657.40,1576.97 658.40,1576.04 659.40,1575.05 660.40,1574.00 661.40,1572.89 662.40,1571.72 663.40,1570.49 664.40,1569.19 665.40,1567.82 666.40,1566.39 667.40,1564.89 668.40,1563.32 669.40,1561.68 670.40,1559.98 671.40,1558.21 672.40,1556.36 673.40,1554.46 674.40,1552.49 675.40,1550.45 676.40,1548.36 677.40,1546.21 678.40,1544.00 679.40,1541.74 680.40,1539.43 681.40,1537.07 682.40,1534.68 683.40,1532.25 684.40,1529.79 685.40,1527.30 686.40,1524.79 687.40,1522.26 688.40,1519.72 689.40,1517.17 690.40,1514.62 691.40,1512.06 692.40,1509.50 693.40,1506.96 694.40,1504.45 695.40,1501.98 696.40,1499.55 697.40,1497.17 698.40,1494.84 699.40,1492.58 700.40,1490.39 701.40,1488.27 702.40,1486.23 703.40,1484.28 704.40,1482.42 705.40,1480.64 706.40,1478.97 707.40,1477.39 708.40,1475.91 709.40,1474.52 710.40,1473.25 711.40,1472.07 712.40,1471.01 713.40,1470.06 714.40,1469.21 715.40,1468.44 716.40,1467.75 717.40,1467.12 718.40,1466.55 719.40,1466.01 720.40,1465.48 721.40,1464.95 722.40,1464.41 723.40,1463.84 724.40,1463.24 725.40,1462.60 726.40,1461.88 727.40,1461.08 728.40,1460.18 729.40,1459.17 730.40,1458.05 731.40,1456.83 732.40,1455.51 733.40,1454.07 734.40,1452.51 735.40,1450.81 736.40,1448.96 737.40,1446.95 738.40,1444.78 739.40,1442.43 740.40,1439.88 741.40,1437.09 742.40,1434.06 743.40,1430.80 744.40,1427.31 745.40,1423.64 746.40,1419.80 747.40,1415.80 748.40,1411.64 749.40,1407.33 750.40,1402.87 751.40,1398.28 752.40,1393.57 753.40,1388.75 754.40,1383.84 755.40,1378.85 756.40,1373.76 757.40,1368.61 758.40,1363.40 759.40,1358.15 760.40,1352.89 761.40,1347.68 762.40,1342.54 763.40,1337.47 764.40,1332.50 765.40,1327.70 766.40,1323.09 767.40,1318.71 768.40,1314.56 769.40,1310.65 770.40,1306.97 771.40,1303.52 772.40,1300.32 773.40,1297.40 774.40,1294.76 775.40,1292.43 776.40,1290.43 777.40,1288.78 778.40,1287.49 779.40,1286.57 780.40,1286.05 781.40,1285.93 782.40,1286.24 783.40,1287.08 784.40,1288.44 785.40,1290.27 786.40,1292.54 787.40,1295.22 788.40,1298.30 789.40,1301.75 790.40,1305.57 791.40,1309.73 792.40,1314.22 793.40,1319.01 794.40,1324.11 795.40,1329.49 796.40,1335.12 797.40,1340.99 798.40,1347.07 799.40,1353.33 800.40,1359.77 801.40,1366.35 802.40,1373.05 803.40,1379.85 804.40,1386.73 805.40,1393.66 806.40,1400.62 807.40,1407.59 808.40,1414.55 809.40,1421.47 810.40,1428.35 811.40,1435.17 812.40,1441.89 813.40,1448.52 814.40,1455.04 815.40,1461.43 816.40,1467.69 817.40,1473.80 818.40,1479.75 819.40,1485.53 820.40,1491.14 821.40,1496.58 822.40,1501.83 823.40,1506.89 824.40,1511.76 825.40,1516.44 826.40,1520.93 827.40,1525.22 828.40,1529.33 829.40,1533.24 830.40,1536.96 831.40,1540.50 832.40,1543.85 833.40,1547.03 834.40,1550.03 835.40,1552.86 836.40,1555.53 837.40,1558.04 838.40,1560.40 839.40,1562.60 840.40,1564.67 841.40,1566.60 842.40,1568.40 843.40,1570.07 844.40,1571.63 845.40,1573.08 846.40,1574.42 847.40,1575.66 848.40,1576.80 849.40,1577.86 850.40,1578.83 851.40,1579.73 852.40,1580.55 853.40,1581.30 854.40,1581.99 855.40,1582.62 856.40,1583.20 857.40,1583.72 858.40,1584.20 859.40,1584.63 860.40,1585.03 861.40,1585.38 862.40,1585.70 863.40,1585.99 864.40,1586.26 865.40,1586.49 866.40,1586.71 867.40,1586.90 868.40,1587.07 869.40,1587.22 870.40,1587.36 871.40,1587.48 872.40,1587.59 873.40,1587.69 874.40,1587.77 875.40,1587.85 876.40,1587.92 877.40,1587.98 878.40,1588.03 879.40,1588.08 880.40,1588.12 881.40,1588.15 882.40,1588.19 883.40,1588.21 884.40,1588.24 885.40,1588.26 886.40,1588.28 887.40,1588.30 888.40,1588.31 889.40,1588.32 890.40,1588.33 891.40,1588.34 892.40,1588.35 893.40,1588.36 894.40,1588.36 895.40,1588.37 896.40,1588.37 897.40,1588.38 898.40,1588.38 899.40,1588.38 900.40,1588.39 901.40,1588.39" fill="none" stroke="#000" stroke-width="2.3" stroke-linejoin="round" stroke-linecap="round" clip-path="url(#ce)"/>
<polyline points="248.40,1588.40 249.40,1588.40 250.40,1588.40 251.40,1588.40 252.40,1588.40 253.40,1588.40 254.40,1588.40 255.40,1588.40 256.40,1588.40 257.40,1588.40 258.40,1588.40 259.40,1588.40 260.40,1588.40 261.40,1588.40 262.40,1588.40 263.40,1588.40 264.40,1588.40 265.40,1588.40 266.40,1588.39 267.40,1588.39 268.40,1588.39 269.40,1588.39 270.40,1588.39 271.40,1588.39 272.40,1588.39 273.40,1588.39 274.40,1588.38 275.40,1588.38 276.40,1588.38 277.40,1588.38 278.40,1588.37 279.40,1588.37 280.40,1588.37 281.40,1588.36 282.40,1588.36 283.40,1588.35 284.40,1588.34 285.40,1588.34 286.40,1588.33 287.40,1588.32 288.40,1588.31 289.40,1588.30 290.40,1588.29 291.40,1588.28 292.40,1588.26 293.40,1588.24 294.40,1588.23 295.40,1588.21 296.40,1588.19 297.40,1588.16 298.40,1588.14 299.40,1588.11 300.40,1588.07 301.40,1588.04 302.40,1588.00 303.40,1587.96 304.40,1587.91 305.40,1587.87 306.40,1587.81 307.40,1587.75 308.40,1587.69 309.40,1587.62 310.40,1587.55 311.40,1587.46 312.40,1587.38 313.40,1587.28 314.40,1587.18 315.40,1587.07 316.40,1586.95 317.40,1586.83 318.40,1586.69 319.40,1586.54 320.40,1586.39 321.40,1586.22 322.40,1586.04 323.40,1585.85 324.40,1585.65 325.40,1585.43 326.40,1585.21 327.40,1584.96 328.40,1584.71 329.40,1584.44 330.40,1584.15 331.40,1583.85 332.40,1583.53 333.40,1583.19 334.40,1582.84 335.40,1582.47 336.40,1582.08 337.40,1581.68 338.40,1581.26 339.40,1580.81 340.40,1580.36 341.40,1579.88 342.40,1579.38 343.40,1578.87 344.40,1578.33 345.40,1577.78 346.40,1577.22 347.40,1576.63 348.40,1576.03 349.40,1575.41 350.40,1574.78 351.40,1574.13 352.40,1573.47 353.40,1572.79 354.40,1572.11 355.40,1571.41 356.40,1570.70 357.40,1569.99 358.40,1569.26 359.40,1568.53 360.40,1567.80 361.40,1567.06 362.40,1566.33 363.40,1565.59 364.40,1564.86 365.40,1564.13 366.40,1563.41 367.40,1562.69 368.40,1561.99 369.40,1561.30 370.40,1560.62 371.40,1559.97 372.40,1559.32 373.40,1558.70 374.40,1558.11 375.40,1557.53 376.40,1556.99 377.40,1556.47 378.40,1555.99 379.40,1555.53 380.40,1555.11 381.40,1554.73 382.40,1554.39 383.40,1554.08 384.40,1553.82 385.40,1553.59 386.40,1553.41 387.40,1553.28 388.40,1553.19 389.40,1553.15 390.40,1553.17 391.40,1553.26 392.40,1553.40 393.40,1553.59 394.40,1553.84 395.40,1554.14 396.40,1554.49 397.40,1554.89 398.40,1555.34 399.40,1555.82 400.40,1556.35 401.40,1556.92 402.40,1557.52 403.40,1558.16 404.40,1558.82 405.40,1559.52 406.40,1560.24 407.40,1560.98 408.40,1561.74 409.40,1562.51 410.40,1563.30 411.40,1564.10 412.40,1564.91 413.40,1565.73 414.40,1566.54 415.40,1567.36 416.40,1568.17 417.40,1568.99 418.40,1569.79 419.40,1570.59 420.40,1571.37 421.40,1572.15 422.40,1572.91 423.40,1573.65 424.40,1574.38 425.40,1575.09 426.40,1575.79 427.40,1576.46 428.40,1577.11 429.40,1577.75 430.40,1578.36 431.40,1578.95 432.40,1579.51 433.40,1580.06 434.40,1580.58 435.40,1581.08 436.40,1581.55 437.40,1582.01 438.40,1582.44 439.40,1582.85 440.40,1583.24 441.40,1583.61 442.40,1583.96 443.40,1584.28 444.40,1584.59 445.40,1584.88 446.40,1585.16 447.40,1585.41 448.40,1585.65 449.40,1585.88 450.40,1586.08 451.40,1586.28 452.40,1586.46 453.40,1586.63 454.40,1586.78 455.40,1586.93 456.40,1587.06 457.40,1587.18 458.40,1587.29 459.40,1587.40 460.40,1587.49 461.40,1587.58 462.40,1587.66 463.40,1587.73 464.40,1587.80 465.40,1587.86 466.40,1587.91 467.40,1587.96 468.40,1588.01 469.40,1588.05 470.40,1588.09 471.40,1588.12 472.40,1588.15 473.40,1588.18 474.40,1588.20 475.40,1588.23 476.40,1588.25 477.40,1588.26 478.40,1588.28 479.40,1588.29 480.40,1588.31 481.40,1588.32 482.40,1588.33 483.40,1588.34 484.40,1588.34 485.40,1588.35 486.40,1588.36 487.40,1588.36 488.40,1588.37 489.40,1588.37 490.40,1588.38 491.40,1588.38 492.40,1588.38 493.40,1588.38 494.40,1588.39 495.40,1588.39 496.40,1588.39 497.40,1588.39 498.40,1588.39 499.40,1588.39 500.40,1588.39 501.40,1588.40 502.40,1588.40 503.40,1588.40 504.40,1588.40 505.40,1588.40 506.40,1588.40 507.40,1588.40 508.40,1588.40 509.40,1588.40 510.40,1588.40 511.40,1588.40 512.40,1588.40 513.40,1588.40 514.40,1588.40 515.40,1588.40 516.40,1588.40 517.40,1588.40 518.40,1588.40 519.40,1588.40 520.40,1588.40 521.40,1588.40 522.40,1588.40 523.40,1588.40 524.40,1588.40 525.40,1588.40 526.40,1588.40 527.40,1588.40 528.40,1588.40 529.40,1588.40 530.40,1588.40 531.40,1588.40 532.40,1588.40 533.40,1588.40 534.40,1588.40 535.40,1588.40 536.40,1588.40 537.40,1588.40 538.40,1588.40 539.40,1588.40 540.40,1588.40 541.40,1588.40 542.40,1588.40 543.40,1588.40 544.40,1588.40 545.40,1588.40 546.40,1588.40 547.40,1588.40 548.40,1588.40 549.40,1588.40 550.40,1588.40 551.40,1588.40 552.40,1588.40 553.40,1588.40 554.40,1588.40 555.40,1588.40 556.40,1588.40 557.40,1588.40 558.40,1588.40 559.40,1588.40 560.40,1588.40 561.40,1588.40 562.40,1588.40 563.40,1588.40 564.40,1588.40 565.40,1588.40 566.40,1588.40 567.40,1588.40 568.40,1588.40 569.40,1588.40 570.40,1588.40 571.40,1588.40 572.40,1588.40 573.40,1588.40 574.40,1588.40 575.40,1588.40 576.40,1588.40 577.40,1588.40 578.40,1588.40 579.40,1588.40 580.40,1588.40 581.40,1588.40 582.40,1588.40 583.40,1588.40 584.40,1588.40 585.40,1588.40 586.40,1588.40 587.40,1588.40 588.40,1588.40 589.40,1588.40 590.40,1588.40 591.40,1588.40 592.40,1588.40 593.40,1588.40 594.40,1588.40 595.40,1588.40 596.40,1588.40 597.40,1588.40 598.40,1588.40 599.40,1588.40 600.40,1588.40 601.40,1588.40 602.40,1588.40 603.40,1588.40 604.40,1588.40 605.40,1588.40 606.40,1588.40 607.40,1588.40 608.40,1588.40 609.40,1588.40 610.40,1588.40 611.40,1588.40 612.40,1588.40 613.40,1588.40 614.40,1588.40 615.40,1588.40 616.40,1588.40 617.40,1588.40 618.40,1588.40 619.40,1588.40 620.40,1588.40 621.40,1588.40 622.40,1588.40 623.40,1588.40 624.40,1588.40 625.40,1588.40 626.40,1588.40 627.40,1588.40 628.40,1588.40 629.40,1588.40 630.40,1588.40 631.40,1588.40 632.40,1588.40 633.40,1588.40 634.40,1588.40 635.40,1588.40 636.40,1588.40 637.40,1588.40 638.40,1588.40 639.40,1588.40 640.40,1588.40 641.40,1588.40 642.40,1588.40 643.40,1588.40 644.40,1588.40 645.40,1588.40 646.40,1588.40 647.40,1588.40 648.40,1588.40 649.40,1588.40 650.40,1588.40 651.40,1588.40 652.40,1588.40 653.40,1588.40 654.40,1588.40 655.40,1588.40 656.40,1588.40 657.40,1588.40 658.40,1588.40 659.40,1588.40 660.40,1588.40 661.40,1588.40 662.40,1588.40 663.40,1588.40 664.40,1588.40 665.40,1588.40 666.40,1588.40 667.40,1588.40 668.40,1588.40 669.40,1588.40 670.40,1588.40 671.40,1588.40 672.40,1588.40 673.40,1588.40 674.40,1588.40 675.40,1588.40 676.40,1588.40 677.40,1588.40 678.40,1588.40 679.40,1588.40 680.40,1588.40 681.40,1588.40 682.40,1588.40 683.40,1588.40 684.40,1588.40 685.40,1588.40 686.40,1588.40 687.40,1588.40 688.40,1588.40 689.40,1588.40 690.40,1588.40 691.40,1588.40 692.40,1588.40 693.40,1588.40 694.40,1588.40 695.40,1588.40 696.40,1588.40 697.40,1588.40 698.40,1588.40 699.40,1588.40 700.40,1588.40 701.40,1588.40 702.40,1588.40 703.40,1588.40 704.40,1588.40 705.40,1588.40 706.40,1588.40 707.40,1588.40 708.40,1588.40 709.40,1588.40 710.40,1588.40 711.40,1588.40 712.40,1588.40 713.40,1588.40 714.40,1588.40 715.40,1588.40 716.40,1588.40 717.40,1588.40 718.40,1588.40 719.40,1588.40 720.40,1588.40 721.40,1588.40 722.40,1588.40 723.40,1588.40 724.40,1588.40 725.40,1588.40 726.40,1588.40 727.40,1588.40 728.40,1588.40 729.40,1588.40 730.40,1588.40 731.40,1588.40 732.40,1588.40 733.40,1588.40 734.40,1588.40 735.40,1588.40 736.40,1588.40 737.40,1588.40 738.40,1588.40 739.40,1588.40 740.40,1588.40 741.40,1588.40 742.40,1588.40 743.40,1588.40 744.40,1588.40 745.40,1588.40 746.40,1588.40 747.40,1588.40 748.40,1588.40 749.40,1588.40 750.40,1588.40 751.40,1588.40 752.40,1588.40 753.40,1588.40 754.40,1588.40 755.40,1588.40 756.40,1588.40 757.40,1588.40 758.40,1588.40 759.40,1588.40 760.40,1588.40 761.40,1588.40 762.40,1588.40 763.40,1588.40 764.40,1588.40 765.40,1588.40 766.40,1588.40 767.40,1588.40 768.40,1588.40 769.40,1588.40 770.40,1588.40 771.40,1588.40 772.40,1588.40 773.40,1588.40 774.40,1588.40 775.40,1588.40 776.40,1588.40 777.40,1588.40 778.40,1588.40 779.40,1588.40 780.40,1588.40 781.40,1588.40 782.40,1588.40 783.40,1588.40 784.40,1588.40 785.40,1588.40 786.40,1588.40 787.40,1588.40 788.40,1588.40 789.40,1588.40 790.40,1588.40 791.40,1588.40 792.40,1588.40 793.40,1588.40 794.40,1588.40 795.40,1588.40 796.40,1588.40 797.40,1588.40 798.40,1588.40 799.40,1588.40 800.40,1588.40 801.40,1588.40 802.40,1588.40 803.40,1588.40 804.40,1588.40 805.40,1588.40 806.40,1588.40 807.40,1588.40 808.40,1588.40 809.40,1588.40 810.40,1588.40 811.40,1588.40 812.40,1588.40 813.40,1588.40 814.40,1588.40 815.40,1588.40 816.40,1588.40 817.40,1588.40 818.40,1588.40 819.40,1588.40 820.40,1588.40 821.40,1588.40 822.40,1588.40 823.40,1588.40 824.40,1588.40 825.40,1588.40 826.40,1588.40 827.40,1588.40 828.40,1588.40 829.40,1588.40 830.40,1588.40 831.40,1588.40 832.40,1588.40 833.40,1588.40 834.40,1588.40 835.40,1588.40 836.40,1588.40 837.40,1588.40 838.40,1588.40 839.40,1588.40 840.40,1588.40 841.40,1588.40 842.40,1588.40 843.40,1588.40 844.40,1588.40 845.40,1588.40 846.40,1588.40 847.40,1588.40 848.40,1588.40 849.40,1588.40 850.40,1588.40 851.40,1588.40 852.40,1588.40 853.40,1588.40 854.40,1588.40 855.40,1588.40 856.40,1588.40 857.40,1588.40 858.40,1588.40 859.40,1588.40 860.40,1588.40 861.40,1588.40 862.40,1588.40 863.40,1588.40 864.40,1588.40 865.40,1588.40 866.40,1588.40 867.40,1588.40 868.40,1588.40 869.40,1588.40 870.40,1588.40 871.40,1588.40 872.40,1588.40 873.40,1588.40 874.40,1588.40 875.40,1588.40 876.40,1588.40 877.40,1588.40 878.40,1588.40 879.40,1588.40 880.40,1588.40 881.40,1588.40 882.40,1588.40 883.40,1588.40 884.40,1588.40 885.40,1588.40 886.40,1588.40 887.40,1588.40 888.40,1588.40 889.40,1588.40 890.40,1588.40 891.40,1588.40 892.40,1588.40 893.40,1588.40 894.40,1588.40 895.40,1588.40 896.40,1588.40 897.40,1588.40 898.40,1588.40 899.40,1588.40 900.40,1588.40 901.40,1588.40" fill="none" stroke="#000" stroke-width="2.3" stroke-linejoin="round" stroke-linecap="round" clip-path="url(#ce)"/>
<polyline points="248.40,1588.40 249.40,1588.40 250.40,1588.40 251.40,1588.40 252.40,1588.40 253.40,1588.40 254.40,1588.40 255.40,1588.40 256.40,1588.40 257.40,1588.40 258.40,1588.40 259.40,1588.40 260.40,1588.40 261.40,1588.40 262.40,1588.40 263.40,1588.40 264.40,1588.40 265.40,1588.40 266.40,1588.40 267.40,1588.40 268.40,1588.40 269.40,1588.40 270.40,1588.40 271.40,1588.40 272.40,1588.40 273.40,1588.40 274.40,1588.40 275.40,1588.40 276.40,1588.40 277.40,1588.40 278.40,1588.40 279.40,1588.40 280.40,1588.40 281.40,1588.40 282.40,1588.40 283.40,1588.40 284.40,1588.40 285.40,1588.40 286.40,1588.40 287.40,1588.40 288.40,1588.40 289.40,1588.40 290.40,1588.40 291.40,1588.40 292.40,1588.40 293.40,1588.40 294.40,1588.40 295.40,1588.40 296.40,1588.40 297.40,1588.40 298.40,1588.40 299.40,1588.40 300.40,1588.40 301.40,1588.40 302.40,1588.40 303.40,1588.40 304.40,1588.40 305.40,1588.40 306.40,1588.40 307.40,1588.40 308.40,1588.40 309.40,1588.40 310.40,1588.40 311.40,1588.40 312.40,1588.40 313.40,1588.40 314.40,1588.40 315.40,1588.40 316.40,1588.40 317.40,1588.40 318.40,1588.40 319.40,1588.40 320.40,1588.40 321.40,1588.40 322.40,1588.40 323.40,1588.40 324.40,1588.40 325.40,1588.40 326.40,1588.39 327.40,1588.39 328.40,1588.39 329.40,1588.39 330.40,1588.39 331.40,1588.39 332.40,1588.38 333.40,1588.38 334.40,1588.38 335.40,1588.37 336.40,1588.37 337.40,1588.36 338.40,1588.36 339.40,1588.35 340.40,1588.34 341.40,1588.33 342.40,1588.32 343.40,1588.30 344.40,1588.29 345.40,1588.27 346.40,1588.24 347.40,1588.22 348.40,1588.19 349.40,1588.16 350.40,1588.12 351.40,1588.07 352.40,1588.02 353.40,1587.97 354.40,1587.90 355.40,1587.83 356.40,1587.75 357.40,1587.66 358.40,1587.55 359.40,1587.43 360.40,1587.30 361.40,1587.15 362.40,1586.99 363.40,1586.81 364.40,1586.60 365.40,1586.38 366.40,1586.12 367.40,1585.85 368.40,1585.54 369.40,1585.20 370.40,1584.83 371.40,1584.43 372.40,1583.98 373.40,1583.49 374.40,1582.96 375.40,1582.38 376.40,1581.76 377.40,1581.08 378.40,1580.34 379.40,1579.55 380.40,1578.69 381.40,1577.77 382.40,1576.79 383.40,1575.73 384.40,1574.60 385.40,1573.40 386.40,1572.12 387.40,1570.77 388.40,1569.33 389.40,1567.81 390.40,1566.20 391.40,1564.51 392.40,1562.74 393.40,1560.88 394.40,1558.94 395.40,1556.91 396.40,1554.80 397.40,1552.61 398.40,1550.34 399.40,1547.99 400.40,1545.56 401.40,1543.07 402.40,1540.51 403.40,1537.89 404.40,1535.21 405.40,1532.48 406.40,1529.71 407.40,1526.89 408.40,1524.05 409.40,1521.18 410.40,1518.30 411.40,1515.41 412.40,1512.52 413.40,1509.64 414.40,1506.77 415.40,1503.94 416.40,1501.14 417.40,1498.39 418.40,1495.70 419.40,1493.07 420.40,1490.51 421.40,1488.04 422.40,1485.65 423.40,1483.37 424.40,1481.19 425.40,1479.13 426.40,1477.19 427.40,1475.38 428.40,1473.71 429.40,1472.17 430.40,1470.77 431.40,1469.52 432.40,1468.42 433.40,1467.47 434.40,1466.67 435.40,1466.03 436.40,1465.53 437.40,1465.17 438.40,1464.96 439.40,1464.88 440.40,1464.90 441.40,1465.04 442.40,1465.29 443.40,1465.68 444.40,1466.20 445.40,1466.86 446.40,1467.66 447.40,1468.60 448.40,1469.67 449.40,1470.88 450.40,1472.22 451.40,1473.70 452.40,1475.30 453.40,1477.02 454.40,1478.86 455.40,1480.81 456.40,1482.87 457.40,1485.03 458.40,1487.28 459.40,1489.62 460.40,1492.04 461.40,1494.53 462.40,1497.08 463.40,1499.68 464.40,1502.33 465.40,1505.02 466.40,1507.75 467.40,1510.49 468.40,1513.25 469.40,1516.01 470.40,1518.78 471.40,1521.53 472.40,1524.28 473.40,1526.99 474.40,1529.68 475.40,1532.34 476.40,1534.95 477.40,1537.52 478.40,1540.04 479.40,1542.50 480.40,1544.90 481.40,1547.24 482.40,1549.51 483.40,1551.71 484.40,1553.84 485.40,1555.90 486.40,1557.88 487.40,1559.78 488.40,1561.61 489.40,1563.35 490.40,1565.02 491.40,1566.62 492.40,1568.13 493.40,1569.57 494.40,1570.94 495.40,1572.23 496.40,1573.45 497.40,1574.59 498.40,1575.68 499.40,1576.69 500.40,1577.64 501.40,1578.53 502.40,1579.36 503.40,1580.13 504.40,1580.85 505.40,1581.52 506.40,1582.14 507.40,1582.71 508.40,1583.24 509.40,1583.73 510.40,1584.17 511.40,1584.59 512.40,1584.96 513.40,1585.31 514.40,1585.62 515.40,1585.91 516.40,1586.17 517.40,1586.40 518.40,1586.62 519.40,1586.81 520.40,1586.99 521.40,1587.15 522.40,1587.29 523.40,1587.42 524.40,1587.53 525.40,1587.63 526.40,1587.72 527.40,1587.81 528.40,1587.88 529.40,1587.94 530.40,1588.00 531.40,1588.05 532.40,1588.10 533.40,1588.13 534.40,1588.17 535.40,1588.20 536.40,1588.23 537.40,1588.25 538.40,1588.27 539.40,1588.29 540.40,1588.30 541.40,1588.32 542.40,1588.33 543.40,1588.34 544.40,1588.35 545.40,1588.36 546.40,1588.36 547.40,1588.37 548.40,1588.37 549.40,1588.38 550.40,1588.38 551.40,1588.38 552.40,1588.39 553.40,1588.39 554.40,1588.39 555.40,1588.39 556.40,1588.39 557.40,1588.39 558.40,1588.40 559.40,1588.40 560.40,1588.40 561.40,1588.40 562.40,1588.40 563.40,1588.40 564.40,1588.40 565.40,1588.40 566.40,1588.40 567.40,1588.40 568.40,1588.40 569.40,1588.40 570.40,1588.40 571.40,1588.40 572.40,1588.40 573.40,1588.40 574.40,1588.40 575.40,1588.40 576.40,1588.40 577.40,1588.40 578.40,1588.40 579.40,1588.40 580.40,1588.40 581.40,1588.40 582.40,1588.40 583.40,1588.40 584.40,1588.40 585.40,1588.40 586.40,1588.40 587.40,1588.40 588.40,1588.40 589.40,1588.40 590.40,1588.40 591.40,1588.40 592.40,1588.40 593.40,1588.40 594.40,1588.40 595.40,1588.40 596.40,1588.40 597.40,1588.40 598.40,1588.40 599.40,1588.40 600.40,1588.40 601.40,1588.40 602.40,1588.40 603.40,1588.40 604.40,1588.40 605.40,1588.40 606.40,1588.40 607.40,1588.40 608.40,1588.40 609.40,1588.40 610.40,1588.40 611.40,1588.40 612.40,1588.40 613.40,1588.40 614.40,1588.40 615.40,1588.40 616.40,1588.40 617.40,1588.40 618.40,1588.40 619.40,1588.40 620.40,1588.40 621.40,1588.40 622.40,1588.40 623.40,1588.40 624.40,1588.40 625.40,1588.40 626.40,1588.40 627.40,1588.40 628.40,1588.40 629.40,1588.40 630.40,1588.40 631.40,1588.40 632.40,1588.40 633.40,1588.40 634.40,1588.40 635.40,1588.40 636.40,1588.40 637.40,1588.40 638.40,1588.40 639.40,1588.40 640.40,1588.40 641.40,1588.40 642.40,1588.40 643.40,1588.40 644.40,1588.40 645.40,1588.40 646.40,1588.40 647.40,1588.40 648.40,1588.40 649.40,1588.40 650.40,1588.40 651.40,1588.40 652.40,1588.40 653.40,1588.40 654.40,1588.40 655.40,1588.40 656.40,1588.40 657.40,1588.40 658.40,1588.40 659.40,1588.40 660.40,1588.40 661.40,1588.40 662.40,1588.40 663.40,1588.40 664.40,1588.40 665.40,1588.40 666.40,1588.40 667.40,1588.40 668.40,1588.40 669.40,1588.40 670.40,1588.40 671.40,1588.40 672.40,1588.40 673.40,1588.40 674.40,1588.40 675.40,1588.40 676.40,1588.40 677.40,1588.40 678.40,1588.40 679.40,1588.40 680.40,1588.40 681.40,1588.40 682.40,1588.40 683.40,1588.40 684.40,1588.40 685.40,1588.40 686.40,1588.40 687.40,1588.40 688.40,1588.40 689.40,1588.40 690.40,1588.40 691.40,1588.40 692.40,1588.40 693.40,1588.40 694.40,1588.40 695.40,1588.40 696.40,1588.40 697.40,1588.40 698.40,1588.40 699.40,1588.40 700.40,1588.40 701.40,1588.40 702.40,1588.40 703.40,1588.40 704.40,1588.40 705.40,1588.40 706.40,1588.40 707.40,1588.40 708.40,1588.40 709.40,1588.40 710.40,1588.40 711.40,1588.40 712.40,1588.40 713.40,1588.40 714.40,1588.40 715.40,1588.40 716.40,1588.40 717.40,1588.40 718.40,1588.40 719.40,1588.40 720.40,1588.40 721.40,1588.40 722.40,1588.40 723.40,1588.40 724.40,1588.40 725.40,1588.40 726.40,1588.40 727.40,1588.40 728.40,1588.40 729.40,1588.40 730.40,1588.40 731.40,1588.40 732.40,1588.40 733.40,1588.40 734.40,1588.40 735.40,1588.40 736.40,1588.40 737.40,1588.40 738.40,1588.40 739.40,1588.40 740.40,1588.40 741.40,1588.40 742.40,1588.40 743.40,1588.40 744.40,1588.40 745.40,1588.40 746.40,1588.40 747.40,1588.40 748.40,1588.40 749.40,1588.40 750.40,1588.40 751.40,1588.40 752.40,1588.40 753.40,1588.40 754.40,1588.40 755.40,1588.40 756.40,1588.40 757.40,1588.40 758.40,1588.40 759.40,1588.40 760.40,1588.40 761.40,1588.40 762.40,1588.40 763.40,1588.40 764.40,1588.40 765.40,1588.40 766.40,1588.40 767.40,1588.40 768.40,1588.40 769.40,1588.40 770.40,1588.40 771.40,1588.40 772.40,1588.40 773.40,1588.40 774.40,1588.40 775.40,1588.40 776.40,1588.40 777.40,1588.40 778.40,1588.40 779.40,1588.40 780.40,1588.40 781.40,1588.40 782.40,1588.40 783.40,1588.40 784.40,1588.40 785.40,1588.40 786.40,1588.40 787.40,1588.40 788.40,1588.40 789.40,1588.40 790.40,1588.40 791.40,1588.40 792.40,1588.40 793.40,1588.40 794.40,1588.40 795.40,1588.40 796.40,1588.40 797.40,1588.40 798.40,1588.40 799.40,1588.40 800.40,1588.40 801.40,1588.40 802.40,1588.40 803.40,1588.40 804.40,1588.40 805.40,1588.40 806.40,1588.40 807.40,1588.40 808.40,1588.40 809.40,1588.40 810.40,1588.40 811.40,1588.40 812.40,1588.40 813.40,1588.40 814.40,1588.40 815.40,1588.40 816.40,1588.40 817.40,1588.40 818.40,1588.40 819.40,1588.40 820.40,1588.40 821.40,1588.40 822.40,1588.40 823.40,1588.40 824.40,1588.40 825.40,1588.40 826.40,1588.40 827.40,1588.40 828.40,1588.40 829.40,1588.40 830.40,1588.40 831.40,1588.40 832.40,1588.40 833.40,1588.40 834.40,1588.40 835.40,1588.40 836.40,1588.40 837.40,1588.40 838.40,1588.40 839.40,1588.40 840.40,1588.40 841.40,1588.40 842.40,1588.40 843.40,1588.40 844.40,1588.40 845.40,1588.40 846.40,1588.40 847.40,1588.40 848.40,1588.40 849.40,1588.40 850.40,1588.40 851.40,1588.40 852.40,1588.40 853.40,1588.40 854.40,1588.40 855.40,1588.40 856.40,1588.40 857.40,1588.40 858.40,1588.40 859.40,1588.40 860.40,1588.40 861.40,1588.40 862.40,1588.40 863.40,1588.40 864.40,1588.40 865.40,1588.40 866.40,1588.40 867.40,1588.40 868.40,1588.40 869.40,1588.40 870.40,1588.40 871.40,1588.40 872.40,1588.40 873.40,1588.40 874.40,1588.40 875.40,1588.40 876.40,1588.40 877.40,1588.40 878.40,1588.40 879.40,1588.40 880.40,1588.40 881.40,1588.40 882.40,1588.40 883.40,1588.40 884.40,1588.40 885.40,1588.40 886.40,1588.40 887.40,1588.40 888.40,1588.40 889.40,1588.40 890.40,1588.40 891.40,1588.40 892.40,1588.40 893.40,1588.40 894.40,1588.40 895.40,1588.40 896.40,1588.40 897.40,1588.40 898.40,1588.40 899.40,1588.40 900.40,1588.40 901.40,1588.40" fill="none" stroke="#000" stroke-width="2.3" stroke-linejoin="round" stroke-linecap="round" clip-path="url(#ce)"/>
<polyline points="248.40,1588.40 249.40,1588.40 250.40,1588.40 251.40,1588.40 252.40,1588.40 253.40,1588.40 254.40,1588.40 255.40,1588.40 256.40,1588.40 257.40,1588.40 258.40,1588.40 259.40,1588.40 260.40,1588.40 261.40,1588.40 262.40,1588.40 263.40,1588.40 264.40,1588.40 265.40,1588.40 266.40,1588.40 267.40,1588.40 268.40,1588.40 269.40,1588.40 270.40,1588.40 271.40,1588.40 272.40,1588.40 273.40,1588.40 274.40,1588.40 275.40,1588.40 276.40,1588.40 277.40,1588.40 278.40,1588.40 279.40,1588.40 280.40,1588.40 281.40,1588.40 282.40,1588.40 283.40,1588.40 284.40,1588.40 285.40,1588.40 286.40,1588.40 287.40,1588.40 288.40,1588.40 289.40,1588.40 290.40,1588.40 291.40,1588.40 292.40,1588.40 293.40,1588.40 294.40,1588.40 295.40,1588.40 296.40,1588.40 297.40,1588.40 298.40,1588.40 299.40,1588.40 300.40,1588.40 301.40,1588.40 302.40,1588.40 303.40,1588.40 304.40,1588.40 305.40,1588.40 306.40,1588.40 307.40,1588.40 308.40,1588.40 309.40,1588.40 310.40,1588.40 311.40,1588.40 312.40,1588.40 313.40,1588.40 314.40,1588.40 315.40,1588.40 316.40,1588.40 317.40,1588.40 318.40,1588.40 319.40,1588.40 320.40,1588.40 321.40,1588.40 322.40,1588.40 323.40,1588.40 324.40,1588.40 325.40,1588.40 326.40,1588.40 327.40,1588.40 328.40,1588.40 329.40,1588.40 330.40,1588.40 331.40,1588.40 332.40,1588.40 333.40,1588.40 334.40,1588.40 335.40,1588.40 336.40,1588.40 337.40,1588.40 338.40,1588.40 339.40,1588.40 340.40,1588.40 341.40,1588.40 342.40,1588.40 343.40,1588.40 344.40,1588.40 345.40,1588.40 346.40,1588.40 347.40,1588.40 348.40,1588.40 349.40,1588.40 350.40,1588.40 351.40,1588.40 352.40,1588.40 353.40,1588.40 354.40,1588.40 355.40,1588.40 356.40,1588.40 357.40,1588.40 358.40,1588.40 359.40,1588.40 360.40,1588.40 361.40,1588.40 362.40,1588.40 363.40,1588.40 364.40,1588.40 365.40,1588.40 366.40,1588.40 367.40,1588.40 368.40,1588.40 369.40,1588.40 370.40,1588.40 371.40,1588.40 372.40,1588.40 373.40,1588.40 374.40,1588.40 375.40,1588.40 376.40,1588.40 377.40,1588.40 378.40,1588.40 379.40,1588.40 380.40,1588.40 381.40,1588.40 382.40,1588.40 383.40,1588.40 384.40,1588.40 385.40,1588.40 386.40,1588.40 387.40,1588.40 388.40,1588.40 389.40,1588.40 390.40,1588.40 391.40,1588.40 392.40,1588.40 393.40,1588.40 394.40,1588.40 395.40,1588.40 396.40,1588.40 397.40,1588.40 398.40,1588.40 399.40,1588.40 400.40,1588.40 401.40,1588.40 402.40,1588.40 403.40,1588.40 404.40,1588.40 405.40,1588.40 406.40,1588.40 407.40,1588.40 408.40,1588.40 409.40,1588.40 410.40,1588.40 411.40,1588.40 412.40,1588.40 413.40,1588.40 414.40,1588.40 415.40,1588.40 416.40,1588.40 417.40,1588.40 418.40,1588.40 419.40,1588.40 420.40,1588.40 421.40,1588.40 422.40,1588.40 423.40,1588.40 424.40,1588.40 425.40,1588.40 426.40,1588.40 427.40,1588.40 428.40,1588.40 429.40,1588.40 430.40,1588.40 431.40,1588.40 432.40,1588.40 433.40,1588.40 434.40,1588.40 435.40,1588.40 436.40,1588.40 437.40,1588.40 438.40,1588.40 439.40,1588.40 440.40,1588.40 441.40,1588.40 442.40,1588.40 443.40,1588.40 444.40,1588.40 445.40,1588.40 446.40,1588.40 447.40,1588.40 448.40,1588.40 449.40,1588.40 450.40,1588.40 451.40,1588.40 452.40,1588.40 453.40,1588.40 454.40,1588.40 455.40,1588.40 456.40,1588.40 457.40,1588.40 458.40,1588.40 459.40,1588.40 460.40,1588.40 461.40,1588.40 462.40,1588.40 463.40,1588.40 464.40,1588.40 465.40,1588.40 466.40,1588.40 467.40,1588.40 468.40,1588.40 469.40,1588.40 470.40,1588.40 471.40,1588.40 472.40,1588.40 473.40,1588.40 474.40,1588.40 475.40,1588.40 476.40,1588.40 477.40,1588.40 478.40,1588.40 479.40,1588.40 480.40,1588.40 481.40,1588.40 482.40,1588.40 483.40,1588.40 484.40,1588.40 485.40,1588.40 486.40,1588.40 487.40,1588.40 488.40,1588.40 489.40,1588.40 490.40,1588.40 491.40,1588.40 492.40,1588.40 493.40,1588.40 494.40,1588.40 495.40,1588.40 496.40,1588.40 497.40,1588.40 498.40,1588.40 499.40,1588.40 500.40,1588.40 501.40,1588.40 502.40,1588.40 503.40,1588.40 504.40,1588.40 505.40,1588.40 506.40,1588.40 507.40,1588.40 508.40,1588.40 509.40,1588.40 510.40,1588.40 511.40,1588.40 512.40,1588.40 513.40,1588.40 514.40,1588.40 515.40,1588.40 516.40,1588.40 517.40,1588.40 518.40,1588.40 519.40,1588.40 520.40,1588.40 521.40,1588.40 522.40,1588.40 523.40,1588.40 524.40,1588.40 525.40,1588.40 526.40,1588.40 527.40,1588.40 528.40,1588.40 529.40,1588.40 530.40,1588.40 531.40,1588.40 532.40,1588.40 533.40,1588.40 534.40,1588.40 535.40,1588.40 536.40,1588.40 537.40,1588.40 538.40,1588.40 539.40,1588.40 540.40,1588.40 541.40,1588.40 542.40,1588.40 543.40,1588.40 544.40,1588.40 545.40,1588.40 546.40,1588.40 547.40,1588.40 548.40,1588.40 549.40,1588.40 550.40,1588.40 551.40,1588.40 552.40,1588.40 553.40,1588.40 554.40,1588.40 555.40,1588.40 556.40,1588.40 557.40,1588.40 558.40,1588.40 559.40,1588.40 560.40,1588.40 561.40,1588.40 562.40,1588.40 563.40,1588.40 564.40,1588.40 565.40,1588.40 566.40,1588.40 567.40,1588.40 568.40,1588.40 569.40,1588.40 570.40,1588.40 571.40,1588.40 572.40,1588.40 573.40,1588.40 574.40,1588.40 575.40,1588.40 576.40,1588.40 577.40,1588.40 578.40,1588.40 579.40,1588.40 580.40,1588.40 581.40,1588.40 582.40,1588.40 583.40,1588.40 584.40,1588.40 585.40,1588.40 586.40,1588.40 587.40,1588.40 588.40,1588.40 589.40,1588.40 590.40,1588.40 591.40,1588.40 592.40,1588.40 593.40,1588.40 594.40,1588.39 595.40,1588.39 596.40,1588.39 597.40,1588.39 598.40,1588.39 599.40,1588.39 600.40,1588.39 601.40,1588.38 602.40,1588.38 603.40,1588.38 604.40,1588.37 605.40,1588.37 606.40,1588.36 607.40,1588.36 608.40,1588.35 609.40,1588.35 610.40,1588.34 611.40,1588.33 612.40,1588.32 613.40,1588.30 614.40,1588.29 615.40,1588.27 616.40,1588.25 617.40,1588.23 618.40,1588.21 619.40,1588.18 620.40,1588.15 621.40,1588.12 622.40,1588.08 623.40,1588.04 624.40,1587.99 625.40,1587.94 626.40,1587.88 627.40,1587.82 628.40,1587.74 629.40,1587.66 630.40,1587.57 631.40,1587.47 632.40,1587.36 633.40,1587.23 634.40,1587.10 635.40,1586.95 636.40,1586.78 637.40,1586.60 638.40,1586.40 639.40,1586.18 640.40,1585.94 641.40,1585.68 642.40,1585.40 643.40,1585.08 644.40,1584.75 645.40,1584.38 646.40,1583.98 647.40,1583.55 648.40,1583.08 649.40,1582.58 650.40,1582.04 651.40,1581.46 652.40,1580.83 653.40,1580.16 654.40,1579.44 655.40,1578.68 656.40,1577.86 657.40,1576.99 658.40,1576.06 659.40,1575.08 660.40,1574.04 661.40,1572.93 662.40,1571.77 663.40,1570.54 664.40,1569.25 665.40,1567.89 666.40,1566.47 667.40,1564.98 668.40,1563.42 669.40,1561.80 670.40,1560.11 671.40,1558.36 672.40,1556.54 673.40,1554.65 674.40,1552.71 675.40,1550.71 676.40,1548.65 677.40,1546.53 678.40,1544.37 679.40,1542.15 680.40,1539.90 681.40,1537.61 682.40,1535.28 683.40,1532.92 684.40,1530.55 685.40,1528.15 686.40,1525.75 687.40,1523.34 688.40,1520.93 689.40,1518.54 690.40,1516.16 691.40,1513.81 692.40,1511.50 693.40,1509.23 694.40,1507.01 695.40,1504.84 696.40,1502.75 697.40,1500.73 698.40,1498.79 699.40,1496.95 700.40,1495.20 701.40,1493.56 702.40,1492.04 703.40,1490.64 704.40,1489.37 705.40,1488.23 706.40,1487.23 707.40,1486.38 708.40,1485.69 709.40,1485.15 710.40,1484.77 711.40,1484.57 712.40,1484.54 713.40,1484.69 714.40,1485.01 715.40,1485.47 716.40,1486.09 717.40,1486.85 718.40,1487.74 719.40,1488.78 720.40,1489.94 721.40,1491.23 722.40,1492.63 723.40,1494.14 724.40,1495.76 725.40,1497.48 726.40,1499.29 727.40,1501.18 728.40,1503.15 729.40,1505.19 730.40,1507.28 731.40,1509.44 732.40,1511.63 733.40,1513.87 734.40,1516.14 735.40,1518.44 736.40,1520.75 737.40,1523.07 738.40,1525.40 739.40,1527.72 740.40,1530.04 741.40,1532.34 742.40,1534.62 743.40,1536.88 744.40,1539.11 745.40,1541.30 746.40,1543.45 747.40,1545.57 748.40,1547.63 749.40,1549.65 750.40,1551.61 751.40,1553.52 752.40,1555.38 753.40,1557.18 754.40,1558.91 755.40,1560.59 756.40,1562.21 757.40,1563.76 758.40,1565.25 759.40,1566.68 760.40,1568.04 761.40,1569.35 762.40,1570.59 763.40,1571.78 764.40,1572.90 765.40,1573.97 766.40,1574.98 767.40,1575.94 768.40,1576.84 769.40,1577.70 770.40,1578.50 771.40,1579.25 772.40,1579.96 773.40,1580.62 774.40,1581.24 775.40,1581.81 776.40,1582.35 777.40,1582.86 778.40,1583.32 779.40,1583.76 780.40,1584.16 781.40,1584.53 782.40,1584.87 783.40,1585.19 784.40,1585.48 785.40,1585.75 786.40,1586.00 787.40,1586.23 788.40,1586.43 789.40,1586.62 790.40,1586.80 791.40,1586.96 792.40,1587.10 793.40,1587.23 794.40,1587.35 795.40,1587.46 796.40,1587.56 797.40,1587.65 798.40,1587.73 799.40,1587.80 800.40,1587.87 801.40,1587.93 802.40,1587.98 803.40,1588.03 804.40,1588.07 805.40,1588.11 806.40,1588.14 807.40,1588.17 808.40,1588.20 809.40,1588.22 810.40,1588.24 811.40,1588.26 812.40,1588.28 813.40,1588.29 814.40,1588.31 815.40,1588.32 816.40,1588.33 817.40,1588.34 818.40,1588.35 819.40,1588.35 820.40,1588.36 821.40,1588.36 822.40,1588.37 823.40,1588.37 824.40,1588.38 825.40,1588.38 826.40,1588.38 827.40,1588.39 828.40,1588.39 829.40,1588.39 830.40,1588.39 831.40,1588.39 832.40,1588.39 833.40,1588.39 834.40,1588.39 835.40,1588.40 836.40,1588.40 837.40,1588.40 838.40,1588.40 839.40,1588.40 840.40,1588.40 841.40,1588.40 842.40,1588.40 843.40,1588.40 844.40,1588.40 845.40,1588.40 846.40,1588.40 847.40,1588.40 848.40,1588.40 849.40,1588.40 850.40,1588.40 851.40,1588.40 852.40,1588.40 853.40,1588.40 854.40,1588.40 855.40,1588.40 856.40,1588.40 857.40,1588.40 858.40,1588.40 859.40,1588.40 860.40,1588.40 861.40,1588.40 862.40,1588.40 863.40,1588.40 864.40,1588.40 865.40,1588.40 866.40,1588.40 867.40,1588.40 868.40,1588.40 869.40,1588.40 870.40,1588.40 871.40,1588.40 872.40,1588.40 873.40,1588.40 874.40,1588.40 875.40,1588.40 876.40,1588.40 877.40,1588.40 878.40,1588.40 879.40,1588.40 880.40,1588.40 881.40,1588.40 882.40,1588.40 883.40,1588.40 884.40,1588.40 885.40,1588.40 886.40,1588.40 887.40,1588.40 888.40,1588.40 889.40,1588.40 890.40,1588.40 891.40,1588.40 892.40,1588.40 893.40,1588.40 894.40,1588.40 895.40,1588.40 896.40,1588.40 897.40,1588.40 898.40,1588.40 899.40,1588.40 900.40,1588.40 901.40,1588.40" fill="none" stroke="#000" stroke-width="2.3" stroke-linejoin="round" stroke-linecap="round" clip-path="url(#ce)"/>
<polyline points="248.40,1588.40 249.40,1588.40 250.40,1588.40 251.40,1588.40 252.40,1588.40 253.40,1588.40 254.40,1588.40 255.40,1588.40 256.40,1588.40 257.40,1588.40 258.40,1588.40 259.40,1588.40 260.40,1588.40 261.40,1588.40 262.40,1588.40 263.40,1588.40 264.40,1588.40 265.40,1588.40 266.40,1588.40 267.40,1588.40 268.40,1588.40 269.40,1588.40 270.40,1588.40 271.40,1588.40 272.40,1588.40 273.40,1588.40 274.40,1588.40 275.40,1588.40 276.40,1588.40 277.40,1588.40 278.40,1588.40 279.40,1588.40 280.40,1588.40 281.40,1588.40 282.40,1588.40 283.40,1588.40 284.40,1588.40 285.40,1588.40 286.40,1588.40 287.40,1588.40 288.40,1588.40 289.40,1588.40 290.40,1588.40 291.40,1588.40 292.40,1588.40 293.40,1588.40 294.40,1588.40 295.40,1588.40 296.40,1588.40 297.40,1588.40 298.40,1588.40 299.40,1588.40 300.40,1588.40 301.40,1588.40 302.40,1588.40 303.40,1588.40 304.40,1588.40 305.40,1588.40 306.40,1588.40 307.40,1588.40 308.40,1588.40 309.40,1588.40 310.40,1588.40 311.40,1588.40 312.40,1588.40 313.40,1588.40 314.40,1588.40 315.40,1588.40 316.40,1588.40 317.40,1588.40 318.40,1588.40 319.40,1588.40 320.40,1588.40 321.40,1588.40 322.40,1588.40 323.40,1588.40 324.40,1588.40 325.40,1588.40 326.40,1588.40 327.40,1588.40 328.40,1588.40 329.40,1588.40 330.40,1588.40 331.40,1588.40 332.40,1588.40 333.40,1588.40 334.40,1588.40 335.40,1588.40 336.40,1588.40 337.40,1588.40 338.40,1588.40 339.40,1588.40 340.40,1588.40 341.40,1588.40 342.40,1588.40 343.40,1588.40 344.40,1588.40 345.40,1588.40 346.40,1588.40 347.40,1588.40 348.40,1588.40 349.40,1588.40 350.40,1588.40 351.40,1588.40 352.40,1588.40 353.40,1588.40 354.40,1588.40 355.40,1588.40 356.40,1588.40 357.40,1588.40 358.40,1588.40 359.40,1588.40 360.40,1588.40 361.40,1588.40 362.40,1588.40 363.40,1588.40 364.40,1588.40 365.40,1588.40 366.40,1588.40 367.40,1588.40 368.40,1588.40 369.40,1588.40 370.40,1588.40 371.40,1588.40 372.40,1588.40 373.40,1588.40 374.40,1588.40 375.40,1588.40 376.40,1588.40 377.40,1588.40 378.40,1588.40 379.40,1588.40 380.40,1588.40 381.40,1588.40 382.40,1588.40 383.40,1588.40 384.40,1588.40 385.40,1588.40 386.40,1588.40 387.40,1588.40 388.40,1588.40 389.40,1588.40 390.40,1588.40 391.40,1588.40 392.40,1588.40 393.40,1588.40 394.40,1588.40 395.40,1588.40 396.40,1588.40 397.40,1588.40 398.40,1588.40 399.40,1588.40 400.40,1588.40 401.40,1588.40 402.40,1588.40 403.40,1588.40 404.40,1588.40 405.40,1588.40 406.40,1588.40 407.40,1588.40 408.40,1588.40 409.40,1588.40 410.40,1588.40 411.40,1588.40 412.40,1588.40 413.40,1588.40 414.40,1588.40 415.40,1588.40 416.40,1588.40 417.40,1588.40 418.40,1588.40 419.40,1588.40 420.40,1588.40 421.40,1588.40 422.40,1588.40 423.40,1588.40 424.40,1588.40 425.40,1588.40 426.40,1588.40 427.40,1588.40 428.40,1588.40 429.40,1588.40 430.40,1588.40 431.40,1588.40 432.40,1588.40 433.40,1588.40 434.40,1588.40 435.40,1588.40 436.40,1588.40 437.40,1588.40 438.40,1588.40 439.40,1588.40 440.40,1588.40 441.40,1588.40 442.40,1588.40 443.40,1588.40 444.40,1588.40 445.40,1588.40 446.40,1588.40 447.40,1588.40 448.40,1588.40 449.40,1588.40 450.40,1588.40 451.40,1588.40 452.40,1588.40 453.40,1588.40 454.40,1588.40 455.40,1588.40 456.40,1588.40 457.40,1588.40 458.40,1588.40 459.40,1588.40 460.40,1588.40 461.40,1588.40 462.40,1588.40 463.40,1588.40 464.40,1588.40 465.40,1588.40 466.40,1588.40 467.40,1588.40 468.40,1588.40 469.40,1588.40 470.40,1588.40 471.40,1588.40 472.40,1588.40 473.40,1588.40 474.40,1588.40 475.40,1588.40 476.40,1588.40 477.40,1588.40 478.40,1588.40 479.40,1588.40 480.40,1588.40 481.40,1588.40 482.40,1588.40 483.40,1588.40 484.40,1588.40 485.40,1588.40 486.40,1588.40 487.40,1588.40 488.40,1588.40 489.40,1588.40 490.40,1588.40 491.40,1588.40 492.40,1588.40 493.40,1588.40 494.40,1588.40 495.40,1588.40 496.40,1588.40 497.40,1588.40 498.40,1588.40 499.40,1588.40 500.40,1588.40 501.40,1588.40 502.40,1588.40 503.40,1588.40 504.40,1588.40 505.40,1588.40 506.40,1588.40 507.40,1588.40 508.40,1588.40 509.40,1588.40 510.40,1588.40 511.40,1588.40 512.40,1588.40 513.40,1588.40 514.40,1588.40 515.40,1588.40 516.40,1588.40 517.40,1588.40 518.40,1588.40 519.40,1588.40 520.40,1588.40 521.40,1588.40 522.40,1588.40 523.40,1588.40 524.40,1588.40 525.40,1588.40 526.40,1588.40 527.40,1588.40 528.40,1588.40 529.40,1588.40 530.40,1588.40 531.40,1588.40 532.40,1588.40 533.40,1588.40 534.40,1588.40 535.40,1588.40 536.40,1588.40 537.40,1588.40 538.40,1588.40 539.40,1588.40 540.40,1588.40 541.40,1588.40 542.40,1588.40 543.40,1588.40 544.40,1588.40 545.40,1588.40 546.40,1588.40 547.40,1588.40 548.40,1588.40 549.40,1588.40 550.40,1588.40 551.40,1588.40 552.40,1588.40 553.40,1588.40 554.40,1588.40 555.40,1588.40 556.40,1588.40 557.40,1588.40 558.40,1588.40 559.40,1588.40 560.40,1588.40 561.40,1588.40 562.40,1588.40 563.40,1588.40 564.40,1588.40 565.40,1588.40 566.40,1588.40 567.40,1588.40 568.40,1588.40 569.40,1588.40 570.40,1588.40 571.40,1588.40 572.40,1588.40 573.40,1588.40 574.40,1588.40 575.40,1588.40 576.40,1588.40 577.40,1588.40 578.40,1588.40 579.40,1588.40 580.40,1588.40 581.40,1588.40 582.40,1588.40 583.40,1588.40 584.40,1588.40 585.40,1588.40 586.40,1588.40 587.40,1588.40 588.40,1588.40 589.40,1588.40 590.40,1588.40 591.40,1588.40 592.40,1588.40 593.40,1588.40 594.40,1588.40 595.40,1588.40 596.40,1588.40 597.40,1588.40 598.40,1588.40 599.40,1588.40 600.40,1588.40 601.40,1588.40 602.40,1588.40 603.40,1588.40 604.40,1588.40 605.40,1588.40 606.40,1588.40 607.40,1588.40 608.40,1588.40 609.40,1588.40 610.40,1588.40 611.40,1588.40 612.40,1588.40 613.40,1588.40 614.40,1588.40 615.40,1588.40 616.40,1588.40 617.40,1588.40 618.40,1588.40 619.40,1588.40 620.40,1588.40 621.40,1588.40 622.40,1588.40 623.40,1588.40 624.40,1588.40 625.40,1588.40 626.40,1588.40 627.40,1588.40 628.40,1588.40 629.40,1588.40 630.40,1588.40 631.40,1588.40 632.40,1588.40 633.40,1588.40 634.40,1588.40 635.40,1588.40 636.40,1588.40 637.40,1588.40 638.40,1588.40 639.40,1588.40 640.40,1588.40 641.40,1588.40 642.40,1588.40 643.40,1588.40 644.40,1588.40 645.40,1588.40 646.40,1588.40 647.40,1588.40 648.40,1588.39 649.40,1588.39 650.40,1588.39 651.40,1588.39 652.40,1588.39 653.40,1588.39 654.40,1588.39 655.40,1588.38 656.40,1588.38 657.40,1588.38 658.40,1588.38 659.40,1588.37 660.40,1588.37 661.40,1588.36 662.40,1588.36 663.40,1588.35 664.40,1588.34 665.40,1588.33 666.40,1588.32 667.40,1588.31 668.40,1588.30 669.40,1588.28 670.40,1588.27 671.40,1588.25 672.40,1588.23 673.40,1588.20 674.40,1588.18 675.40,1588.15 676.40,1588.11 677.40,1588.07 678.40,1588.03 679.40,1587.98 680.40,1587.93 681.40,1587.87 682.40,1587.80 683.40,1587.72 684.40,1587.64 685.40,1587.55 686.40,1587.44 687.40,1587.33 688.40,1587.20 689.40,1587.05 690.40,1586.89 691.40,1586.72 692.40,1586.53 693.40,1586.31 694.40,1586.08 695.40,1585.82 696.40,1585.53 697.40,1585.22 698.40,1584.88 699.40,1584.50 700.40,1584.09 701.40,1583.65 702.40,1583.16 703.40,1582.63 704.40,1582.05 705.40,1581.42 706.40,1580.74 707.40,1580.00 708.40,1579.20 709.40,1578.33 710.40,1577.40 711.40,1576.39 712.40,1575.31 713.40,1574.14 714.40,1572.89 715.40,1571.54 716.40,1570.10 717.40,1568.57 718.40,1566.92 719.40,1565.17 720.40,1563.30 721.40,1561.32 722.40,1559.21 723.40,1556.97 724.40,1554.60 725.40,1552.09 726.40,1549.44 727.40,1546.65 728.40,1543.71 729.40,1540.61 730.40,1537.37 731.40,1533.96 732.40,1530.39 733.40,1526.67 734.40,1522.78 735.40,1518.72 736.40,1514.51 737.40,1510.13 738.40,1505.58 739.40,1500.88 740.40,1496.02 741.40,1491.00 742.40,1485.83 743.40,1480.52 744.40,1475.07 745.40,1469.48 746.40,1463.76 747.40,1457.93 748.40,1451.98 749.40,1445.93 750.40,1439.80 751.40,1433.59 752.40,1427.31 753.40,1420.98 754.40,1414.61 755.40,1408.22 756.40,1401.83 757.40,1395.44 758.40,1389.07 759.40,1382.75 760.40,1376.49 761.40,1370.31 762.40,1364.22 763.40,1358.26 764.40,1352.43 765.40,1346.75 766.40,1341.25 767.40,1335.94 768.40,1330.85 769.40,1325.99 770.40,1321.38 771.40,1317.04 772.40,1312.98 773.40,1309.23 774.40,1305.80 775.40,1302.71 776.40,1299.97 777.40,1297.60 778.40,1295.61 779.40,1294.02 780.40,1292.84 781.40,1292.09 782.40,1291.79 783.40,1292.04 784.40,1292.83 785.40,1294.13 786.40,1295.91 787.40,1298.15 788.40,1300.84 789.40,1303.95 790.40,1307.47 791.40,1311.38 792.40,1315.66 793.40,1320.28 794.40,1325.22 795.40,1330.46 796.40,1335.98 797.40,1341.74 798.40,1347.74 799.40,1353.93 800.40,1360.30 801.40,1366.82 802.40,1373.47 803.40,1380.23 804.40,1387.06 805.40,1393.95 806.40,1400.88 807.40,1407.82 808.40,1414.75 809.40,1421.65 810.40,1428.51 811.40,1435.30 812.40,1442.01 813.40,1448.63 814.40,1455.14 815.40,1461.52 816.40,1467.76 817.40,1473.86 818.40,1479.80 819.40,1485.58 820.40,1491.18 821.40,1496.61 822.40,1501.86 823.40,1506.92 824.40,1511.78 825.40,1516.46 826.40,1520.95 827.40,1525.24 828.40,1529.34 829.40,1533.25 830.40,1536.97 831.40,1540.51 832.40,1543.86 833.40,1547.03 834.40,1550.04 835.40,1552.87 836.40,1555.54 837.40,1558.04 838.40,1560.40 839.40,1562.61 840.40,1564.67 841.40,1566.60 842.40,1568.40 843.40,1570.08 844.40,1571.63 845.40,1573.08 846.40,1574.42 847.40,1575.66 848.40,1576.80 849.40,1577.86 850.40,1578.83 851.40,1579.73 852.40,1580.55 853.40,1581.30 854.40,1581.99 855.40,1582.62 856.40,1583.20 857.40,1583.72 858.40,1584.20 859.40,1584.63 860.40,1585.03 861.40,1585.38 862.40,1585.70 863.40,1585.99 864.40,1586.26 865.40,1586.49 866.40,1586.71 867.40,1586.90 868.40,1587.07 869.40,1587.22 870.40,1587.36 871.40,1587.48 872.40,1587.59 873.40,1587.69 874.40,1587.77 875.40,1587.85 876.40,1587.92 877.40,1587.98 878.40,1588.03 879.40,1588.08 880.40,1588.12 881.40,1588.15 882.40,1588.19 883.40,1588.21 884.40,1588.24 885.40,1588.26 886.40,1588.28 887.40,1588.30 888.40,1588.31 889.40,1588.32 890.40,1588.33 891.40,1588.34 892.40,1588.35 893.40,1588.36 894.40,1588.36 895.40,1588.37 896.40,1588.37 897.40,1588.38 898.40,1588.38 899.40,1588.38 900.40,1588.39 901.40,1588.39" fill="none" stroke="#000" stroke-width="2.3" stroke-linejoin="round" stroke-linecap="round" clip-path="url(#ce)"/>
<rect x="248.40" y="1210.10" width="653.60" height="378.30" fill="none" stroke="#000" stroke-width="2.2"/>
<line x1="357.40" y1="1588.40" x2="357.40" y2="1580.90" stroke="#000" stroke-width="2"/>
<line x1="466.40" y1="1588.40" x2="466.40" y2="1580.90" stroke="#000" stroke-width="2"/>
<line x1="575.00" y1="1588.40" x2="575.00" y2="1580.90" stroke="#000" stroke-width="2"/>
<line x1="684.30" y1="1588.40" x2="684.30" y2="1580.90" stroke="#000" stroke-width="2"/>
<line x1="792.90" y1="1588.40" x2="792.90" y2="1580.90" stroke="#000" stroke-width="2"/>
<line x1="902.00" y1="1285.00" x2="895.20" y2="1285.00" stroke="#000" stroke-width="2"/>
<line x1="902.00" y1="1361.00" x2="895.20" y2="1361.00" stroke="#000" stroke-width="2"/>
<line x1="902.00" y1="1436.30" x2="895.20" y2="1436.30" stroke="#000" stroke-width="2"/>
<line x1="902.00" y1="1512.70" x2="895.20" y2="1512.70" stroke="#000" stroke-width="2"/>
<line x1="783.00" y1="1292.30" x2="877.00" y2="1286.90" stroke="#222" stroke-width="1.1"/>
<line x1="437.60" y1="1458.80" x2="522.40" y2="1446.80" stroke="#222" stroke-width="1.1"/>
<line x1="634.90" y1="1480.90" x2="711.00" y2="1488.80" stroke="#222" stroke-width="1.1"/>
<line x1="291.10" y1="1543.50" x2="389.30" y2="1551.00" stroke="#222" stroke-width="1.1"/>
<text class="sans" transform="matrix(0.2182 0 0 0.2629 770.61 1266.80)">Co2p 778eV</text>
<text class="sans" transform="matrix(0.2198 0 0 0.2686 442.90 1437.40)">Co2p 794eV</text>
<text class="sans" transform="matrix(0.2196 0 0 0.2543 602.80 1463.80)">Co2p 781eV</text>
<text class="sans" transform="matrix(0.2191 0 0 0.2629 259.60 1525.90)">Co2p 796eV</text>
<text class="serif" transform="matrix(0.2748 0 0 0.3348 257.90 1206.50)">Co2p Scan</text>
<text class="sans" transform="matrix(0.1911 0 0 0.2239 232.44 1627.98)">803</text>
<text class="sans" transform="matrix(0.1917 0 0 0.2239 341.27 1627.98)">798</text>
<text class="sans" transform="matrix(0.1917 0 0 0.2239 450.20 1627.98)">793</text>
<text class="sans" transform="matrix(0.1917 0 0 0.2239 559.13 1627.98)">788</text>
<text class="sans" transform="matrix(0.1917 0 0 0.2239 668.06 1627.98)">783</text>
<text class="sans" transform="matrix(0.1917 0 0 0.2239 776.99 1627.98)">778</text>
<text class="sans" transform="matrix(0.1917 0 0 0.2239 885.92 1627.98)">773</text>
<text class="sans" transform="matrix(0.1882 0 0 0.2197 920.49 1215.88)">1000</text>
<text class="sans" transform="matrix(0.1893 0 0 0.2197 921.05 1292.18)">800</text>
<text class="sans" transform="matrix(0.1899 0 0 0.2197 920.95 1367.28)">600</text>
<text class="sans" transform="matrix(0.1863 0 0 0.2197 921.53 1443.78)">400</text>
<text class="sans" transform="matrix(0.1899 0 0 0.2197 920.95 1520.08)">200</text>
<text class="sans" transform="matrix(0.1896 0 0 0.2197 921.14 1594.88)">0</text>
<text class="serif" transform="matrix(0.2294 0 0 0.2824 518.51 1659.73)">Binding Energy(eV)</text>
<text class="serif" transform="translate(980.97 1509.56) rotate(-90) scale(0.2734 0.2341)">Intensity(cps)</text>
<text class="cjk" transform="matrix(0.3544 0 0 0.3080 560.96 1720.08)">（</text>
<text class="serif" transform="matrix(0.3973 0 0 0.3812 598.81 1721.62)">e</text>
<text class="cjk" transform="matrix(0.3965 0 0 0.3080 618.12 1720.08)">）</text>
<clipPath id="cf"><rect x="228.0" y="1780.3" width="698.3" height="377.60000000000014"/></clipPath>
<polyline points="228.00,2157.90 229.00,2157.90 230.00,2157.89 231.00,2157.89 232.00,2157.89 233.00,2157.89 234.00,2157.89 235.00,2157.89 236.00,2157.89 237.00,2157.88 238.00,2157.88 239.00,2157.88 240.00,2157.87 241.00,2157.87 242.00,2157.87 243.00,2157.86 244.00,2157.85 245.00,2157.85 246.00,2157.84 247.00,2157.83 248.00,2157.82 249.00,2157.81 250.00,2157.79 251.00,2157.78 252.00,2157.76 253.00,2157.74 254.00,2157.72 255.00,2157.69 256.00,2157.66 257.00,2157.63 258.00,2157.60 259.00,2157.56 260.00,2157.51 261.00,2157.46 262.00,2157.41 263.00,2157.35 264.00,2157.28 265.00,2157.20 266.00,2157.12 267.00,2157.03 268.00,2156.93 269.00,2156.82 270.00,2156.70 271.00,2156.57 272.00,2156.42 273.00,2156.26 274.00,2156.09 275.00,2155.90 276.00,2155.69 277.00,2155.47 278.00,2155.23 279.00,2154.97 280.00,2154.69 281.00,2154.39 282.00,2154.06 283.00,2153.71 284.00,2153.33 285.00,2152.93 286.00,2152.50 287.00,2152.04 288.00,2151.56 289.00,2151.04 290.00,2150.49 291.00,2149.90 292.00,2149.29 293.00,2148.64 294.00,2147.95 295.00,2147.23 296.00,2146.47 297.00,2145.68 298.00,2144.84 299.00,2143.97 300.00,2143.07 301.00,2142.12 302.00,2141.13 303.00,2140.10 304.00,2139.03 305.00,2137.92 306.00,2136.77 307.00,2135.58 308.00,2134.35 309.00,2133.09 310.00,2131.79 311.00,2130.46 312.00,2129.10 313.00,2127.72 314.00,2126.30 315.00,2124.87 316.00,2123.41 317.00,2121.93 318.00,2120.44 319.00,2118.93 320.00,2117.41 321.00,2115.89 322.00,2114.35 323.00,2112.82 324.00,2111.28 325.00,2109.75 326.00,2108.22 327.00,2106.70 328.00,2105.20 329.00,2103.71 330.00,2102.23 331.00,2100.77 332.00,2099.33 333.00,2097.90 334.00,2096.50 335.00,2095.11 336.00,2093.73 337.00,2092.38 338.00,2091.04 339.00,2089.73 340.00,2088.45 341.00,2087.20 342.00,2085.97 343.00,2084.77 344.00,2083.58 345.00,2082.41 346.00,2081.24 347.00,2080.08 348.00,2078.90 349.00,2077.72 350.00,2076.55 351.00,2075.37 352.00,2074.19 353.00,2073.00 354.00,2071.81 355.00,2070.61 356.00,2069.40 357.00,2068.18 358.00,2066.94 359.00,2065.68 360.00,2064.39 361.00,2063.08 362.00,2061.73 363.00,2060.34 364.00,2058.90 365.00,2057.41 366.00,2055.86 367.00,2054.25 368.00,2052.56 369.00,2050.81 370.00,2049.00 371.00,2047.12 372.00,2045.19 373.00,2043.19 374.00,2041.14 375.00,2039.04 376.00,2036.90 377.00,2034.70 378.00,2032.47 379.00,2030.21 380.00,2027.93 381.00,2025.63 382.00,2023.31 383.00,2020.99 384.00,2018.67 385.00,2016.35 386.00,2014.06 387.00,2011.80 388.00,2009.59 389.00,2007.42 390.00,2005.31 391.00,2003.28 392.00,2001.33 393.00,1999.49 394.00,1997.77 395.00,1996.17 396.00,1994.70 397.00,1993.37 398.00,1992.19 399.00,1991.16 400.00,1990.30 401.00,1989.62 402.00,1989.12 403.00,1988.80 404.00,1988.66 405.00,1988.71 406.00,1988.94 407.00,1989.33 408.00,1989.87 409.00,1990.58 410.00,1991.46 411.00,1992.50 412.00,1993.70 413.00,1995.07 414.00,1996.59 415.00,1998.28 416.00,2000.12 417.00,2002.10 418.00,2004.24 419.00,2006.51 420.00,2008.91 421.00,2011.43 422.00,2014.08 423.00,2016.83 424.00,2019.69 425.00,2022.64 426.00,2025.66 427.00,2028.76 428.00,2031.93 429.00,2035.14 430.00,2038.41 431.00,2041.72 432.00,2045.06 433.00,2048.43 434.00,2051.81 435.00,2055.20 436.00,2058.60 437.00,2061.99 438.00,2065.36 439.00,2068.72 440.00,2072.06 441.00,2075.36 442.00,2078.62 443.00,2081.84 444.00,2085.02 445.00,2088.14 446.00,2091.20 447.00,2094.20 448.00,2097.13 449.00,2100.00 450.00,2102.79 451.00,2105.51 452.00,2108.15 453.00,2110.71 454.00,2113.19 455.00,2115.59 456.00,2117.90 457.00,2120.14 458.00,2122.29 459.00,2124.35 460.00,2126.33 461.00,2128.23 462.00,2130.05 463.00,2131.78 464.00,2133.44 465.00,2135.02 466.00,2136.52 467.00,2137.94 468.00,2139.29 469.00,2140.57 470.00,2141.78 471.00,2142.92 472.00,2144.00 473.00,2145.02 474.00,2145.97 475.00,2146.87 476.00,2147.71 477.00,2148.50 478.00,2149.24 479.00,2149.93 480.00,2150.57 481.00,2151.17 482.00,2151.72 483.00,2152.24 484.00,2152.72 485.00,2153.16 486.00,2153.58 487.00,2153.96 488.00,2154.31 489.00,2154.63 490.00,2154.93 491.00,2155.20 492.00,2155.46 493.00,2155.69 494.00,2155.90 495.00,2156.09 496.00,2156.27 497.00,2156.43 498.00,2156.57 499.00,2156.71 500.00,2156.83 501.00,2156.94 502.00,2157.04 503.00,2157.13 504.00,2157.21 505.00,2157.28 506.00,2157.35 507.00,2157.41 508.00,2157.46 509.00,2157.51 510.00,2157.56 511.00,2157.60 512.00,2157.63 513.00,2157.66 514.00,2157.69 515.00,2157.71 516.00,2157.74 517.00,2157.76 518.00,2157.77 519.00,2157.79 520.00,2157.80 521.00,2157.81 522.00,2157.82 523.00,2157.83 524.00,2157.84 525.00,2157.85 526.00,2157.86 527.00,2157.86 528.00,2157.87 529.00,2157.87 530.00,2157.88 531.00,2157.88 532.00,2157.88 533.00,2157.88 534.00,2157.89 535.00,2157.89 536.00,2157.89 537.00,2157.89 538.00,2157.89 539.00,2157.89 540.00,2157.89 541.00,2157.90 542.00,2157.90 543.00,2157.90 544.00,2157.90 545.00,2157.90 546.00,2157.90 547.00,2157.90 548.00,2157.90 549.00,2157.90 550.00,2157.90 551.00,2157.90 552.00,2157.90 553.00,2157.90 554.00,2157.90 555.00,2157.90 556.00,2157.90 557.00,2157.90 558.00,2157.90 559.00,2157.90 560.00,2157.90 561.00,2157.90 562.00,2157.90 563.00,2157.90 564.00,2157.90 565.00,2157.90 566.00,2157.90 567.00,2157.90 568.00,2157.90 569.00,2157.90 570.00,2157.90 571.00,2157.90 572.00,2157.90 573.00,2157.90 574.00,2157.90 575.00,2157.90 576.00,2157.90 577.00,2157.90 578.00,2157.90 579.00,2157.89 580.00,2157.89 581.00,2157.89 582.00,2157.89 583.00,2157.89 584.00,2157.89 585.00,2157.89 586.00,2157.88 587.00,2157.88 588.00,2157.88 589.00,2157.87 590.00,2157.87 591.00,2157.86 592.00,2157.85 593.00,2157.84 594.00,2157.83 595.00,2157.82 596.00,2157.81 597.00,2157.80 598.00,2157.78 599.00,2157.76 600.00,2157.74 601.00,2157.71 602.00,2157.68 603.00,2157.64 604.00,2157.60 605.00,2157.56 606.00,2157.51 607.00,2157.45 608.00,2157.39 609.00,2157.31 610.00,2157.23 611.00,2157.13 612.00,2157.03 613.00,2156.91 614.00,2156.77 615.00,2156.62 616.00,2156.46 617.00,2156.27 618.00,2156.06 619.00,2155.83 620.00,2155.58 621.00,2155.29 622.00,2154.98 623.00,2154.64 624.00,2154.26 625.00,2153.84 626.00,2153.39 627.00,2152.89 628.00,2152.34 629.00,2151.74 630.00,2151.10 631.00,2150.39 632.00,2149.63 633.00,2148.80 634.00,2147.91 635.00,2146.94 636.00,2145.91 637.00,2144.79 638.00,2143.60 639.00,2142.32 640.00,2140.95 641.00,2139.52 642.00,2138.03 643.00,2136.47 644.00,2134.84 645.00,2133.14 646.00,2131.37 647.00,2129.51 648.00,2127.58 649.00,2125.57 650.00,2123.48 651.00,2121.31 652.00,2119.06 653.00,2116.72 654.00,2114.28 655.00,2111.76 656.00,2109.15 657.00,2106.45 658.00,2103.67 659.00,2100.80 660.00,2097.82 661.00,2094.76 662.00,2091.60 663.00,2088.36 664.00,2085.05 665.00,2081.66 666.00,2078.18 667.00,2074.61 668.00,2070.96 669.00,2067.23 670.00,2063.41 671.00,2059.52 672.00,2055.56 673.00,2051.54 674.00,2047.48 675.00,2043.38 676.00,2039.24 677.00,2035.08 678.00,2030.92 679.00,2026.77 680.00,2022.64 681.00,2018.54 682.00,2014.46 683.00,2010.41 684.00,2006.42 685.00,2002.51 686.00,1998.68 687.00,1994.95 688.00,1991.32 689.00,1987.77 690.00,1984.31 691.00,1980.95 692.00,1977.67 693.00,1974.47 694.00,1971.36 695.00,1968.33 696.00,1965.36 697.00,1962.46 698.00,1959.64 699.00,1956.89 700.00,1954.22 701.00,1951.63 702.00,1949.11 703.00,1946.64 704.00,1944.22 705.00,1941.84 706.00,1939.51 707.00,1937.21 708.00,1934.94 709.00,1932.69 710.00,1930.45 711.00,1928.19 712.00,1925.91 713.00,1923.60 714.00,1921.26 715.00,1918.87 716.00,1916.42 717.00,1913.88 718.00,1911.27 719.00,1908.57 720.00,1905.78 721.00,1902.90 722.00,1899.91 723.00,1896.82 724.00,1893.62 725.00,1890.31 726.00,1886.91 727.00,1883.40 728.00,1879.81 729.00,1876.17 730.00,1872.49 731.00,1868.78 732.00,1865.05 733.00,1861.29 734.00,1857.53 735.00,1853.77 736.00,1850.04 737.00,1846.34 738.00,1842.69 739.00,1839.11 740.00,1835.62 741.00,1832.24 742.00,1828.99 743.00,1825.89 744.00,1822.94 745.00,1820.16 746.00,1817.56 747.00,1815.17 748.00,1813.00 749.00,1811.08 750.00,1809.40 751.00,1807.99 752.00,1806.86 753.00,1806.03 754.00,1805.46 755.00,1805.19 756.00,1805.22 757.00,1805.59 758.00,1806.34 759.00,1807.56 760.00,1809.20 761.00,1811.22 762.00,1813.58 763.00,1816.27 764.00,1819.28 765.00,1822.59 766.00,1826.19 767.00,1830.07 768.00,1834.21 769.00,1838.61 770.00,1843.26 771.00,1848.14 772.00,1853.24 773.00,1858.54 774.00,1864.03 775.00,1869.69 776.00,1875.52 777.00,1881.50 778.00,1887.61 779.00,1893.85 780.00,1900.19 781.00,1906.61 782.00,1913.12 783.00,1919.68 784.00,1926.28 785.00,1932.92 786.00,1939.58 787.00,1946.24 788.00,1952.89 789.00,1959.51 790.00,1966.11 791.00,1972.66 792.00,1979.15 793.00,1985.58 794.00,1991.93 795.00,1998.20 796.00,2004.37 797.00,2010.44 798.00,2016.40 799.00,2022.25 800.00,2027.97 801.00,2033.57 802.00,2039.03 803.00,2044.36 804.00,2049.55 805.00,2054.59 806.00,2059.49 807.00,2064.25 808.00,2068.85 809.00,2073.31 810.00,2077.61 811.00,2081.77 812.00,2085.77 813.00,2089.62 814.00,2093.33 815.00,2096.89 816.00,2100.31 817.00,2103.58 818.00,2106.71 819.00,2109.70 820.00,2112.56 821.00,2115.29 822.00,2117.89 823.00,2120.36 824.00,2122.71 825.00,2124.95 826.00,2127.07 827.00,2129.07 828.00,2130.97 829.00,2132.77 830.00,2134.47 831.00,2136.07 832.00,2137.58 833.00,2139.00 834.00,2140.34 835.00,2141.60 836.00,2142.78 837.00,2143.88 838.00,2144.92 839.00,2145.89 840.00,2146.80 841.00,2147.65 842.00,2148.44 843.00,2149.18 844.00,2149.86 845.00,2150.50 846.00,2151.10 847.00,2151.65 848.00,2152.16 849.00,2152.64 850.00,2153.07 851.00,2153.48 852.00,2153.86 853.00,2154.20 854.00,2154.52 855.00,2154.82 856.00,2155.09 857.00,2155.34 858.00,2155.57 859.00,2155.78 860.00,2155.97 861.00,2156.15 862.00,2156.31 863.00,2156.46 864.00,2156.60 865.00,2156.72 866.00,2156.83 867.00,2156.94 868.00,2157.03 869.00,2157.11 870.00,2157.19 871.00,2157.26 872.00,2157.33 873.00,2157.38 874.00,2157.44 875.00,2157.48 876.00,2157.53 877.00,2157.57 878.00,2157.60 879.00,2157.63 880.00,2157.66 881.00,2157.69 882.00,2157.71 883.00,2157.73 884.00,2157.75 885.00,2157.77 886.00,2157.78 887.00,2157.79 888.00,2157.81 889.00,2157.82 890.00,2157.83 891.00,2157.83 892.00,2157.84 893.00,2157.85 894.00,2157.85 895.00,2157.86 896.00,2157.86 897.00,2157.87 898.00,2157.87 899.00,2157.88 900.00,2157.88 901.00,2157.88 902.00,2157.88 903.00,2157.89 904.00,2157.89 905.00,2157.89 906.00,2157.89 907.00,2157.89 908.00,2157.89 909.00,2157.89 910.00,2157.89 911.00,2157.90 912.00,2157.90 913.00,2157.90 914.00,2157.90 915.00,2157.90 916.00,2157.90 917.00,2157.90 918.00,2157.90 919.00,2157.90 920.00,2157.90 921.00,2157.90 922.00,2157.90 923.00,2157.90 924.00,2157.90 925.00,2157.90 926.00,2157.90" fill="none" stroke="#000" stroke-width="2.3" stroke-linejoin="round" stroke-linecap="round" clip-path="url(#cf)"/>
<polyline points="228.00,2157.90 229.00,2157.90 230.00,2157.89 231.00,2157.89 232.00,2157.89 233.00,2157.89 234.00,2157.89 235.00,2157.89 236.00,2157.89 237.00,2157.88 238.00,2157.88 239.00,2157.88 240.00,2157.87 241.00,2157.87 242.00,2157.87 243.00,2157.86 244.00,2157.85 245.00,2157.85 246.00,2157.84 247.00,2157.83 248.00,2157.82 249.00,2157.81 250.00,2157.79 251.00,2157.78 252.00,2157.76 253.00,2157.74 254.00,2157.72 255.00,2157.69 256.00,2157.66 257.00,2157.63 258.00,2157.60 259.00,2157.56 260.00,2157.51 261.00,2157.46 262.00,2157.41 263.00,2157.35 264.00,2157.28 265.00,2157.20 266.00,2157.12 267.00,2157.03 268.00,2156.93 269.00,2156.82 270.00,2156.70 271.00,2156.57 272.00,2156.42 273.00,2156.26 274.00,2156.09 275.00,2155.90 276.00,2155.70 277.00,2155.47 278.00,2155.23 279.00,2154.97 280.00,2154.69 281.00,2154.39 282.00,2154.06 283.00,2153.72 284.00,2153.34 285.00,2152.94 286.00,2152.51 287.00,2152.05 288.00,2151.57 289.00,2151.05 290.00,2150.50 291.00,2149.92 292.00,2149.31 293.00,2148.66 294.00,2147.98 295.00,2147.26 296.00,2146.51 297.00,2145.72 298.00,2144.90 299.00,2144.04 300.00,2143.14 301.00,2142.21 302.00,2141.25 303.00,2140.25 304.00,2139.21 305.00,2138.14 306.00,2137.05 307.00,2135.92 308.00,2134.76 309.00,2133.58 310.00,2132.37 311.00,2131.14 312.00,2129.89 313.00,2128.62 314.00,2127.33 315.00,2126.04 316.00,2124.73 317.00,2123.42 318.00,2122.10 319.00,2120.79 320.00,2119.48 321.00,2118.18 322.00,2116.89 323.00,2115.62 324.00,2114.36 325.00,2113.13 326.00,2111.92 327.00,2110.75 328.00,2109.61 329.00,2108.50 330.00,2107.44 331.00,2106.42 332.00,2105.45 333.00,2104.53 334.00,2103.67 335.00,2102.86 336.00,2102.11 337.00,2101.42 338.00,2100.80 339.00,2100.24 340.00,2099.74 341.00,2099.32 342.00,2098.96 343.00,2098.67 344.00,2098.44 345.00,2098.29 346.00,2098.19 347.00,2098.16 348.00,2098.19 349.00,2098.28 350.00,2098.43 351.00,2098.65 352.00,2098.95 353.00,2099.31 354.00,2099.74 355.00,2100.24 356.00,2100.81 357.00,2101.45 358.00,2102.15 359.00,2102.91 360.00,2103.73 361.00,2104.61 362.00,2105.55 363.00,2106.54 364.00,2107.58 365.00,2108.66 366.00,2109.78 367.00,2110.94 368.00,2112.14 369.00,2113.37 370.00,2114.62 371.00,2115.90 372.00,2117.20 373.00,2118.51 374.00,2119.83 375.00,2121.16 376.00,2122.49 377.00,2123.82 378.00,2125.15 379.00,2126.47 380.00,2127.78 381.00,2129.07 382.00,2130.35 383.00,2131.61 384.00,2132.85 385.00,2134.07 386.00,2135.26 387.00,2136.42 388.00,2137.55 389.00,2138.65 390.00,2139.71 391.00,2140.74 392.00,2141.74 393.00,2142.70 394.00,2143.63 395.00,2144.51 396.00,2145.37 397.00,2146.18 398.00,2146.96 399.00,2147.70 400.00,2148.40 401.00,2149.07 402.00,2149.71 403.00,2150.31 404.00,2150.87 405.00,2151.41 406.00,2151.91 407.00,2152.38 408.00,2152.82 409.00,2153.24 410.00,2153.62 411.00,2153.98 412.00,2154.32 413.00,2154.63 414.00,2154.92 415.00,2155.19 416.00,2155.43 417.00,2155.66 418.00,2155.87 419.00,2156.07 420.00,2156.24 421.00,2156.41 422.00,2156.55 423.00,2156.69 424.00,2156.81 425.00,2156.93 426.00,2157.03 427.00,2157.12 428.00,2157.20 429.00,2157.28 430.00,2157.35 431.00,2157.41 432.00,2157.47 433.00,2157.52 434.00,2157.56 435.00,2157.60 436.00,2157.64 437.00,2157.67 438.00,2157.70 439.00,2157.72 440.00,2157.74 441.00,2157.76 442.00,2157.78 443.00,2157.80 444.00,2157.81 445.00,2157.82 446.00,2157.83 447.00,2157.84 448.00,2157.85 449.00,2157.86 450.00,2157.86 451.00,2157.87 452.00,2157.87 453.00,2157.88 454.00,2157.88 455.00,2157.88 456.00,2157.88 457.00,2157.89 458.00,2157.89 459.00,2157.89 460.00,2157.89 461.00,2157.89 462.00,2157.89 463.00,2157.90 464.00,2157.90 465.00,2157.90 466.00,2157.90 467.00,2157.90 468.00,2157.90 469.00,2157.90 470.00,2157.90 471.00,2157.90 472.00,2157.90 473.00,2157.90 474.00,2157.90 475.00,2157.90 476.00,2157.90 477.00,2157.90 478.00,2157.90 479.00,2157.90 480.00,2157.90 481.00,2157.90 482.00,2157.90 483.00,2157.90 484.00,2157.90 485.00,2157.90 486.00,2157.90 487.00,2157.90 488.00,2157.90 489.00,2157.90 490.00,2157.90 491.00,2157.90 492.00,2157.90 493.00,2157.90 494.00,2157.90 495.00,2157.90 496.00,2157.90 497.00,2157.90 498.00,2157.90 499.00,2157.90 500.00,2157.90 501.00,2157.90 502.00,2157.90 503.00,2157.90 504.00,2157.90 505.00,2157.90 506.00,2157.90 507.00,2157.90 508.00,2157.90 509.00,2157.90 510.00,2157.90 511.00,2157.90 512.00,2157.90 513.00,2157.90 514.00,2157.90 515.00,2157.90 516.00,2157.90 517.00,2157.90 518.00,2157.90 519.00,2157.90 520.00,2157.90 521.00,2157.90 522.00,2157.90 523.00,2157.90 524.00,2157.90 525.00,2157.90 526.00,2157.90 527.00,2157.90 528.00,2157.90 529.00,2157.90 530.00,2157.90 531.00,2157.90 532.00,2157.90 533.00,2157.90 534.00,2157.90 535.00,2157.90 536.00,2157.90 537.00,2157.90 538.00,2157.90 539.00,2157.90 540.00,2157.90 541.00,2157.90 542.00,2157.90 543.00,2157.90 544.00,2157.90 545.00,2157.90 546.00,2157.90 547.00,2157.90 548.00,2157.90 549.00,2157.90 550.00,2157.90 551.00,2157.90 552.00,2157.90 553.00,2157.90 554.00,2157.90 555.00,2157.90 556.00,2157.90 557.00,2157.90 558.00,2157.90 559.00,2157.90 560.00,2157.90 561.00,2157.90 562.00,2157.90 563.00,2157.90 564.00,2157.90 565.00,2157.90 566.00,2157.90 567.00,2157.90 568.00,2157.90 569.00,2157.90 570.00,2157.90 571.00,2157.90 572.00,2157.90 573.00,2157.90 574.00,2157.90 575.00,2157.90 576.00,2157.90 577.00,2157.90 578.00,2157.90 579.00,2157.90 580.00,2157.90 581.00,2157.90 582.00,2157.90 583.00,2157.90 584.00,2157.90 585.00,2157.90 586.00,2157.90 587.00,2157.90 588.00,2157.90 589.00,2157.90 590.00,2157.90 591.00,2157.90 592.00,2157.90 593.00,2157.90 594.00,2157.90 595.00,2157.90 596.00,2157.90 597.00,2157.90 598.00,2157.90 599.00,2157.90 600.00,2157.90 601.00,2157.90 602.00,2157.90 603.00,2157.90 604.00,2157.90 605.00,2157.90 606.00,2157.90 607.00,2157.90 608.00,2157.90 609.00,2157.90 610.00,2157.90 611.00,2157.90 612.00,2157.90 613.00,2157.90 614.00,2157.90 615.00,2157.90 616.00,2157.90 617.00,2157.90 618.00,2157.90 619.00,2157.90 620.00,2157.90 621.00,2157.90 622.00,2157.90 623.00,2157.90 624.00,2157.90 625.00,2157.90 626.00,2157.90 627.00,2157.90 628.00,2157.90 629.00,2157.90 630.00,2157.90 631.00,2157.90 632.00,2157.90 633.00,2157.90 634.00,2157.90 635.00,2157.90 636.00,2157.90 637.00,2157.90 638.00,2157.90 639.00,2157.90 640.00,2157.90 641.00,2157.90 642.00,2157.90 643.00,2157.90 644.00,2157.90 645.00,2157.90 646.00,2157.90 647.00,2157.90 648.00,2157.90 649.00,2157.90 650.00,2157.90 651.00,2157.90 652.00,2157.90 653.00,2157.90 654.00,2157.90 655.00,2157.90 656.00,2157.90 657.00,2157.90 658.00,2157.90 659.00,2157.90 660.00,2157.90 661.00,2157.90 662.00,2157.90 663.00,2157.90 664.00,2157.90 665.00,2157.90 666.00,2157.90 667.00,2157.90 668.00,2157.90 669.00,2157.90 670.00,2157.90 671.00,2157.90 672.00,2157.90 673.00,2157.90 674.00,2157.90 675.00,2157.90 676.00,2157.90 677.00,2157.90 678.00,2157.90 679.00,2157.90 680.00,2157.90 681.00,2157.90 682.00,2157.90 683.00,2157.90 684.00,2157.90 685.00,2157.90 686.00,2157.90 687.00,2157.90 688.00,2157.90 689.00,2157.90 690.00,2157.90 691.00,2157.90 692.00,2157.90 693.00,2157.90 694.00,2157.90 695.00,2157.90 696.00,2157.90 697.00,2157.90 698.00,2157.90 699.00,2157.90 700.00,2157.90 701.00,2157.90 702.00,2157.90 703.00,2157.90 704.00,2157.90 705.00,2157.90 706.00,2157.90 707.00,2157.90 708.00,2157.90 709.00,2157.90 710.00,2157.90 711.00,2157.90 712.00,2157.90 713.00,2157.90 714.00,2157.90 715.00,2157.90 716.00,2157.90 717.00,2157.90 718.00,2157.90 719.00,2157.90 720.00,2157.90 721.00,2157.90 722.00,2157.90 723.00,2157.90 724.00,2157.90 725.00,2157.90 726.00,2157.90 727.00,2157.90 728.00,2157.90 729.00,2157.90 730.00,2157.90 731.00,2157.90 732.00,2157.90 733.00,2157.90 734.00,2157.90 735.00,2157.90 736.00,2157.90 737.00,2157.90 738.00,2157.90 739.00,2157.90 740.00,2157.90 741.00,2157.90 742.00,2157.90 743.00,2157.90 744.00,2157.90 745.00,2157.90 746.00,2157.90 747.00,2157.90 748.00,2157.90 749.00,2157.90 750.00,2157.90 751.00,2157.90 752.00,2157.90 753.00,2157.90 754.00,2157.90 755.00,2157.90 756.00,2157.90 757.00,2157.90 758.00,2157.90 759.00,2157.90 760.00,2157.90 761.00,2157.90 762.00,2157.90 763.00,2157.90 764.00,2157.90 765.00,2157.90 766.00,2157.90 767.00,2157.90 768.00,2157.90 769.00,2157.90 770.00,2157.90 771.00,2157.90 772.00,2157.90 773.00,2157.90 774.00,2157.90 775.00,2157.90 776.00,2157.90 777.00,2157.90 778.00,2157.90 779.00,2157.90 780.00,2157.90 781.00,2157.90 782.00,2157.90 783.00,2157.90 784.00,2157.90 785.00,2157.90 786.00,2157.90 787.00,2157.90 788.00,2157.90 789.00,2157.90 790.00,2157.90 791.00,2157.90 792.00,2157.90 793.00,2157.90 794.00,2157.90 795.00,2157.90 796.00,2157.90 797.00,2157.90 798.00,2157.90 799.00,2157.90 800.00,2157.90 801.00,2157.90 802.00,2157.90 803.00,2157.90 804.00,2157.90 805.00,2157.90 806.00,2157.90 807.00,2157.90 808.00,2157.90 809.00,2157.90 810.00,2157.90 811.00,2157.90 812.00,2157.90 813.00,2157.90 814.00,2157.90 815.00,2157.90 816.00,2157.90 817.00,2157.90 818.00,2157.90 819.00,2157.90 820.00,2157.90 821.00,2157.90 822.00,2157.90 823.00,2157.90 824.00,2157.90 825.00,2157.90 826.00,2157.90 827.00,2157.90 828.00,2157.90 829.00,2157.90 830.00,2157.90 831.00,2157.90 832.00,2157.90 833.00,2157.90 834.00,2157.90 835.00,2157.90 836.00,2157.90 837.00,2157.90 838.00,2157.90 839.00,2157.90 840.00,2157.90 841.00,2157.90 842.00,2157.90 843.00,2157.90 844.00,2157.90 845.00,2157.90 846.00,2157.90 847.00,2157.90 848.00,2157.90 849.00,2157.90 850.00,2157.90 851.00,2157.90 852.00,2157.90 853.00,2157.90 854.00,2157.90 855.00,2157.90 856.00,2157.90 857.00,2157.90 858.00,2157.90 859.00,2157.90 860.00,2157.90 861.00,2157.90 862.00,2157.90 863.00,2157.90 864.00,2157.90 865.00,2157.90 866.00,2157.90 867.00,2157.90 868.00,2157.90 869.00,2157.90 870.00,2157.90 871.00,2157.90 872.00,2157.90 873.00,2157.90 874.00,2157.90 875.00,2157.90 876.00,2157.90 877.00,2157.90 878.00,2157.90 879.00,2157.90 880.00,2157.90 881.00,2157.90 882.00,2157.90 883.00,2157.90 884.00,2157.90 885.00,2157.90 886.00,2157.90 887.00,2157.90 888.00,2157.90 889.00,2157.90 890.00,2157.90 891.00,2157.90 892.00,2157.90 893.00,2157.90 894.00,2157.90 895.00,2157.90 896.00,2157.90 897.00,2157.90 898.00,2157.90 899.00,2157.90 900.00,2157.90 901.00,2157.90 902.00,2157.90 903.00,2157.90 904.00,2157.90 905.00,2157.90 906.00,2157.90 907.00,2157.90 908.00,2157.90 909.00,2157.90 910.00,2157.90 911.00,2157.90 912.00,2157.90 913.00,2157.90 914.00,2157.90 915.00,2157.90 916.00,2157.90 917.00,2157.90 918.00,2157.90 919.00,2157.90 920.00,2157.90 921.00,2157.90 922.00,2157.90 923.00,2157.90 924.00,2157.90 925.00,2157.90 926.00,2157.90" fill="none" stroke="#000" stroke-width="2.3" stroke-linejoin="round" stroke-linecap="round" clip-path="url(#cf)"/>
<polyline points="228.00,2157.90 229.00,2157.90 230.00,2157.90 231.00,2157.90 232.00,2157.90 233.00,2157.90 234.00,2157.90 235.00,2157.90 236.00,2157.90 237.00,2157.90 238.00,2157.90 239.00,2157.90 240.00,2157.90 241.00,2157.90 242.00,2157.90 243.00,2157.90 244.00,2157.90 245.00,2157.90 246.00,2157.90 247.00,2157.90 248.00,2157.90 249.00,2157.90 250.00,2157.90 251.00,2157.90 252.00,2157.90 253.00,2157.90 254.00,2157.90 255.00,2157.90 256.00,2157.90 257.00,2157.90 258.00,2157.90 259.00,2157.90 260.00,2157.90 261.00,2157.90 262.00,2157.90 263.00,2157.90 264.00,2157.90 265.00,2157.90 266.00,2157.90 267.00,2157.90 268.00,2157.90 269.00,2157.90 270.00,2157.90 271.00,2157.90 272.00,2157.90 273.00,2157.90 274.00,2157.90 275.00,2157.90 276.00,2157.90 277.00,2157.90 278.00,2157.90 279.00,2157.90 280.00,2157.90 281.00,2157.90 282.00,2157.90 283.00,2157.90 284.00,2157.89 285.00,2157.89 286.00,2157.89 287.00,2157.89 288.00,2157.89 289.00,2157.89 290.00,2157.88 291.00,2157.88 292.00,2157.88 293.00,2157.87 294.00,2157.87 295.00,2157.86 296.00,2157.86 297.00,2157.85 298.00,2157.84 299.00,2157.84 300.00,2157.83 301.00,2157.81 302.00,2157.80 303.00,2157.78 304.00,2157.77 305.00,2157.75 306.00,2157.72 307.00,2157.70 308.00,2157.67 309.00,2157.63 310.00,2157.60 311.00,2157.55 312.00,2157.51 313.00,2157.45 314.00,2157.39 315.00,2157.32 316.00,2157.24 317.00,2157.16 318.00,2157.06 319.00,2156.95 320.00,2156.83 321.00,2156.70 322.00,2156.55 323.00,2156.38 324.00,2156.20 325.00,2156.00 326.00,2155.77 327.00,2155.53 328.00,2155.25 329.00,2154.96 330.00,2154.63 331.00,2154.27 332.00,2153.88 333.00,2153.45 334.00,2152.98 335.00,2152.47 336.00,2151.92 337.00,2151.32 338.00,2150.67 339.00,2149.97 340.00,2149.21 341.00,2148.39 342.00,2147.51 343.00,2146.56 344.00,2145.55 345.00,2144.46 346.00,2143.30 347.00,2142.06 348.00,2140.74 349.00,2139.34 350.00,2137.85 351.00,2136.26 352.00,2134.59 353.00,2132.83 354.00,2130.96 355.00,2129.00 356.00,2126.94 357.00,2124.78 358.00,2122.52 359.00,2120.16 360.00,2117.69 361.00,2115.13 362.00,2112.46 363.00,2109.70 364.00,2106.83 365.00,2103.88 366.00,2100.83 367.00,2097.70 368.00,2094.48 369.00,2091.18 370.00,2087.81 371.00,2084.37 372.00,2080.87 373.00,2077.32 374.00,2073.72 375.00,2070.08 376.00,2066.41 377.00,2062.71 378.00,2059.01 379.00,2055.31 380.00,2051.61 381.00,2047.93 382.00,2044.28 383.00,2040.68 384.00,2037.12 385.00,2033.63 386.00,2030.21 387.00,2026.88 388.00,2023.65 389.00,2020.53 390.00,2017.53 391.00,2014.66 392.00,2011.92 393.00,2009.34 394.00,2006.92 395.00,2004.67 396.00,2002.60 397.00,2000.71 398.00,1999.02 399.00,1997.52 400.00,1996.23 401.00,1995.14 402.00,1994.27 403.00,1993.61 404.00,1993.16 405.00,1992.93 406.00,1992.91 407.00,1993.06 408.00,1993.39 409.00,1993.90 410.00,1994.58 411.00,1995.44 412.00,1996.47 413.00,1997.67 414.00,1999.04 415.00,2000.57 416.00,2002.26 417.00,2004.11 418.00,2006.10 419.00,2008.23 420.00,2010.50 421.00,2012.89 422.00,2015.41 423.00,2018.04 424.00,2020.78 425.00,2023.61 426.00,2026.54 427.00,2029.54 428.00,2032.62 429.00,2035.76 430.00,2038.96 431.00,2042.21 432.00,2045.50 433.00,2048.81 434.00,2052.15 435.00,2055.50 436.00,2058.86 437.00,2062.22 438.00,2065.57 439.00,2068.90 440.00,2072.21 441.00,2075.50 442.00,2078.74 443.00,2081.95 444.00,2085.11 445.00,2088.22 446.00,2091.27 447.00,2094.26 448.00,2097.18 449.00,2100.04 450.00,2102.83 451.00,2105.54 452.00,2108.18 453.00,2110.73 454.00,2113.21 455.00,2115.61 456.00,2117.92 457.00,2120.15 458.00,2122.30 459.00,2124.36 460.00,2126.34 461.00,2128.24 462.00,2130.05 463.00,2131.79 464.00,2133.44 465.00,2135.02 466.00,2136.52 467.00,2137.94 468.00,2139.29 469.00,2140.57 470.00,2141.78 471.00,2142.93 472.00,2144.00 473.00,2145.02 474.00,2145.97 475.00,2146.87 476.00,2147.71 477.00,2148.50 478.00,2149.24 479.00,2149.93 480.00,2150.57 481.00,2151.17 482.00,2151.72 483.00,2152.24 484.00,2152.72 485.00,2153.17 486.00,2153.58 487.00,2153.96 488.00,2154.31 489.00,2154.63 490.00,2154.93 491.00,2155.20 492.00,2155.46 493.00,2155.69 494.00,2155.90 495.00,2156.09 496.00,2156.27 497.00,2156.43 498.00,2156.57 499.00,2156.71 500.00,2156.83 501.00,2156.94 502.00,2157.04 503.00,2157.13 504.00,2157.21 505.00,2157.28 506.00,2157.35 507.00,2157.41 508.00,2157.46 509.00,2157.51 510.00,2157.56 511.00,2157.60 512.00,2157.63 513.00,2157.66 514.00,2157.69 515.00,2157.71 516.00,2157.74 517.00,2157.76 518.00,2157.77 519.00,2157.79 520.00,2157.80 521.00,2157.81 522.00,2157.82 523.00,2157.83 524.00,2157.84 525.00,2157.85 526.00,2157.86 527.00,2157.86 528.00,2157.87 529.00,2157.87 530.00,2157.88 531.00,2157.88 532.00,2157.88 533.00,2157.88 534.00,2157.89 535.00,2157.89 536.00,2157.89 537.00,2157.89 538.00,2157.89 539.00,2157.89 540.00,2157.89 541.00,2157.90 542.00,2157.90 543.00,2157.90 544.00,2157.90 545.00,2157.90 546.00,2157.90 547.00,2157.90 548.00,2157.90 549.00,2157.90 550.00,2157.90 551.00,2157.90 552.00,2157.90 553.00,2157.90 554.00,2157.90 555.00,2157.90 556.00,2157.90 557.00,2157.90 558.00,2157.90 559.00,2157.90 560.00,2157.90 561.00,2157.90 562.00,2157.90 563.00,2157.90 564.00,2157.90 565.00,2157.90 566.00,2157.90 567.00,2157.90 568.00,2157.90 569.00,2157.90 570.00,2157.90 571.00,2157.90 572.00,2157.90 573.00,2157.90 574.00,2157.90 575.00,2157.90 576.00,2157.90 577.00,2157.90 578.00,2157.90 579.00,2157.90 580.00,2157.90 581.00,2157.90 582.00,2157.90 583.00,2157.90 584.00,2157.90 585.00,2157.90 586.00,2157.90 587.00,2157.90 588.00,2157.90 589.00,2157.90 590.00,2157.90 591.00,2157.90 592.00,2157.90 593.00,2157.90 594.00,2157.90 595.00,2157.90 596.00,2157.90 597.00,2157.90 598.00,2157.90 599.00,2157.90 600.00,2157.90 601.00,2157.90 602.00,2157.90 603.00,2157.90 604.00,2157.90 605.00,2157.90 606.00,2157.90 607.00,2157.90 608.00,2157.90 609.00,2157.90 610.00,2157.90 611.00,2157.90 612.00,2157.90 613.00,2157.90 614.00,2157.90 615.00,2157.90 616.00,2157.90 617.00,2157.90 618.00,2157.90 619.00,2157.90 620.00,2157.90 621.00,2157.90 622.00,2157.90 623.00,2157.90 624.00,2157.90 625.00,2157.90 626.00,2157.90 627.00,2157.90 628.00,2157.90 629.00,2157.90 630.00,2157.90 631.00,2157.90 632.00,2157.90 633.00,2157.90 634.00,2157.90 635.00,2157.90 636.00,2157.90 637.00,2157.90 638.00,2157.90 639.00,2157.90 640.00,2157.90 641.00,2157.90 642.00,2157.90 643.00,2157.90 644.00,2157.90 645.00,2157.90 646.00,2157.90 647.00,2157.90 648.00,2157.90 649.00,2157.90 650.00,2157.90 651.00,2157.90 652.00,2157.90 653.00,2157.90 654.00,2157.90 655.00,2157.90 656.00,2157.90 657.00,2157.90 658.00,2157.90 659.00,2157.90 660.00,2157.90 661.00,2157.90 662.00,2157.90 663.00,2157.90 664.00,2157.90 665.00,2157.90 666.00,2157.90 667.00,2157.90 668.00,2157.90 669.00,2157.90 670.00,2157.90 671.00,2157.90 672.00,2157.90 673.00,2157.90 674.00,2157.90 675.00,2157.90 676.00,2157.90 677.00,2157.90 678.00,2157.90 679.00,2157.90 680.00,2157.90 681.00,2157.90 682.00,2157.90 683.00,2157.90 684.00,2157.90 685.00,2157.90 686.00,2157.90 687.00,2157.90 688.00,2157.90 689.00,2157.90 690.00,2157.90 691.00,2157.90 692.00,2157.90 693.00,2157.90 694.00,2157.90 695.00,2157.90 696.00,2157.90 697.00,2157.90 698.00,2157.90 699.00,2157.90 700.00,2157.90 701.00,2157.90 702.00,2157.90 703.00,2157.90 704.00,2157.90 705.00,2157.90 706.00,2157.90 707.00,2157.90 708.00,2157.90 709.00,2157.90 710.00,2157.90 711.00,2157.90 712.00,2157.90 713.00,2157.90 714.00,2157.90 715.00,2157.90 716.00,2157.90 717.00,2157.90 718.00,2157.90 719.00,2157.90 720.00,2157.90 721.00,2157.90 722.00,2157.90 723.00,2157.90 724.00,2157.90 725.00,2157.90 726.00,2157.90 727.00,2157.90 728.00,2157.90 729.00,2157.90 730.00,2157.90 731.00,2157.90 732.00,2157.90 733.00,2157.90 734.00,2157.90 735.00,2157.90 736.00,2157.90 737.00,2157.90 738.00,2157.90 739.00,2157.90 740.00,2157.90 741.00,2157.90 742.00,2157.90 743.00,2157.90 744.00,2157.90 745.00,2157.90 746.00,2157.90 747.00,2157.90 748.00,2157.90 749.00,2157.90 750.00,2157.90 751.00,2157.90 752.00,2157.90 753.00,2157.90 754.00,2157.90 755.00,2157.90 756.00,2157.90 757.00,2157.90 758.00,2157.90 759.00,2157.90 760.00,2157.90 761.00,2157.90 762.00,2157.90 763.00,2157.90 764.00,2157.90 765.00,2157.90 766.00,2157.90 767.00,2157.90 768.00,2157.90 769.00,2157.90 770.00,2157.90 771.00,2157.90 772.00,2157.90 773.00,2157.90 774.00,2157.90 775.00,2157.90 776.00,2157.90 777.00,2157.90 778.00,2157.90 779.00,2157.90 780.00,2157.90 781.00,2157.90 782.00,2157.90 783.00,2157.90 784.00,2157.90 785.00,2157.90 786.00,2157.90 787.00,2157.90 788.00,2157.90 789.00,2157.90 790.00,2157.90 791.00,2157.90 792.00,2157.90 793.00,2157.90 794.00,2157.90 795.00,2157.90 796.00,2157.90 797.00,2157.90 798.00,2157.90 799.00,2157.90 800.00,2157.90 801.00,2157.90 802.00,2157.90 803.00,2157.90 804.00,2157.90 805.00,2157.90 806.00,2157.90 807.00,2157.90 808.00,2157.90 809.00,2157.90 810.00,2157.90 811.00,2157.90 812.00,2157.90 813.00,2157.90 814.00,2157.90 815.00,2157.90 816.00,2157.90 817.00,2157.90 818.00,2157.90 819.00,2157.90 820.00,2157.90 821.00,2157.90 822.00,2157.90 823.00,2157.90 824.00,2157.90 825.00,2157.90 826.00,2157.90 827.00,2157.90 828.00,2157.90 829.00,2157.90 830.00,2157.90 831.00,2157.90 832.00,2157.90 833.00,2157.90 834.00,2157.90 835.00,2157.90 836.00,2157.90 837.00,2157.90 838.00,2157.90 839.00,2157.90 840.00,2157.90 841.00,2157.90 842.00,2157.90 843.00,2157.90 844.00,2157.90 845.00,2157.90 846.00,2157.90 847.00,2157.90 848.00,2157.90 849.00,2157.90 850.00,2157.90 851.00,2157.90 852.00,2157.90 853.00,2157.90 854.00,2157.90 855.00,2157.90 856.00,2157.90 857.00,2157.90 858.00,2157.90 859.00,2157.90 860.00,2157.90 861.00,2157.90 862.00,2157.90 863.00,2157.90 864.00,2157.90 865.00,2157.90 866.00,2157.90 867.00,2157.90 868.00,2157.90 869.00,2157.90 870.00,2157.90 871.00,2157.90 872.00,2157.90 873.00,2157.90 874.00,2157.90 875.00,2157.90 876.00,2157.90 877.00,2157.90 878.00,2157.90 879.00,2157.90 880.00,2157.90 881.00,2157.90 882.00,2157.90 883.00,2157.90 884.00,2157.90 885.00,2157.90 886.00,2157.90 887.00,2157.90 888.00,2157.90 889.00,2157.90 890.00,2157.90 891.00,2157.90 892.00,2157.90 893.00,2157.90 894.00,2157.90 895.00,2157.90 896.00,2157.90 897.00,2157.90 898.00,2157.90 899.00,2157.90 900.00,2157.90 901.00,2157.90 902.00,2157.90 903.00,2157.90 904.00,2157.90 905.00,2157.90 906.00,2157.90 907.00,2157.90 908.00,2157.90 909.00,2157.90 910.00,2157.90 911.00,2157.90 912.00,2157.90 913.00,2157.90 914.00,2157.90 915.00,2157.90 916.00,2157.90 917.00,2157.90 918.00,2157.90 919.00,2157.90 920.00,2157.90 921.00,2157.90 922.00,2157.90 923.00,2157.90 924.00,2157.90 925.00,2157.90 926.00,2157.90" fill="none" stroke="#000" stroke-width="2.3" stroke-linejoin="round" stroke-linecap="round" clip-path="url(#cf)"/>
<polyline points="228.00,2157.90 229.00,2157.90 230.00,2157.90 231.00,2157.90 232.00,2157.90 233.00,2157.90 234.00,2157.90 235.00,2157.90 236.00,2157.90 237.00,2157.90 238.00,2157.90 239.00,2157.90 240.00,2157.90 241.00,2157.90 242.00,2157.90 243.00,2157.90 244.00,2157.90 245.00,2157.90 246.00,2157.90 247.00,2157.90 248.00,2157.90 249.00,2157.90 250.00,2157.90 251.00,2157.90 252.00,2157.90 253.00,2157.90 254.00,2157.90 255.00,2157.90 256.00,2157.90 257.00,2157.90 258.00,2157.90 259.00,2157.90 260.00,2157.90 261.00,2157.90 262.00,2157.90 263.00,2157.90 264.00,2157.90 265.00,2157.90 266.00,2157.90 267.00,2157.90 268.00,2157.90 269.00,2157.90 270.00,2157.90 271.00,2157.90 272.00,2157.90 273.00,2157.90 274.00,2157.90 275.00,2157.90 276.00,2157.90 277.00,2157.90 278.00,2157.90 279.00,2157.90 280.00,2157.90 281.00,2157.90 282.00,2157.90 283.00,2157.90 284.00,2157.90 285.00,2157.90 286.00,2157.90 287.00,2157.90 288.00,2157.90 289.00,2157.90 290.00,2157.90 291.00,2157.90 292.00,2157.90 293.00,2157.90 294.00,2157.90 295.00,2157.90 296.00,2157.90 297.00,2157.90 298.00,2157.90 299.00,2157.90 300.00,2157.90 301.00,2157.90 302.00,2157.90 303.00,2157.90 304.00,2157.90 305.00,2157.90 306.00,2157.90 307.00,2157.90 308.00,2157.90 309.00,2157.90 310.00,2157.90 311.00,2157.90 312.00,2157.90 313.00,2157.90 314.00,2157.90 315.00,2157.90 316.00,2157.90 317.00,2157.90 318.00,2157.90 319.00,2157.90 320.00,2157.90 321.00,2157.90 322.00,2157.90 323.00,2157.90 324.00,2157.90 325.00,2157.90 326.00,2157.90 327.00,2157.90 328.00,2157.90 329.00,2157.90 330.00,2157.90 331.00,2157.90 332.00,2157.90 333.00,2157.90 334.00,2157.90 335.00,2157.90 336.00,2157.90 337.00,2157.90 338.00,2157.90 339.00,2157.90 340.00,2157.90 341.00,2157.90 342.00,2157.90 343.00,2157.90 344.00,2157.90 345.00,2157.90 346.00,2157.90 347.00,2157.90 348.00,2157.90 349.00,2157.90 350.00,2157.90 351.00,2157.90 352.00,2157.90 353.00,2157.90 354.00,2157.90 355.00,2157.90 356.00,2157.90 357.00,2157.90 358.00,2157.90 359.00,2157.90 360.00,2157.90 361.00,2157.90 362.00,2157.90 363.00,2157.90 364.00,2157.90 365.00,2157.90 366.00,2157.90 367.00,2157.90 368.00,2157.90 369.00,2157.90 370.00,2157.90 371.00,2157.90 372.00,2157.90 373.00,2157.90 374.00,2157.90 375.00,2157.90 376.00,2157.90 377.00,2157.90 378.00,2157.90 379.00,2157.90 380.00,2157.90 381.00,2157.90 382.00,2157.90 383.00,2157.90 384.00,2157.90 385.00,2157.90 386.00,2157.90 387.00,2157.90 388.00,2157.90 389.00,2157.90 390.00,2157.90 391.00,2157.90 392.00,2157.90 393.00,2157.90 394.00,2157.90 395.00,2157.90 396.00,2157.90 397.00,2157.90 398.00,2157.90 399.00,2157.90 400.00,2157.90 401.00,2157.90 402.00,2157.90 403.00,2157.90 404.00,2157.90 405.00,2157.90 406.00,2157.90 407.00,2157.90 408.00,2157.90 409.00,2157.90 410.00,2157.90 411.00,2157.90 412.00,2157.90 413.00,2157.90 414.00,2157.90 415.00,2157.90 416.00,2157.90 417.00,2157.90 418.00,2157.90 419.00,2157.90 420.00,2157.90 421.00,2157.90 422.00,2157.90 423.00,2157.90 424.00,2157.90 425.00,2157.90 426.00,2157.90 427.00,2157.90 428.00,2157.90 429.00,2157.90 430.00,2157.90 431.00,2157.90 432.00,2157.90 433.00,2157.90 434.00,2157.90 435.00,2157.90 436.00,2157.90 437.00,2157.90 438.00,2157.90 439.00,2157.90 440.00,2157.90 441.00,2157.90 442.00,2157.90 443.00,2157.90 444.00,2157.90 445.00,2157.90 446.00,2157.90 447.00,2157.90 448.00,2157.90 449.00,2157.90 450.00,2157.90 451.00,2157.90 452.00,2157.90 453.00,2157.90 454.00,2157.90 455.00,2157.90 456.00,2157.90 457.00,2157.90 458.00,2157.90 459.00,2157.90 460.00,2157.90 461.00,2157.90 462.00,2157.90 463.00,2157.90 464.00,2157.90 465.00,2157.90 466.00,2157.90 467.00,2157.90 468.00,2157.90 469.00,2157.90 470.00,2157.90 471.00,2157.90 472.00,2157.90 473.00,2157.90 474.00,2157.90 475.00,2157.90 476.00,2157.90 477.00,2157.90 478.00,2157.90 479.00,2157.90 480.00,2157.90 481.00,2157.90 482.00,2157.90 483.00,2157.90 484.00,2157.90 485.00,2157.90 486.00,2157.90 487.00,2157.90 488.00,2157.90 489.00,2157.90 490.00,2157.90 491.00,2157.90 492.00,2157.90 493.00,2157.90 494.00,2157.90 495.00,2157.90 496.00,2157.90 497.00,2157.90 498.00,2157.90 499.00,2157.90 500.00,2157.90 501.00,2157.90 502.00,2157.90 503.00,2157.90 504.00,2157.90 505.00,2157.90 506.00,2157.90 507.00,2157.90 508.00,2157.90 509.00,2157.90 510.00,2157.90 511.00,2157.90 512.00,2157.90 513.00,2157.90 514.00,2157.90 515.00,2157.90 516.00,2157.90 517.00,2157.90 518.00,2157.90 519.00,2157.90 520.00,2157.90 521.00,2157.90 522.00,2157.90 523.00,2157.90 524.00,2157.90 525.00,2157.90 526.00,2157.90 527.00,2157.90 528.00,2157.90 529.00,2157.90 530.00,2157.90 531.00,2157.90 532.00,2157.90 533.00,2157.90 534.00,2157.90 535.00,2157.90 536.00,2157.90 537.00,2157.90 538.00,2157.90 539.00,2157.90 540.00,2157.90 541.00,2157.90 542.00,2157.90 543.00,2157.90 544.00,2157.90 545.00,2157.90 546.00,2157.90 547.00,2157.90 548.00,2157.90 549.00,2157.90 550.00,2157.90 551.00,2157.90 552.00,2157.90 553.00,2157.90 554.00,2157.90 555.00,2157.90 556.00,2157.90 557.00,2157.90 558.00,2157.90 559.00,2157.90 560.00,2157.90 561.00,2157.90 562.00,2157.90 563.00,2157.90 564.00,2157.90 565.00,2157.90 566.00,2157.90 567.00,2157.90 568.00,2157.90 569.00,2157.90 570.00,2157.90 571.00,2157.90 572.00,2157.90 573.00,2157.90 574.00,2157.90 575.00,2157.90 576.00,2157.90 577.00,2157.90 578.00,2157.90 579.00,2157.90 580.00,2157.89 581.00,2157.89 582.00,2157.89 583.00,2157.89 584.00,2157.89 585.00,2157.89 586.00,2157.88 587.00,2157.88 588.00,2157.88 589.00,2157.87 590.00,2157.87 591.00,2157.86 592.00,2157.85 593.00,2157.85 594.00,2157.84 595.00,2157.83 596.00,2157.81 597.00,2157.80 598.00,2157.78 599.00,2157.76 600.00,2157.74 601.00,2157.72 602.00,2157.69 603.00,2157.65 604.00,2157.61 605.00,2157.57 606.00,2157.52 607.00,2157.47 608.00,2157.40 609.00,2157.33 610.00,2157.25 611.00,2157.16 612.00,2157.05 613.00,2156.94 614.00,2156.81 615.00,2156.66 616.00,2156.50 617.00,2156.32 618.00,2156.12 619.00,2155.89 620.00,2155.65 621.00,2155.37 622.00,2155.07 623.00,2154.74 624.00,2154.37 625.00,2153.97 626.00,2153.52 627.00,2153.04 628.00,2152.51 629.00,2151.94 630.00,2151.31 631.00,2150.63 632.00,2149.89 633.00,2149.10 634.00,2148.24 635.00,2147.31 636.00,2146.31 637.00,2145.24 638.00,2144.10 639.00,2142.87 640.00,2141.56 641.00,2140.17 642.00,2138.69 643.00,2137.12 644.00,2135.46 645.00,2133.71 646.00,2131.86 647.00,2129.91 648.00,2127.87 649.00,2125.73 650.00,2123.50 651.00,2121.16 652.00,2118.73 653.00,2116.21 654.00,2113.60 655.00,2110.89 656.00,2108.11 657.00,2105.24 658.00,2102.29 659.00,2099.27 660.00,2096.18 661.00,2093.03 662.00,2089.83 663.00,2086.58 664.00,2083.29 665.00,2079.98 666.00,2076.64 667.00,2073.29 668.00,2069.93 669.00,2066.59 670.00,2063.26 671.00,2059.96 672.00,2056.70 673.00,2053.49 674.00,2050.34 675.00,2047.26 676.00,2044.26 677.00,2041.36 678.00,2038.56 679.00,2035.87 680.00,2033.31 681.00,2030.87 682.00,2028.58 683.00,2026.44 684.00,2024.45 685.00,2022.63 686.00,2020.97 687.00,2019.49 688.00,2018.19 689.00,2017.07 690.00,2016.13 691.00,2015.37 692.00,2014.80 693.00,2014.40 694.00,2014.19 695.00,2014.13 696.00,2014.22 697.00,2014.47 698.00,2014.89 699.00,2015.47 700.00,2016.24 701.00,2017.17 702.00,2018.28 703.00,2019.56 704.00,2021.01 705.00,2022.62 706.00,2024.39 707.00,2026.32 708.00,2028.39 709.00,2030.61 710.00,2032.96 711.00,2035.43 712.00,2038.03 713.00,2040.73 714.00,2043.53 715.00,2046.43 716.00,2049.40 717.00,2052.44 718.00,2055.55 719.00,2058.71 720.00,2061.90 721.00,2065.13 722.00,2068.38 723.00,2071.64 724.00,2074.91 725.00,2078.16 726.00,2081.40 727.00,2084.62 728.00,2087.81 729.00,2090.95 730.00,2094.05 731.00,2097.10 732.00,2100.08 733.00,2103.00 734.00,2105.86 735.00,2108.63 736.00,2111.33 737.00,2113.95 738.00,2116.49 739.00,2118.93 740.00,2121.29 741.00,2123.55 742.00,2125.73 743.00,2127.81 744.00,2129.80 745.00,2131.70 746.00,2133.51 747.00,2135.23 748.00,2136.86 749.00,2138.40 750.00,2139.86 751.00,2141.23 752.00,2142.53 753.00,2143.74 754.00,2144.88 755.00,2145.95 756.00,2146.94 757.00,2147.87 758.00,2148.73 759.00,2149.54 760.00,2150.28 761.00,2150.97 762.00,2151.61 763.00,2152.19 764.00,2152.73 765.00,2153.23 766.00,2153.68 767.00,2154.10 768.00,2154.48 769.00,2154.83 770.00,2155.15 771.00,2155.44 772.00,2155.70 773.00,2155.93 774.00,2156.15 775.00,2156.34 776.00,2156.51 777.00,2156.67 778.00,2156.81 779.00,2156.94 780.00,2157.05 781.00,2157.15 782.00,2157.24 783.00,2157.32 784.00,2157.39 785.00,2157.46 786.00,2157.51 787.00,2157.56 788.00,2157.60 789.00,2157.64 790.00,2157.68 791.00,2157.71 792.00,2157.73 793.00,2157.76 794.00,2157.78 795.00,2157.79 796.00,2157.81 797.00,2157.82 798.00,2157.83 799.00,2157.84 800.00,2157.85 801.00,2157.86 802.00,2157.86 803.00,2157.87 804.00,2157.87 805.00,2157.88 806.00,2157.88 807.00,2157.88 808.00,2157.89 809.00,2157.89 810.00,2157.89 811.00,2157.89 812.00,2157.89 813.00,2157.89 814.00,2157.90 815.00,2157.90 816.00,2157.90 817.00,2157.90 818.00,2157.90 819.00,2157.90 820.00,2157.90 821.00,2157.90 822.00,2157.90 823.00,2157.90 824.00,2157.90 825.00,2157.90 826.00,2157.90 827.00,2157.90 828.00,2157.90 829.00,2157.90 830.00,2157.90 831.00,2157.90 832.00,2157.90 833.00,2157.90 834.00,2157.90 835.00,2157.90 836.00,2157.90 837.00,2157.90 838.00,2157.90 839.00,2157.90 840.00,2157.90 841.00,2157.90 842.00,2157.90 843.00,2157.90 844.00,2157.90 845.00,2157.90 846.00,2157.90 847.00,2157.90 848.00,2157.90 849.00,2157.90 850.00,2157.90 851.00,2157.90 852.00,2157.90 853.00,2157.90 854.00,2157.90 855.00,2157.90 856.00,2157.90 857.00,2157.90 858.00,2157.90 859.00,2157.90 860.00,2157.90 861.00,2157.90 862.00,2157.90 863.00,2157.90 864.00,2157.90 865.00,2157.90 866.00,2157.90 867.00,2157.90 868.00,2157.90 869.00,2157.90 870.00,2157.90 871.00,2157.90 872.00,2157.90 873.00,2157.90 874.00,2157.90 875.00,2157.90 876.00,2157.90 877.00,2157.90 878.00,2157.90 879.00,2157.90 880.00,2157.90 881.00,2157.90 882.00,2157.90 883.00,2157.90 884.00,2157.90 885.00,2157.90 886.00,2157.90 887.00,2157.90 888.00,2157.90 889.00,2157.90 890.00,2157.90 891.00,2157.90 892.00,2157.90 893.00,2157.90 894.00,2157.90 895.00,2157.90 896.00,2157.90 897.00,2157.90 898.00,2157.90 899.00,2157.90 900.00,2157.90 901.00,2157.90 902.00,2157.90 903.00,2157.90 904.00,2157.90 905.00,2157.90 906.00,2157.90 907.00,2157.90 908.00,2157.90 909.00,2157.90 910.00,2157.90 911.00,2157.90 912.00,2157.90 913.00,2157.90 914.00,2157.90 915.00,2157.90 916.00,2157.90 917.00,2157.90 918.00,2157.90 919.00,2157.90 920.00,2157.90 921.00,2157.90 922.00,2157.90 923.00,2157.90 924.00,2157.90 925.00,2157.90 926.00,2157.90" fill="none" stroke="#000" stroke-width="2.3" stroke-linejoin="round" stroke-linecap="round" clip-path="url(#cf)"/>
<polyline points="228.00,2157.90 229.00,2157.90 230.00,2157.90 231.00,2157.90 232.00,2157.90 233.00,2157.90 234.00,2157.90 235.00,2157.90 236.00,2157.90 237.00,2157.90 238.00,2157.90 239.00,2157.90 240.00,2157.90 241.00,2157.90 242.00,2157.90 243.00,2157.90 244.00,2157.90 245.00,2157.90 246.00,2157.90 247.00,2157.90 248.00,2157.90 249.00,2157.90 250.00,2157.90 251.00,2157.90 252.00,2157.90 253.00,2157.90 254.00,2157.90 255.00,2157.90 256.00,2157.90 257.00,2157.90 258.00,2157.90 259.00,2157.90 260.00,2157.90 261.00,2157.90 262.00,2157.90 263.00,2157.90 264.00,2157.90 265.00,2157.90 266.00,2157.90 267.00,2157.90 268.00,2157.90 269.00,2157.90 270.00,2157.90 271.00,2157.90 272.00,2157.90 273.00,2157.90 274.00,2157.90 275.00,2157.90 276.00,2157.90 277.00,2157.90 278.00,2157.90 279.00,2157.90 280.00,2157.90 281.00,2157.90 282.00,2157.90 283.00,2157.90 284.00,2157.90 285.00,2157.90 286.00,2157.90 287.00,2157.90 288.00,2157.90 289.00,2157.90 290.00,2157.90 291.00,2157.90 292.00,2157.90 293.00,2157.90 294.00,2157.90 295.00,2157.90 296.00,2157.90 297.00,2157.90 298.00,2157.90 299.00,2157.90 300.00,2157.90 301.00,2157.90 302.00,2157.90 303.00,2157.90 304.00,2157.90 305.00,2157.90 306.00,2157.90 307.00,2157.90 308.00,2157.90 309.00,2157.90 310.00,2157.90 311.00,2157.90 312.00,2157.90 313.00,2157.90 314.00,2157.90 315.00,2157.90 316.00,2157.90 317.00,2157.90 318.00,2157.90 319.00,2157.90 320.00,2157.90 321.00,2157.90 322.00,2157.90 323.00,2157.90 324.00,2157.90 325.00,2157.90 326.00,2157.90 327.00,2157.90 328.00,2157.90 329.00,2157.90 330.00,2157.90 331.00,2157.90 332.00,2157.90 333.00,2157.90 334.00,2157.90 335.00,2157.90 336.00,2157.90 337.00,2157.90 338.00,2157.90 339.00,2157.90 340.00,2157.90 341.00,2157.90 342.00,2157.90 343.00,2157.90 344.00,2157.90 345.00,2157.90 346.00,2157.90 347.00,2157.90 348.00,2157.90 349.00,2157.90 350.00,2157.90 351.00,2157.90 352.00,2157.90 353.00,2157.90 354.00,2157.90 355.00,2157.90 356.00,2157.90 357.00,2157.90 358.00,2157.90 359.00,2157.90 360.00,2157.90 361.00,2157.90 362.00,2157.90 363.00,2157.90 364.00,2157.90 365.00,2157.90 366.00,2157.90 367.00,2157.90 368.00,2157.90 369.00,2157.90 370.00,2157.90 371.00,2157.90 372.00,2157.90 373.00,2157.90 374.00,2157.90 375.00,2157.90 376.00,2157.90 377.00,2157.90 378.00,2157.90 379.00,2157.90 380.00,2157.90 381.00,2157.90 382.00,2157.90 383.00,2157.90 384.00,2157.90 385.00,2157.90 386.00,2157.90 387.00,2157.90 388.00,2157.90 389.00,2157.90 390.00,2157.90 391.00,2157.90 392.00,2157.90 393.00,2157.90 394.00,2157.90 395.00,2157.90 396.00,2157.90 397.00,2157.90 398.00,2157.90 399.00,2157.90 400.00,2157.90 401.00,2157.90 402.00,2157.90 403.00,2157.90 404.00,2157.90 405.00,2157.90 406.00,2157.90 407.00,2157.90 408.00,2157.90 409.00,2157.90 410.00,2157.90 411.00,2157.90 412.00,2157.90 413.00,2157.90 414.00,2157.90 415.00,2157.90 416.00,2157.90 417.00,2157.90 418.00,2157.90 419.00,2157.90 420.00,2157.90 421.00,2157.90 422.00,2157.90 423.00,2157.90 424.00,2157.90 425.00,2157.90 426.00,2157.90 427.00,2157.90 428.00,2157.90 429.00,2157.90 430.00,2157.90 431.00,2157.90 432.00,2157.90 433.00,2157.90 434.00,2157.90 435.00,2157.90 436.00,2157.90 437.00,2157.90 438.00,2157.90 439.00,2157.90 440.00,2157.90 441.00,2157.90 442.00,2157.90 443.00,2157.90 444.00,2157.90 445.00,2157.90 446.00,2157.90 447.00,2157.90 448.00,2157.90 449.00,2157.90 450.00,2157.90 451.00,2157.90 452.00,2157.90 453.00,2157.90 454.00,2157.90 455.00,2157.90 456.00,2157.90 457.00,2157.90 458.00,2157.90 459.00,2157.90 460.00,2157.90 461.00,2157.90 462.00,2157.90 463.00,2157.90 464.00,2157.90 465.00,2157.90 466.00,2157.90 467.00,2157.90 468.00,2157.90 469.00,2157.90 470.00,2157.90 471.00,2157.90 472.00,2157.90 473.00,2157.90 474.00,2157.90 475.00,2157.90 476.00,2157.90 477.00,2157.90 478.00,2157.90 479.00,2157.90 480.00,2157.90 481.00,2157.90 482.00,2157.90 483.00,2157.90 484.00,2157.90 485.00,2157.90 486.00,2157.90 487.00,2157.90 488.00,2157.90 489.00,2157.90 490.00,2157.90 491.00,2157.90 492.00,2157.90 493.00,2157.90 494.00,2157.90 495.00,2157.90 496.00,2157.90 497.00,2157.90 498.00,2157.90 499.00,2157.90 500.00,2157.90 501.00,2157.90 502.00,2157.90 503.00,2157.90 504.00,2157.90 505.00,2157.90 506.00,2157.90 507.00,2157.90 508.00,2157.90 509.00,2157.90 510.00,2157.90 511.00,2157.90 512.00,2157.90 513.00,2157.90 514.00,2157.90 515.00,2157.90 516.00,2157.90 517.00,2157.90 518.00,2157.90 519.00,2157.90 520.00,2157.90 521.00,2157.90 522.00,2157.90 523.00,2157.90 524.00,2157.90 525.00,2157.90 526.00,2157.90 527.00,2157.90 528.00,2157.90 529.00,2157.90 530.00,2157.90 531.00,2157.90 532.00,2157.90 533.00,2157.90 534.00,2157.90 535.00,2157.90 536.00,2157.90 537.00,2157.90 538.00,2157.90 539.00,2157.90 540.00,2157.90 541.00,2157.90 542.00,2157.90 543.00,2157.90 544.00,2157.90 545.00,2157.90 546.00,2157.90 547.00,2157.90 548.00,2157.90 549.00,2157.90 550.00,2157.90 551.00,2157.90 552.00,2157.90 553.00,2157.90 554.00,2157.90 555.00,2157.90 556.00,2157.90 557.00,2157.90 558.00,2157.90 559.00,2157.90 560.00,2157.90 561.00,2157.90 562.00,2157.90 563.00,2157.90 564.00,2157.90 565.00,2157.90 566.00,2157.90 567.00,2157.90 568.00,2157.90 569.00,2157.90 570.00,2157.90 571.00,2157.90 572.00,2157.90 573.00,2157.90 574.00,2157.90 575.00,2157.90 576.00,2157.90 577.00,2157.90 578.00,2157.90 579.00,2157.90 580.00,2157.90 581.00,2157.90 582.00,2157.90 583.00,2157.90 584.00,2157.90 585.00,2157.90 586.00,2157.90 587.00,2157.90 588.00,2157.90 589.00,2157.90 590.00,2157.90 591.00,2157.90 592.00,2157.90 593.00,2157.90 594.00,2157.90 595.00,2157.90 596.00,2157.90 597.00,2157.90 598.00,2157.90 599.00,2157.89 600.00,2157.89 601.00,2157.89 602.00,2157.89 603.00,2157.89 604.00,2157.89 605.00,2157.89 606.00,2157.89 607.00,2157.89 608.00,2157.88 609.00,2157.88 610.00,2157.88 611.00,2157.88 612.00,2157.87 613.00,2157.87 614.00,2157.87 615.00,2157.86 616.00,2157.86 617.00,2157.85 618.00,2157.85 619.00,2157.84 620.00,2157.83 621.00,2157.82 622.00,2157.81 623.00,2157.80 624.00,2157.79 625.00,2157.78 626.00,2157.76 627.00,2157.75 628.00,2157.73 629.00,2157.71 630.00,2157.69 631.00,2157.66 632.00,2157.63 633.00,2157.60 634.00,2157.57 635.00,2157.53 636.00,2157.49 637.00,2157.45 638.00,2157.40 639.00,2157.35 640.00,2157.29 641.00,2157.22 642.00,2157.15 643.00,2157.07 644.00,2156.99 645.00,2156.90 646.00,2156.79 647.00,2156.68 648.00,2156.56 649.00,2156.43 650.00,2156.28 651.00,2156.12 652.00,2155.95 653.00,2155.76 654.00,2155.56 655.00,2155.34 656.00,2155.10 657.00,2154.84 658.00,2154.56 659.00,2154.25 660.00,2153.93 661.00,2153.57 662.00,2153.19 663.00,2152.78 664.00,2152.33 665.00,2151.86 666.00,2151.34 667.00,2150.79 668.00,2150.20 669.00,2149.56 670.00,2148.88 671.00,2148.16 672.00,2147.38 673.00,2146.55 674.00,2145.66 675.00,2144.71 676.00,2143.71 677.00,2142.63 678.00,2141.49 679.00,2140.28 680.00,2139.00 681.00,2137.63 682.00,2136.19 683.00,2134.66 684.00,2133.04 685.00,2131.33 686.00,2129.53 687.00,2127.63 688.00,2125.63 689.00,2123.52 690.00,2121.31 691.00,2118.98 692.00,2116.55 693.00,2113.99 694.00,2111.31 695.00,2108.51 696.00,2105.59 697.00,2102.54 698.00,2099.36 699.00,2096.04 700.00,2092.59 701.00,2089.01 702.00,2085.29 703.00,2081.43 704.00,2077.44 705.00,2073.31 706.00,2069.03 707.00,2064.63 708.00,2060.08 709.00,2055.40 710.00,2050.58 711.00,2045.64 712.00,2040.56 713.00,2035.36 714.00,2030.03 715.00,2024.59 716.00,2019.04 717.00,2013.38 718.00,2007.61 719.00,2001.75 720.00,1995.80 721.00,1989.78 722.00,1983.67 723.00,1977.51 724.00,1971.28 725.00,1965.01 726.00,1958.71 727.00,1952.38 728.00,1946.04 729.00,1939.69 730.00,1933.36 731.00,1927.05 732.00,1920.77 733.00,1914.54 734.00,1908.38 735.00,1902.29 736.00,1896.29 737.00,1890.40 738.00,1884.62 739.00,1878.98 740.00,1873.49 741.00,1868.16 742.00,1863.02 743.00,1858.06 744.00,1853.31 745.00,1848.79 746.00,1844.51 747.00,1840.47 748.00,1836.70 749.00,1833.22 750.00,1830.02 751.00,1827.14 752.00,1824.57 753.00,1822.34 754.00,1820.46 755.00,1818.95 756.00,1817.82 757.00,1817.08 758.00,1816.79 759.00,1817.04 760.00,1817.78 761.00,1818.95 762.00,1820.53 763.00,1822.52 764.00,1824.87 765.00,1827.59 766.00,1830.66 767.00,1834.06 768.00,1837.77 769.00,1841.79 770.00,1846.08 771.00,1850.65 772.00,1855.46 773.00,1860.51 774.00,1865.78 775.00,1871.25 776.00,1876.91 777.00,1882.73 778.00,1888.70 779.00,1894.81 780.00,1901.04 781.00,1907.36 782.00,1913.77 783.00,1920.26 784.00,1926.79 785.00,1933.37 786.00,1939.97 787.00,1946.57 788.00,1953.18 789.00,1959.77 790.00,1966.33 791.00,1972.85 792.00,1979.32 793.00,1985.72 794.00,1992.06 795.00,1998.30 796.00,2004.46 797.00,2010.52 798.00,2016.47 799.00,2022.30 800.00,2028.02 801.00,2033.61 802.00,2039.07 803.00,2044.39 804.00,2049.57 805.00,2054.62 806.00,2059.51 807.00,2064.26 808.00,2068.87 809.00,2073.32 810.00,2077.62 811.00,2081.77 812.00,2085.78 813.00,2089.63 814.00,2093.33 815.00,2096.89 816.00,2100.31 817.00,2103.58 818.00,2106.71 819.00,2109.71 820.00,2112.56 821.00,2115.29 822.00,2117.89 823.00,2120.36 824.00,2122.71 825.00,2124.95 826.00,2127.07 827.00,2129.07 828.00,2130.97 829.00,2132.77 830.00,2134.47 831.00,2136.07 832.00,2137.58 833.00,2139.00 834.00,2140.34 835.00,2141.60 836.00,2142.78 837.00,2143.88 838.00,2144.92 839.00,2145.89 840.00,2146.80 841.00,2147.65 842.00,2148.44 843.00,2149.18 844.00,2149.86 845.00,2150.50 846.00,2151.10 847.00,2151.65 848.00,2152.16 849.00,2152.64 850.00,2153.07 851.00,2153.48 852.00,2153.86 853.00,2154.20 854.00,2154.52 855.00,2154.82 856.00,2155.09 857.00,2155.34 858.00,2155.57 859.00,2155.78 860.00,2155.97 861.00,2156.15 862.00,2156.31 863.00,2156.46 864.00,2156.60 865.00,2156.72 866.00,2156.83 867.00,2156.94 868.00,2157.03 869.00,2157.11 870.00,2157.19 871.00,2157.26 872.00,2157.33 873.00,2157.38 874.00,2157.44 875.00,2157.48 876.00,2157.53 877.00,2157.57 878.00,2157.60 879.00,2157.63 880.00,2157.66 881.00,2157.69 882.00,2157.71 883.00,2157.73 884.00,2157.75 885.00,2157.77 886.00,2157.78 887.00,2157.79 888.00,2157.81 889.00,2157.82 890.00,2157.83 891.00,2157.83 892.00,2157.84 893.00,2157.85 894.00,2157.85 895.00,2157.86 896.00,2157.86 897.00,2157.87 898.00,2157.87 899.00,2157.88 900.00,2157.88 901.00,2157.88 902.00,2157.88 903.00,2157.89 904.00,2157.89 905.00,2157.89 906.00,2157.89 907.00,2157.89 908.00,2157.89 909.00,2157.89 910.00,2157.89 911.00,2157.90 912.00,2157.90 913.00,2157.90 914.00,2157.90 915.00,2157.90 916.00,2157.90 917.00,2157.90 918.00,2157.90 919.00,2157.90 920.00,2157.90 921.00,2157.90 922.00,2157.90 923.00,2157.90 924.00,2157.90 925.00,2157.90 926.00,2157.90" fill="none" stroke="#000" stroke-width="2.3" stroke-linejoin="round" stroke-linecap="round" clip-path="url(#cf)"/>
<rect x="228.00" y="1780.30" width="698.30" height="377.60" fill="none" stroke="#000" stroke-width="2.2"/>
<line x1="271.20" y1="2157.90" x2="271.20" y2="2150.40" stroke="#000" stroke-width="2"/>
<line x1="380.40" y1="2157.90" x2="380.40" y2="2150.40" stroke="#000" stroke-width="2"/>
<line x1="489.80" y1="2157.90" x2="489.80" y2="2150.40" stroke="#000" stroke-width="2"/>
<line x1="599.40" y1="2157.90" x2="599.40" y2="2150.40" stroke="#000" stroke-width="2"/>
<line x1="708.30" y1="2157.90" x2="708.30" y2="2150.40" stroke="#000" stroke-width="2"/>
<line x1="817.60" y1="2157.90" x2="817.60" y2="2150.40" stroke="#000" stroke-width="2"/>
<line x1="926.30" y1="1875.00" x2="918.80" y2="1875.00" stroke="#000" stroke-width="2"/>
<line x1="926.30" y1="1969.40" x2="918.80" y2="1969.40" stroke="#000" stroke-width="2"/>
<line x1="926.30" y1="2063.40" x2="918.80" y2="2063.40" stroke="#000" stroke-width="2"/>
<line x1="764.20" y1="1819.00" x2="833.40" y2="1826.10" stroke="#222" stroke-width="1.1"/>
<line x1="415.30" y1="1993.60" x2="485.50" y2="2001.00" stroke="#222" stroke-width="1.1"/>
<line x1="604.50" y1="2004.90" x2="693.90" y2="2015.10" stroke="#222" stroke-width="1.1"/>
<line x1="266.80" y1="2091.00" x2="339.30" y2="2098.60" stroke="#222" stroke-width="1.1"/>
<text class="sans" transform="matrix(0.2220 0 0 0.2557 777.59 1806.90)">Co2p 780eV</text>
<text class="sans" transform="matrix(0.2245 0 0 0.2629 421.78 1980.10)">Co2p 796eV</text>
<text class="sans" transform="matrix(0.2245 0 0 0.2714 555.78 1996.70)">Co2p 783eV</text>
<text class="sans" transform="matrix(0.2247 0 0 0.2629 232.98 2065.80)">Co2p 799eV</text>
<text class="serif" transform="matrix(0.2815 0 0 0.3303 236.07 1775.60)">Co2p Scan</text>
<text class="sans" transform="matrix(0.1943 0 0 0.2310 255.18 2197.47)">803</text>
<text class="sans" transform="matrix(0.1949 0 0 0.2310 364.38 2197.47)">798</text>
<text class="sans" transform="matrix(0.1949 0 0 0.2310 473.68 2197.47)">793</text>
<text class="sans" transform="matrix(0.1949 0 0 0.2310 582.98 2197.47)">788</text>
<text class="sans" transform="matrix(0.1949 0 0 0.2310 692.28 2197.47)">783</text>
<text class="sans" transform="matrix(0.1949 0 0 0.2310 801.58 2197.47)">778</text>
<text class="sans" transform="matrix(0.1949 0 0 0.2310 910.88 2197.47)">773</text>
<text class="sans" transform="matrix(0.1912 0 0 0.2254 944.84 1786.57)">800</text>
<text class="sans" transform="matrix(0.1918 0 0 0.2254 944.74 1880.77)">600</text>
<text class="sans" transform="matrix(0.1882 0 0 0.2254 945.32 1975.37)">400</text>
<text class="sans" transform="matrix(0.1918 0 0 0.2254 944.74 2069.87)">200</text>
<text class="sans" transform="matrix(0.1813 0 0 0.2254 944.98 2164.17)">0</text>
<text class="serif" transform="matrix(0.2351 0 0 0.2780 503.79 2231.22)">Binding Energy(eV)</text>
<text class="serif" transform="translate(997.39 2065.16) rotate(-90) scale(0.2734 0.2330)">Intensity(cps)</text>
<text class="cjk" transform="matrix(0.3719 0 0 0.3080 561.42 2289.38)">（</text>
<text class="serif" transform="matrix(0.4590 0 0 0.3773 601.82 2291.50)">f</text>
<text class="cjk" transform="matrix(0.3719 0 0 0.3080 616.18 2289.38)">）</text>
</svg></body></html>
